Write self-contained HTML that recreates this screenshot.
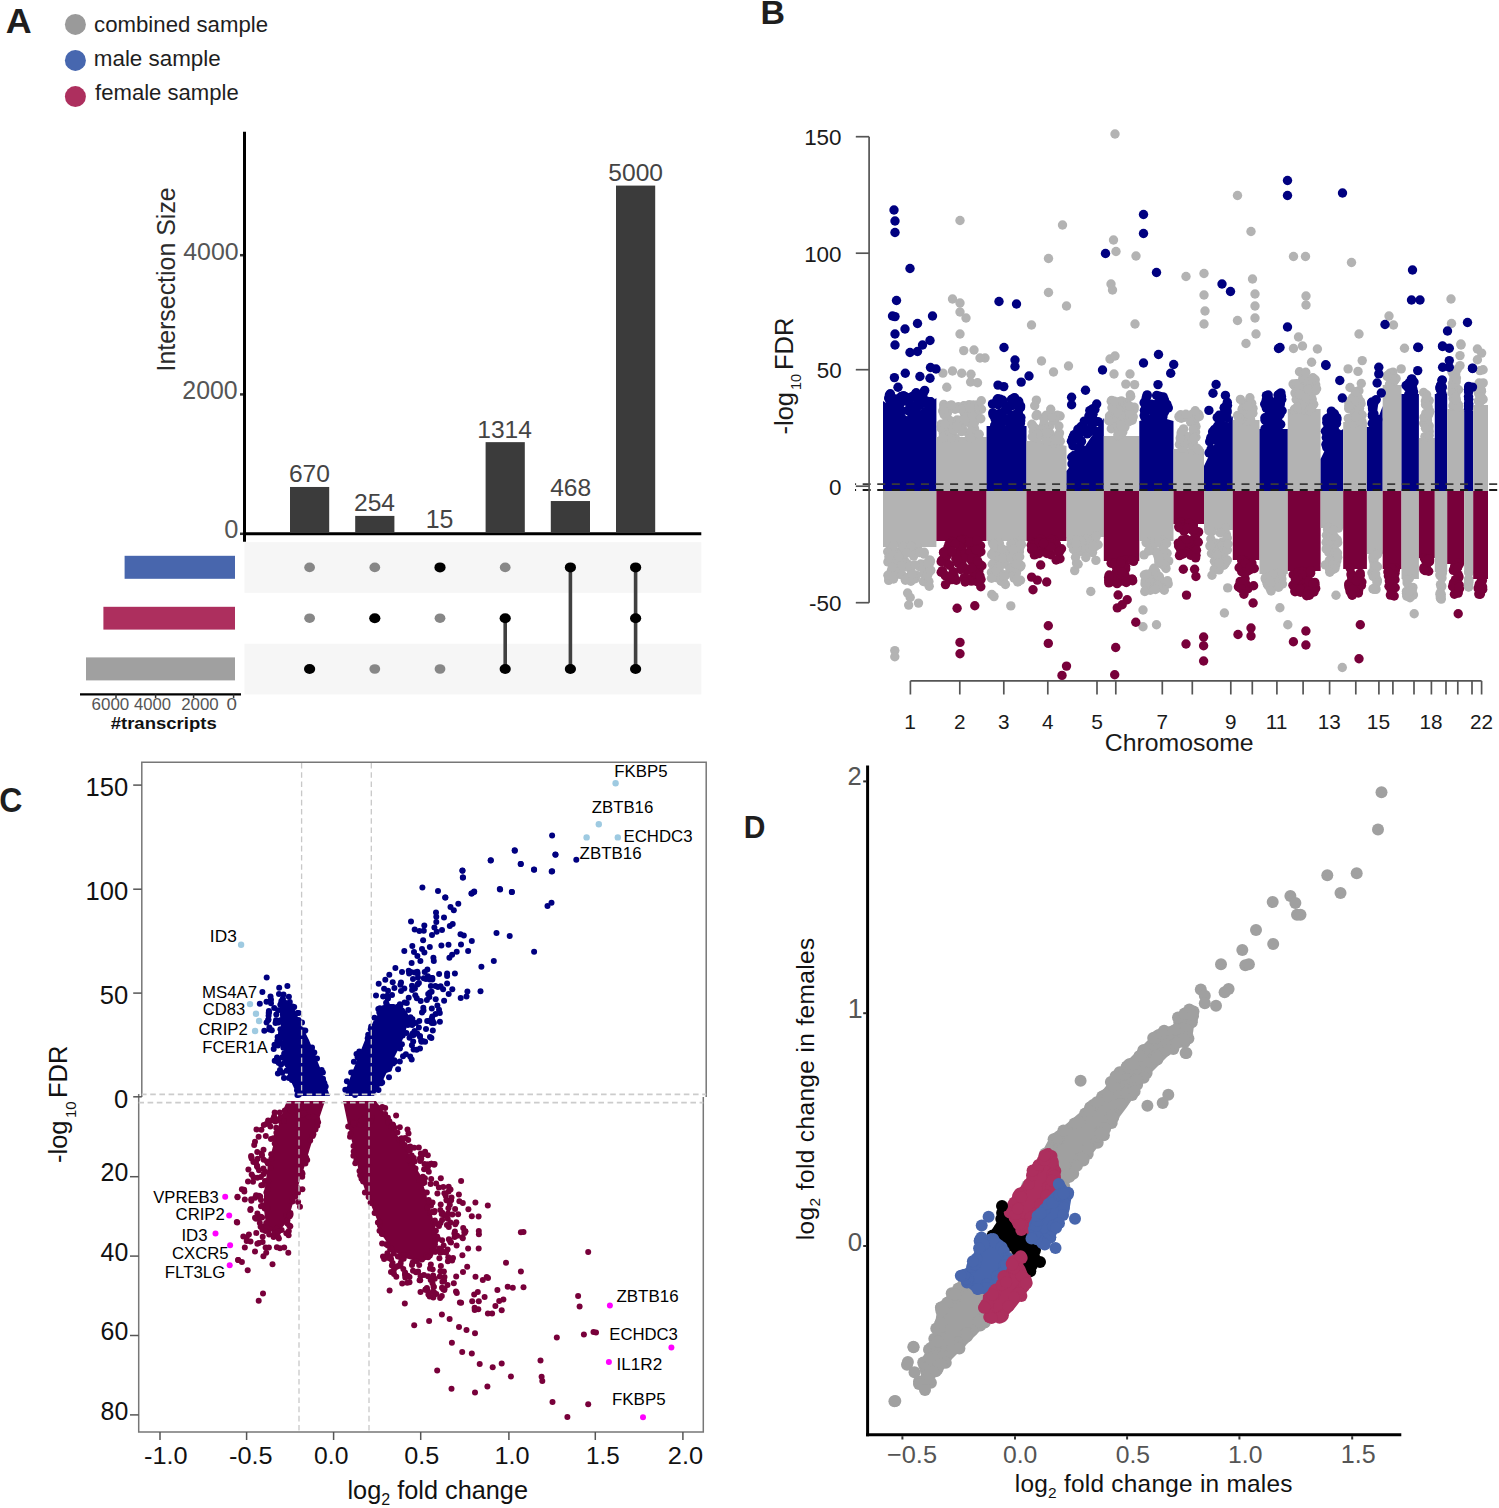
<!DOCTYPE html>
<html><head><meta charset="utf-8"><style>
html,body{margin:0;padding:0;background:#fff;}
svg{display:block;font-family:"Liberation Sans",sans-serif;}
</style></head><body>
<svg width="1499" height="1508" viewBox="0 0 1499 1508">
<rect width="1499" height="1508" fill="#fff"/>
<circle cx="75.4" cy="24.4" r="10.5" fill="#9a9a9a"/>
<circle cx="75.4" cy="60.4" r="10.5" fill="#4767af"/>
<circle cx="75.4" cy="96.6" r="10.5" fill="#ad2f5e"/>
<line x1="244.50" y1="131.80" x2="244.50" y2="541.80" stroke="#000" stroke-width="3"/>
<line x1="243.00" y1="533.80" x2="701.30" y2="533.80" stroke="#000" stroke-width="3"/>
<line x1="240.00" y1="255.20" x2="243.00" y2="255.20" stroke="#333" stroke-width="2.5"/>
<line x1="240.00" y1="394.40" x2="243.00" y2="394.40" stroke="#333" stroke-width="2.5"/>
<line x1="240.00" y1="533.80" x2="243.00" y2="533.80" stroke="#333" stroke-width="2.5"/>
<rect x="290.00" y="486.97" width="39.20" height="46.03" fill="#3b3b3b"/>
<rect x="355.20" y="515.92" width="39.20" height="17.08" fill="#3b3b3b"/>
<rect x="420.40" y="532.56" width="39.20" height="0.44" fill="#3b3b3b"/>
<rect x="485.60" y="442.15" width="39.20" height="90.85" fill="#3b3b3b"/>
<rect x="550.80" y="501.03" width="39.20" height="31.97" fill="#3b3b3b"/>
<rect x="616.00" y="185.60" width="39.20" height="347.40" fill="#3b3b3b"/>
<rect x="244.50" y="542.20" width="456.80" height="50.60" fill="#f6f6f6"/>
<rect x="244.50" y="643.80" width="456.80" height="50.60" fill="#f6f6f6"/>
<ellipse cx="309.6" cy="567.4" rx="5.4" ry="4.8" fill="#878787"/>
<ellipse cx="309.6" cy="618.2" rx="5.4" ry="4.8" fill="#878787"/>
<ellipse cx="309.6" cy="669.0" rx="5.6" ry="5.0" fill="#000"/>
<ellipse cx="374.8" cy="567.4" rx="5.4" ry="4.8" fill="#878787"/>
<ellipse cx="374.8" cy="618.2" rx="5.6" ry="5.0" fill="#000"/>
<ellipse cx="374.8" cy="669.0" rx="5.4" ry="4.8" fill="#878787"/>
<ellipse cx="440.0" cy="567.4" rx="5.6" ry="5.0" fill="#000"/>
<ellipse cx="440.0" cy="618.2" rx="5.4" ry="4.8" fill="#878787"/>
<ellipse cx="440.0" cy="669.0" rx="5.4" ry="4.8" fill="#878787"/>
<line x1="505.20" y1="618.20" x2="505.20" y2="669.00" stroke="#404040" stroke-width="3.6"/>
<ellipse cx="505.2" cy="567.4" rx="5.4" ry="4.8" fill="#878787"/>
<ellipse cx="505.2" cy="618.2" rx="5.6" ry="5.0" fill="#000"/>
<ellipse cx="505.2" cy="669.0" rx="5.6" ry="5.0" fill="#000"/>
<line x1="570.40" y1="567.40" x2="570.40" y2="669.00" stroke="#404040" stroke-width="3.6"/>
<ellipse cx="570.4" cy="567.4" rx="5.6" ry="5.0" fill="#000"/>
<ellipse cx="570.4" cy="669.0" rx="5.6" ry="5.0" fill="#000"/>
<line x1="635.60" y1="567.40" x2="635.60" y2="669.00" stroke="#404040" stroke-width="3.6"/>
<ellipse cx="635.6" cy="567.4" rx="5.6" ry="5.0" fill="#000"/>
<ellipse cx="635.6" cy="618.2" rx="5.6" ry="5.0" fill="#000"/>
<ellipse cx="635.6" cy="669.0" rx="5.6" ry="5.0" fill="#000"/>
<rect x="124.60" y="555.80" width="110.40" height="23.00" fill="#4866ad"/>
<rect x="103.40" y="606.80" width="131.60" height="22.80" fill="#ad2f5e"/>
<rect x="86.00" y="657.40" width="149.00" height="23.00" fill="#a0a0a0"/>
<line x1="80.00" y1="694.40" x2="241.00" y2="694.40" stroke="#000" stroke-width="2.4"/>
<line x1="116.00" y1="694.40" x2="116.00" y2="698.00" stroke="#333" stroke-width="1.5"/>
<line x1="155.60" y1="694.40" x2="155.60" y2="698.00" stroke="#333" stroke-width="1.5"/>
<line x1="193.60" y1="694.40" x2="193.60" y2="698.00" stroke="#333" stroke-width="1.5"/>
<line x1="233.60" y1="694.40" x2="233.60" y2="698.00" stroke="#333" stroke-width="1.5"/>
<g fill="#000080"><polygon points="883.0,491.0 936.4,491.0 936.4,398.0 929.7,403.0 923.0,408.0 916.4,413.0 909.7,418.0 903.0,413.8 896.4,409.5 889.7,405.2 883.0,401.0"/><circle cx="901.9" cy="411.0" r="4.7"/><circle cx="916.3" cy="412.9" r="4.7"/><circle cx="911.3" cy="408.9" r="4.7"/><circle cx="890.3" cy="398.0" r="4.7"/><circle cx="889.3" cy="398.9" r="4.7"/><circle cx="890.8" cy="405.9" r="4.7"/><circle cx="906.4" cy="397.9" r="4.7"/><circle cx="893.1" cy="404.6" r="4.7"/><circle cx="915.3" cy="394.0" r="4.7"/><circle cx="913.1" cy="407.1" r="4.7"/><circle cx="930.7" cy="403.2" r="4.7"/><circle cx="925.5" cy="401.9" r="4.7"/><circle cx="894.0" cy="407.2" r="4.7"/><circle cx="901.3" cy="396.4" r="4.7"/><circle cx="895.7" cy="398.9" r="4.7"/><circle cx="915.8" cy="406.1" r="4.7"/><circle cx="911.8" cy="416.4" r="4.7"/><circle cx="890.3" cy="403.4" r="4.7"/><circle cx="917.6" cy="403.8" r="4.7"/><circle cx="901.5" cy="401.2" r="4.7"/><circle cx="907.6" cy="410.5" r="4.7"/><circle cx="922.7" cy="395.7" r="4.7"/><circle cx="898.4" cy="400.2" r="4.7"/><circle cx="910.8" cy="397.4" r="4.7"/><circle cx="919.8" cy="405.5" r="4.7"/><circle cx="930.8" cy="401.7" r="4.7"/><circle cx="906.1" cy="399.3" r="4.7"/><circle cx="894.4" cy="400.1" r="4.7"/><circle cx="889.4" cy="395.0" r="4.7"/><circle cx="921.3" cy="398.8" r="4.7"/><circle cx="926.2" cy="401.0" r="4.7"/><circle cx="918.3" cy="399.9" r="4.7"/><circle cx="913.2" cy="405.7" r="4.7"/><circle cx="924.7" cy="390.4" r="4.7"/><circle cx="908.6" cy="402.3" r="4.7"/><circle cx="890.4" cy="394.8" r="4.7"/><circle cx="916.2" cy="392.7" r="4.7"/><circle cx="923.9" cy="403.0" r="4.7"/><circle cx="904.7" cy="400.7" r="4.7"/><circle cx="888.7" cy="398.1" r="4.7"/><circle cx="895.1" cy="407.9" r="4.7"/><circle cx="890.3" cy="393.7" r="4.7"/><circle cx="893.4" cy="404.2" r="4.7"/><circle cx="904.9" cy="396.4" r="4.7"/><circle cx="891.2" cy="399.4" r="4.7"/><circle cx="911.9" cy="396.7" r="4.7"/><circle cx="923.7" cy="392.2" r="4.7"/><circle cx="900.0" cy="404.1" r="4.7"/><circle cx="903.5" cy="395.7" r="4.7"/><circle cx="929.8" cy="401.7" r="4.7"/><circle cx="895.5" cy="405.7" r="4.7"/><circle cx="898.0" cy="387.3" r="4.7"/></g>
<g fill="#b3b3b3"><rect x="883.0" y="491.0" width="53.4" height="56.0"/><circle cx="913.6" cy="556.1" r="4.7"/><circle cx="887.9" cy="561.9" r="4.7"/><circle cx="903.9" cy="567.2" r="4.7"/><circle cx="929.6" cy="571.5" r="4.7"/><circle cx="910.4" cy="569.0" r="4.7"/><circle cx="917.5" cy="547.7" r="4.7"/><circle cx="927.3" cy="574.6" r="4.7"/><circle cx="926.2" cy="575.2" r="4.7"/><circle cx="905.0" cy="561.2" r="4.7"/><circle cx="892.3" cy="569.6" r="4.7"/><circle cx="890.4" cy="548.3" r="4.7"/><circle cx="896.9" cy="552.2" r="4.7"/><circle cx="902.7" cy="547.6" r="4.7"/><circle cx="887.7" cy="551.8" r="4.7"/><circle cx="892.2" cy="559.9" r="4.7"/><circle cx="888.8" cy="577.8" r="4.7"/><circle cx="914.7" cy="551.7" r="4.7"/><circle cx="898.8" cy="559.3" r="4.7"/><circle cx="903.7" cy="550.6" r="4.7"/><circle cx="925.1" cy="581.8" r="4.7"/><circle cx="908.2" cy="564.2" r="4.7"/><circle cx="891.5" cy="549.7" r="4.7"/><circle cx="902.8" cy="556.2" r="4.7"/><circle cx="924.2" cy="552.2" r="4.7"/><circle cx="888.7" cy="580.4" r="4.7"/><circle cx="910.9" cy="551.6" r="4.7"/><circle cx="911.6" cy="546.4" r="4.7"/><circle cx="910.9" cy="581.3" r="4.7"/><circle cx="925.7" cy="571.7" r="4.7"/><circle cx="899.2" cy="560.0" r="4.7"/><circle cx="895.0" cy="574.3" r="4.7"/><circle cx="911.1" cy="574.6" r="4.7"/><circle cx="902.2" cy="554.6" r="4.7"/><circle cx="923.4" cy="581.5" r="4.7"/><circle cx="925.2" cy="575.5" r="4.7"/><circle cx="923.7" cy="573.2" r="4.7"/><circle cx="897.7" cy="565.5" r="4.7"/><circle cx="903.3" cy="546.5" r="4.7"/><circle cx="888.9" cy="556.7" r="4.7"/><circle cx="899.1" cy="571.6" r="4.7"/><circle cx="929.8" cy="562.9" r="4.7"/><circle cx="928.9" cy="581.6" r="4.7"/><circle cx="929.7" cy="559.9" r="4.7"/><circle cx="897.4" cy="554.7" r="4.7"/><circle cx="896.4" cy="553.9" r="4.7"/><circle cx="915.2" cy="578.7" r="4.7"/><circle cx="924.7" cy="564.1" r="4.7"/><circle cx="916.4" cy="575.3" r="4.7"/><circle cx="891.4" cy="570.5" r="4.7"/><circle cx="927.7" cy="574.7" r="4.7"/><circle cx="920.7" cy="564.0" r="4.7"/><circle cx="895.6" cy="574.9" r="4.7"/><circle cx="902.3" cy="575.3" r="4.7"/><circle cx="930.5" cy="561.1" r="4.7"/><circle cx="905.4" cy="580.2" r="4.7"/><circle cx="919.6" cy="552.5" r="4.7"/><circle cx="893.3" cy="551.8" r="4.7"/><circle cx="927.5" cy="575.5" r="4.7"/><circle cx="894.1" cy="576.2" r="4.7"/><circle cx="930.8" cy="570.4" r="4.7"/><circle cx="903.1" cy="566.6" r="4.7"/><circle cx="893.5" cy="545.8" r="4.7"/><circle cx="930.4" cy="570.1" r="4.7"/><circle cx="910.9" cy="579.8" r="4.7"/><circle cx="906.8" cy="577.7" r="4.7"/><circle cx="924.1" cy="554.1" r="4.7"/><circle cx="898.8" cy="557.3" r="4.7"/><circle cx="898.3" cy="567.9" r="4.7"/><circle cx="899.1" cy="561.9" r="4.7"/><circle cx="893.5" cy="579.0" r="4.7"/><circle cx="903.3" cy="563.3" r="4.7"/><circle cx="913.4" cy="578.8" r="4.7"/><circle cx="906.2" cy="579.2" r="4.7"/><circle cx="909.8" cy="566.0" r="4.7"/><circle cx="910.7" cy="546.0" r="4.7"/><circle cx="907.1" cy="553.0" r="4.7"/><circle cx="887.9" cy="575.2" r="4.7"/><circle cx="895.3" cy="563.9" r="4.7"/><circle cx="919.6" cy="566.8" r="4.7"/><circle cx="902.0" cy="565.5" r="4.7"/><circle cx="912.1" cy="574.7" r="4.7"/><circle cx="892.4" cy="567.0" r="4.7"/><circle cx="898.6" cy="556.6" r="4.7"/><circle cx="921.7" cy="565.1" r="4.7"/><circle cx="912.4" cy="573.9" r="4.7"/><circle cx="927.8" cy="562.8" r="4.7"/><circle cx="914.7" cy="565.0" r="4.7"/><circle cx="910.2" cy="597.5" r="4.7"/><circle cx="907.6" cy="593.0" r="4.7"/><circle cx="908.7" cy="605.1" r="4.7"/><circle cx="918.5" cy="603.1" r="4.7"/><circle cx="929.2" cy="586.3" r="4.7"/></g>
<g fill="#b3b3b3"><polygon points="936.4,491.0 986.6,491.0 986.6,437.0 980.3,437.0 974.0,437.0 967.8,437.0 961.5,437.0 955.2,437.0 949.0,437.0 942.7,437.0 936.4,437.0"/><circle cx="963.9" cy="405.8" r="4.7"/><circle cx="975.4" cy="433.1" r="4.7"/><circle cx="946.1" cy="422.2" r="4.7"/><circle cx="944.1" cy="429.3" r="4.7"/><circle cx="944.1" cy="414.6" r="4.7"/><circle cx="973.1" cy="407.3" r="4.7"/><circle cx="947.4" cy="413.1" r="4.7"/><circle cx="968.0" cy="432.9" r="4.7"/><circle cx="977.1" cy="405.0" r="4.7"/><circle cx="950.1" cy="405.5" r="4.7"/><circle cx="957.3" cy="420.7" r="4.7"/><circle cx="981.5" cy="409.3" r="4.7"/><circle cx="947.7" cy="422.6" r="4.7"/><circle cx="962.1" cy="425.8" r="4.7"/><circle cx="949.1" cy="426.5" r="4.7"/><circle cx="970.6" cy="438.0" r="4.7"/><circle cx="963.7" cy="422.3" r="4.7"/><circle cx="941.8" cy="426.0" r="4.7"/><circle cx="966.6" cy="419.8" r="4.7"/><circle cx="943.7" cy="404.5" r="4.7"/><circle cx="973.3" cy="404.9" r="4.7"/><circle cx="945.4" cy="428.4" r="4.7"/><circle cx="942.7" cy="411.0" r="4.7"/><circle cx="952.1" cy="433.4" r="4.7"/><circle cx="958.3" cy="406.8" r="4.7"/><circle cx="974.5" cy="428.6" r="4.7"/><circle cx="947.2" cy="406.6" r="4.7"/><circle cx="964.4" cy="413.6" r="4.7"/><circle cx="944.8" cy="436.3" r="4.7"/><circle cx="969.2" cy="422.8" r="4.7"/><circle cx="944.1" cy="405.9" r="4.7"/><circle cx="967.0" cy="410.3" r="4.7"/><circle cx="944.5" cy="408.6" r="4.7"/><circle cx="943.8" cy="408.4" r="4.7"/><circle cx="959.6" cy="425.8" r="4.7"/><circle cx="963.7" cy="406.3" r="4.7"/><circle cx="952.0" cy="433.5" r="4.7"/><circle cx="962.6" cy="429.4" r="4.7"/><circle cx="945.6" cy="432.2" r="4.7"/><circle cx="943.2" cy="430.7" r="4.7"/><circle cx="953.8" cy="427.0" r="4.7"/><circle cx="972.1" cy="427.5" r="4.7"/><circle cx="961.5" cy="431.6" r="4.7"/><circle cx="955.3" cy="438.1" r="4.7"/><circle cx="951.3" cy="438.2" r="4.7"/><circle cx="971.0" cy="418.5" r="4.7"/><circle cx="948.8" cy="421.1" r="4.7"/><circle cx="979.2" cy="434.3" r="4.7"/><circle cx="974.5" cy="422.6" r="4.7"/><circle cx="961.3" cy="409.3" r="4.7"/><circle cx="957.1" cy="420.0" r="4.7"/><circle cx="969.2" cy="404.6" r="4.7"/><circle cx="955.1" cy="409.3" r="4.7"/><circle cx="969.9" cy="415.7" r="4.7"/><circle cx="957.6" cy="425.5" r="4.7"/><circle cx="943.3" cy="433.4" r="4.7"/><circle cx="944.0" cy="412.3" r="4.7"/><circle cx="951.5" cy="432.2" r="4.7"/><circle cx="944.5" cy="409.0" r="4.7"/><circle cx="976.6" cy="414.6" r="4.7"/><circle cx="952.6" cy="429.2" r="4.7"/><circle cx="953.1" cy="421.6" r="4.7"/><circle cx="947.5" cy="422.1" r="4.7"/><circle cx="951.8" cy="405.2" r="4.7"/><circle cx="980.8" cy="418.7" r="4.7"/><circle cx="951.1" cy="405.1" r="4.7"/><circle cx="953.7" cy="425.2" r="4.7"/><circle cx="941.1" cy="424.3" r="4.7"/><circle cx="960.5" cy="420.2" r="4.7"/><circle cx="949.3" cy="420.1" r="4.7"/><circle cx="941.3" cy="428.4" r="4.7"/><circle cx="944.8" cy="423.7" r="4.7"/><circle cx="942.8" cy="437.8" r="4.7"/><circle cx="953.5" cy="429.6" r="4.7"/><circle cx="965.0" cy="419.3" r="4.7"/><circle cx="971.7" cy="415.0" r="4.7"/><circle cx="970.3" cy="407.8" r="4.7"/><circle cx="957.0" cy="426.2" r="4.7"/><circle cx="981.3" cy="400.7" r="4.7"/><circle cx="970.6" cy="382.0" r="4.7"/><circle cx="942.9" cy="373.1" r="4.7"/><circle cx="977.5" cy="382.7" r="4.7"/><circle cx="971.0" cy="374.2" r="4.7"/><circle cx="946.8" cy="387.2" r="4.7"/><circle cx="961.7" cy="373.2" r="4.7"/></g>
<g fill="#78003a"><rect x="936.4" y="491.0" width="50.2" height="50.0"/><circle cx="973.9" cy="575.2" r="4.7"/><circle cx="964.9" cy="577.8" r="4.7"/><circle cx="969.0" cy="569.9" r="4.7"/><circle cx="950.5" cy="540.9" r="4.7"/><circle cx="946.5" cy="556.2" r="4.7"/><circle cx="945.4" cy="575.6" r="4.7"/><circle cx="963.9" cy="567.3" r="4.7"/><circle cx="966.7" cy="569.4" r="4.7"/><circle cx="961.1" cy="539.3" r="4.7"/><circle cx="973.6" cy="572.1" r="4.7"/><circle cx="961.6" cy="563.5" r="4.7"/><circle cx="968.0" cy="542.7" r="4.7"/><circle cx="971.2" cy="551.4" r="4.7"/><circle cx="944.1" cy="552.0" r="4.7"/><circle cx="970.9" cy="549.3" r="4.7"/><circle cx="971.3" cy="581.1" r="4.7"/><circle cx="961.3" cy="557.1" r="4.7"/><circle cx="960.6" cy="569.5" r="4.7"/><circle cx="972.4" cy="566.8" r="4.7"/><circle cx="967.3" cy="543.3" r="4.7"/><circle cx="947.1" cy="551.5" r="4.7"/><circle cx="971.4" cy="553.7" r="4.7"/><circle cx="964.3" cy="539.8" r="4.7"/><circle cx="943.6" cy="552.2" r="4.7"/><circle cx="968.5" cy="569.9" r="4.7"/><circle cx="968.7" cy="553.2" r="4.7"/><circle cx="962.2" cy="560.6" r="4.7"/><circle cx="960.1" cy="545.3" r="4.7"/><circle cx="977.6" cy="549.1" r="4.7"/><circle cx="981.0" cy="579.5" r="4.7"/><circle cx="941.8" cy="560.3" r="4.7"/><circle cx="974.6" cy="580.8" r="4.7"/><circle cx="959.4" cy="552.2" r="4.7"/><circle cx="949.7" cy="579.9" r="4.7"/><circle cx="949.7" cy="565.4" r="4.7"/><circle cx="946.9" cy="563.0" r="4.7"/><circle cx="980.0" cy="546.0" r="4.7"/><circle cx="974.6" cy="562.4" r="4.7"/><circle cx="977.3" cy="570.3" r="4.7"/><circle cx="950.5" cy="578.0" r="4.7"/><circle cx="960.9" cy="540.5" r="4.7"/><circle cx="941.2" cy="561.7" r="4.7"/><circle cx="959.5" cy="553.6" r="4.7"/><circle cx="946.8" cy="555.5" r="4.7"/><circle cx="954.0" cy="575.8" r="4.7"/><circle cx="941.2" cy="572.2" r="4.7"/><circle cx="975.3" cy="545.4" r="4.7"/><circle cx="978.9" cy="570.7" r="4.7"/><circle cx="977.9" cy="553.1" r="4.7"/><circle cx="956.3" cy="557.5" r="4.7"/><circle cx="981.9" cy="565.7" r="4.7"/><circle cx="955.8" cy="559.0" r="4.7"/><circle cx="952.3" cy="541.8" r="4.7"/><circle cx="945.2" cy="575.5" r="4.7"/><circle cx="952.8" cy="579.5" r="4.7"/><circle cx="951.3" cy="552.0" r="4.7"/><circle cx="961.9" cy="548.6" r="4.7"/><circle cx="956.3" cy="580.3" r="4.7"/><circle cx="977.2" cy="574.6" r="4.7"/><circle cx="966.8" cy="578.6" r="4.7"/><circle cx="979.5" cy="564.1" r="4.7"/><circle cx="970.5" cy="541.9" r="4.7"/><circle cx="971.0" cy="560.0" r="4.7"/><circle cx="971.8" cy="568.0" r="4.7"/><circle cx="952.8" cy="541.8" r="4.7"/><circle cx="978.9" cy="545.7" r="4.7"/><circle cx="960.4" cy="555.4" r="4.7"/><circle cx="953.2" cy="571.8" r="4.7"/><circle cx="980.9" cy="551.8" r="4.7"/><circle cx="967.9" cy="553.6" r="4.7"/><circle cx="963.8" cy="557.6" r="4.7"/><circle cx="947.9" cy="547.3" r="4.7"/><circle cx="949.6" cy="578.3" r="4.7"/><circle cx="961.4" cy="550.0" r="4.7"/><circle cx="978.1" cy="581.9" r="4.7"/><circle cx="959.5" cy="546.3" r="4.7"/><circle cx="949.0" cy="544.0" r="4.7"/><circle cx="955.1" cy="544.0" r="4.7"/><circle cx="950.9" cy="551.7" r="4.7"/><circle cx="964.3" cy="577.6" r="4.7"/><circle cx="971.7" cy="558.4" r="4.7"/><circle cx="958.0" cy="563.0" r="4.7"/><circle cx="956.5" cy="555.2" r="4.7"/><circle cx="943.6" cy="552.6" r="4.7"/><circle cx="980.6" cy="545.7" r="4.7"/><circle cx="961.6" cy="567.4" r="4.7"/><circle cx="976.3" cy="549.8" r="4.7"/><circle cx="952.2" cy="551.3" r="4.7"/><circle cx="957.4" cy="559.8" r="4.7"/><circle cx="980.0" cy="576.1" r="4.7"/><circle cx="976.7" cy="540.4" r="4.7"/><circle cx="942.4" cy="570.6" r="4.7"/><circle cx="977.6" cy="560.9" r="4.7"/><circle cx="965.1" cy="582.0" r="4.7"/><circle cx="957.1" cy="608.3" r="4.7"/><circle cx="974.8" cy="605.7" r="4.7"/><circle cx="980.8" cy="586.7" r="4.7"/><circle cx="945.5" cy="584.6" r="4.7"/></g>
<g fill="#000080"><polygon points="986.6,491.0 1026.5,491.0 1026.5,426.0 1021.5,426.0 1016.5,426.0 1011.5,426.0 1006.5,426.0 1001.6,426.0 996.6,426.0 991.6,426.0 986.6,426.0"/><circle cx="1007.2" cy="406.7" r="4.7"/><circle cx="1020.0" cy="405.6" r="4.7"/><circle cx="1011.0" cy="404.4" r="4.7"/><circle cx="1005.2" cy="410.4" r="4.7"/><circle cx="992.5" cy="403.9" r="4.7"/><circle cx="998.4" cy="400.2" r="4.7"/><circle cx="1011.0" cy="417.7" r="4.7"/><circle cx="995.2" cy="419.3" r="4.7"/><circle cx="1010.7" cy="406.3" r="4.7"/><circle cx="994.7" cy="425.2" r="4.7"/><circle cx="1007.3" cy="409.5" r="4.7"/><circle cx="1003.1" cy="420.2" r="4.7"/><circle cx="1009.6" cy="427.5" r="4.7"/><circle cx="1000.5" cy="413.1" r="4.7"/><circle cx="1020.5" cy="407.8" r="4.7"/><circle cx="1018.3" cy="412.6" r="4.7"/><circle cx="998.5" cy="419.5" r="4.7"/><circle cx="1020.6" cy="406.1" r="4.7"/><circle cx="1000.7" cy="427.0" r="4.7"/><circle cx="1006.5" cy="407.0" r="4.7"/><circle cx="1004.1" cy="419.2" r="4.7"/><circle cx="1011.7" cy="400.0" r="4.7"/><circle cx="998.2" cy="426.6" r="4.7"/><circle cx="1001.6" cy="414.2" r="4.7"/><circle cx="1012.1" cy="421.0" r="4.7"/><circle cx="1015.6" cy="405.1" r="4.7"/><circle cx="1006.7" cy="420.8" r="4.7"/><circle cx="1020.9" cy="417.5" r="4.7"/><circle cx="1016.3" cy="420.0" r="4.7"/><circle cx="998.1" cy="404.6" r="4.7"/><circle cx="1000.3" cy="399.3" r="4.7"/><circle cx="1006.4" cy="421.4" r="4.7"/><circle cx="998.1" cy="414.3" r="4.7"/><circle cx="1011.6" cy="399.4" r="4.7"/><circle cx="995.8" cy="415.0" r="4.7"/><circle cx="997.8" cy="398.7" r="4.7"/><circle cx="995.6" cy="425.9" r="4.7"/><circle cx="993.1" cy="415.0" r="4.7"/><circle cx="1018.7" cy="401.2" r="4.7"/><circle cx="1013.6" cy="398.1" r="4.7"/><circle cx="1019.7" cy="417.0" r="4.7"/><circle cx="997.0" cy="399.7" r="4.7"/><circle cx="1014.1" cy="426.6" r="4.7"/><circle cx="1011.6" cy="415.5" r="4.7"/><circle cx="1002.7" cy="416.9" r="4.7"/><circle cx="996.5" cy="427.8" r="4.7"/><circle cx="999.8" cy="416.3" r="4.7"/><circle cx="1020.4" cy="423.4" r="4.7"/><circle cx="1020.7" cy="420.7" r="4.7"/><circle cx="1002.2" cy="402.9" r="4.7"/><circle cx="1016.4" cy="413.9" r="4.7"/><circle cx="992.8" cy="412.7" r="4.7"/><circle cx="1002.7" cy="400.2" r="4.7"/><circle cx="997.2" cy="415.9" r="4.7"/><circle cx="1018.7" cy="426.7" r="4.7"/><circle cx="1003.8" cy="386.6" r="4.7"/><circle cx="1014.7" cy="397.8" r="4.7"/></g>
<g fill="#b3b3b3"><rect x="986.6" y="491.0" width="39.9" height="50.0"/><circle cx="992.4" cy="542.6" r="4.7"/><circle cx="1019.4" cy="551.7" r="4.7"/><circle cx="1014.1" cy="578.1" r="4.7"/><circle cx="1001.6" cy="552.3" r="4.7"/><circle cx="1020.5" cy="566.8" r="4.7"/><circle cx="999.3" cy="570.9" r="4.7"/><circle cx="1001.0" cy="552.5" r="4.7"/><circle cx="991.4" cy="572.4" r="4.7"/><circle cx="1019.3" cy="567.5" r="4.7"/><circle cx="1020.1" cy="540.5" r="4.7"/><circle cx="998.4" cy="561.0" r="4.7"/><circle cx="1020.5" cy="580.2" r="4.7"/><circle cx="1003.1" cy="551.4" r="4.7"/><circle cx="1004.4" cy="561.8" r="4.7"/><circle cx="1019.6" cy="548.3" r="4.7"/><circle cx="1015.8" cy="571.7" r="4.7"/><circle cx="1016.4" cy="573.1" r="4.7"/><circle cx="1009.8" cy="554.8" r="4.7"/><circle cx="1001.0" cy="556.2" r="4.7"/><circle cx="1015.2" cy="543.4" r="4.7"/><circle cx="997.3" cy="572.3" r="4.7"/><circle cx="998.8" cy="542.7" r="4.7"/><circle cx="992.3" cy="564.2" r="4.7"/><circle cx="1001.2" cy="581.2" r="4.7"/><circle cx="1018.2" cy="581.5" r="4.7"/><circle cx="999.4" cy="543.6" r="4.7"/><circle cx="994.2" cy="562.0" r="4.7"/><circle cx="1012.9" cy="559.8" r="4.7"/><circle cx="998.4" cy="558.6" r="4.7"/><circle cx="1010.2" cy="569.2" r="4.7"/><circle cx="1014.1" cy="576.0" r="4.7"/><circle cx="1011.6" cy="545.4" r="4.7"/><circle cx="1016.9" cy="553.3" r="4.7"/><circle cx="1008.6" cy="556.7" r="4.7"/><circle cx="1013.8" cy="549.1" r="4.7"/><circle cx="998.8" cy="551.1" r="4.7"/><circle cx="996.0" cy="577.5" r="4.7"/><circle cx="1008.9" cy="554.7" r="4.7"/><circle cx="1003.4" cy="581.7" r="4.7"/><circle cx="1006.8" cy="550.5" r="4.7"/><circle cx="1016.0" cy="568.3" r="4.7"/><circle cx="1021.5" cy="544.5" r="4.7"/><circle cx="1005.8" cy="574.9" r="4.7"/><circle cx="1016.9" cy="578.7" r="4.7"/><circle cx="992.5" cy="553.3" r="4.7"/><circle cx="994.9" cy="548.6" r="4.7"/><circle cx="1021.0" cy="565.5" r="4.7"/><circle cx="1019.7" cy="556.7" r="4.7"/><circle cx="1017.7" cy="559.9" r="4.7"/><circle cx="999.2" cy="573.3" r="4.7"/><circle cx="1020.1" cy="544.7" r="4.7"/><circle cx="1009.5" cy="567.0" r="4.7"/><circle cx="997.9" cy="556.5" r="4.7"/><circle cx="995.6" cy="549.3" r="4.7"/><circle cx="999.1" cy="566.1" r="4.7"/><circle cx="1011.2" cy="549.3" r="4.7"/><circle cx="991.6" cy="554.7" r="4.7"/><circle cx="1012.0" cy="548.4" r="4.7"/><circle cx="1000.8" cy="549.3" r="4.7"/><circle cx="1015.6" cy="564.0" r="4.7"/><circle cx="993.2" cy="544.5" r="4.7"/><circle cx="1003.4" cy="564.1" r="4.7"/><circle cx="1010.8" cy="544.0" r="4.7"/><circle cx="996.3" cy="570.0" r="4.7"/><circle cx="1003.8" cy="552.8" r="4.7"/><circle cx="1000.7" cy="580.2" r="4.7"/><circle cx="1000.8" cy="564.8" r="4.7"/><circle cx="1002.2" cy="558.5" r="4.7"/><circle cx="1017.7" cy="581.9" r="4.7"/><circle cx="1002.4" cy="549.0" r="4.7"/><circle cx="1013.5" cy="549.3" r="4.7"/><circle cx="991.5" cy="578.2" r="4.7"/><circle cx="1004.2" cy="575.0" r="4.7"/><circle cx="1003.7" cy="577.4" r="4.7"/><circle cx="1005.4" cy="584.5" r="4.7"/><circle cx="991.8" cy="594.5" r="4.7"/><circle cx="1010.8" cy="605.9" r="4.7"/><circle cx="994.0" cy="596.6" r="4.7"/></g>
<g fill="#b3b3b3"><polygon points="1026.5,491.0 1066.5,491.0 1066.5,446.0 1061.5,444.8 1056.5,443.5 1051.5,442.2 1046.5,441.0 1041.5,441.0 1036.5,441.0 1031.5,441.0 1026.5,441.0"/><circle cx="1042.5" cy="427.3" r="4.7"/><circle cx="1035.7" cy="433.7" r="4.7"/><circle cx="1047.1" cy="416.0" r="4.7"/><circle cx="1034.5" cy="427.7" r="4.7"/><circle cx="1055.8" cy="415.8" r="4.7"/><circle cx="1037.2" cy="438.5" r="4.7"/><circle cx="1060.1" cy="416.0" r="4.7"/><circle cx="1046.0" cy="440.9" r="4.7"/><circle cx="1059.5" cy="433.1" r="4.7"/><circle cx="1058.9" cy="426.0" r="4.7"/><circle cx="1056.4" cy="439.6" r="4.7"/><circle cx="1055.2" cy="437.4" r="4.7"/><circle cx="1043.6" cy="418.0" r="4.7"/><circle cx="1056.6" cy="438.9" r="4.7"/><circle cx="1037.9" cy="430.3" r="4.7"/><circle cx="1047.0" cy="430.9" r="4.7"/><circle cx="1035.0" cy="434.8" r="4.7"/><circle cx="1053.4" cy="417.5" r="4.7"/><circle cx="1032.5" cy="425.7" r="4.7"/><circle cx="1054.4" cy="443.4" r="4.7"/><circle cx="1056.8" cy="441.1" r="4.7"/><circle cx="1049.5" cy="426.6" r="4.7"/><circle cx="1050.4" cy="433.8" r="4.7"/><circle cx="1044.1" cy="425.2" r="4.7"/><circle cx="1044.2" cy="423.1" r="4.7"/><circle cx="1044.9" cy="429.2" r="4.7"/><circle cx="1031.9" cy="424.2" r="4.7"/><circle cx="1046.2" cy="435.1" r="4.7"/><circle cx="1054.6" cy="420.9" r="4.7"/><circle cx="1045.2" cy="436.8" r="4.7"/><circle cx="1045.7" cy="439.1" r="4.7"/><circle cx="1035.1" cy="429.4" r="4.7"/><circle cx="1034.0" cy="429.1" r="4.7"/><circle cx="1046.8" cy="441.4" r="4.7"/><circle cx="1050.7" cy="440.9" r="4.7"/><circle cx="1053.6" cy="420.8" r="4.7"/><circle cx="1046.9" cy="441.0" r="4.7"/><circle cx="1046.6" cy="430.9" r="4.7"/><circle cx="1060.3" cy="441.3" r="4.7"/><circle cx="1057.4" cy="415.2" r="4.7"/><circle cx="1053.6" cy="419.8" r="4.7"/><circle cx="1037.1" cy="414.5" r="4.7"/><circle cx="1046.3" cy="415.1" r="4.7"/><circle cx="1059.2" cy="440.1" r="4.7"/><circle cx="1055.3" cy="416.8" r="4.7"/><circle cx="1033.2" cy="431.7" r="4.7"/><circle cx="1054.3" cy="439.2" r="4.7"/><circle cx="1058.6" cy="436.4" r="4.7"/><circle cx="1056.2" cy="440.1" r="4.7"/><circle cx="1046.6" cy="416.1" r="4.7"/><circle cx="1037.6" cy="434.3" r="4.7"/><circle cx="1046.7" cy="432.7" r="4.7"/><circle cx="1032.3" cy="436.7" r="4.7"/><circle cx="1036.1" cy="415.7" r="4.7"/><circle cx="1052.0" cy="417.4" r="4.7"/><circle cx="1036.4" cy="400.1" r="4.7"/><circle cx="1034.7" cy="405.7" r="4.7"/><circle cx="1050.7" cy="409.3" r="4.7"/></g>
<g fill="#78003a"><rect x="1026.5" y="491.0" width="40.0" height="50.0"/><circle cx="1057.9" cy="548.4" r="4.7"/><circle cx="1048.9" cy="553.3" r="4.7"/><circle cx="1034.4" cy="554.9" r="4.7"/><circle cx="1050.5" cy="545.9" r="4.7"/><circle cx="1055.6" cy="543.8" r="4.7"/><circle cx="1061.5" cy="548.8" r="4.7"/><circle cx="1042.2" cy="551.6" r="4.7"/><circle cx="1044.7" cy="542.4" r="4.7"/><circle cx="1054.0" cy="540.0" r="4.7"/><circle cx="1056.3" cy="543.7" r="4.7"/><circle cx="1050.8" cy="554.8" r="4.7"/><circle cx="1049.1" cy="550.1" r="4.7"/><circle cx="1040.8" cy="539.1" r="4.7"/><circle cx="1032.2" cy="541.9" r="4.7"/><circle cx="1050.1" cy="546.5" r="4.7"/><circle cx="1046.9" cy="553.5" r="4.7"/><circle cx="1035.2" cy="543.2" r="4.7"/><circle cx="1051.2" cy="539.5" r="4.7"/><circle cx="1031.3" cy="545.3" r="4.7"/><circle cx="1034.5" cy="545.3" r="4.7"/><circle cx="1038.1" cy="548.9" r="4.7"/><circle cx="1049.2" cy="542.8" r="4.7"/><circle cx="1050.3" cy="547.2" r="4.7"/><circle cx="1035.3" cy="554.1" r="4.7"/><circle cx="1038.7" cy="541.9" r="4.7"/><circle cx="1034.1" cy="549.7" r="4.7"/><circle cx="1057.9" cy="551.8" r="4.7"/><circle cx="1043.5" cy="543.8" r="4.7"/><circle cx="1031.6" cy="549.8" r="4.7"/><circle cx="1048.4" cy="545.2" r="4.7"/><circle cx="1051.0" cy="546.7" r="4.7"/><circle cx="1059.9" cy="551.1" r="4.7"/><circle cx="1038.8" cy="553.6" r="4.7"/><circle cx="1032.5" cy="548.1" r="4.7"/><circle cx="1043.6" cy="543.4" r="4.7"/><circle cx="1033.0" cy="589.7" r="4.7"/><circle cx="1031.6" cy="577.1" r="4.7"/><circle cx="1060.0" cy="558.8" r="4.7"/><circle cx="1037.3" cy="580.1" r="4.7"/><circle cx="1046.7" cy="582.0" r="4.7"/><circle cx="1056.1" cy="560.0" r="4.7"/><circle cx="1040.7" cy="565.0" r="4.7"/></g>
<g fill="#000080"><polygon points="1066.5,491.0 1103.8,491.0 1103.8,418.0 1099.1,425.0 1094.5,432.0 1089.8,439.0 1085.2,446.0 1080.5,452.2 1075.8,458.5 1071.2,464.8 1066.5,471.0"/><circle cx="1072.6" cy="438.2" r="4.7"/><circle cx="1093.0" cy="414.2" r="4.7"/><circle cx="1071.4" cy="441.3" r="4.7"/><circle cx="1092.0" cy="422.6" r="4.7"/><circle cx="1091.9" cy="423.1" r="4.7"/><circle cx="1077.5" cy="454.2" r="4.7"/><circle cx="1077.7" cy="456.3" r="4.7"/><circle cx="1080.6" cy="429.6" r="4.7"/><circle cx="1090.6" cy="413.5" r="4.7"/><circle cx="1091.1" cy="429.9" r="4.7"/><circle cx="1086.7" cy="430.4" r="4.7"/><circle cx="1093.2" cy="419.4" r="4.7"/><circle cx="1078.6" cy="435.8" r="4.7"/><circle cx="1098.1" cy="421.6" r="4.7"/><circle cx="1095.8" cy="431.4" r="4.7"/><circle cx="1078.5" cy="448.4" r="4.7"/><circle cx="1092.0" cy="409.2" r="4.7"/><circle cx="1092.0" cy="426.7" r="4.7"/><circle cx="1095.8" cy="421.6" r="4.7"/><circle cx="1077.9" cy="429.3" r="4.7"/><circle cx="1088.8" cy="419.9" r="4.7"/><circle cx="1089.8" cy="410.6" r="4.7"/><circle cx="1084.3" cy="421.1" r="4.7"/><circle cx="1090.7" cy="413.0" r="4.7"/><circle cx="1083.4" cy="426.0" r="4.7"/><circle cx="1087.1" cy="433.9" r="4.7"/><circle cx="1077.1" cy="438.6" r="4.7"/><circle cx="1073.4" cy="436.4" r="4.7"/><circle cx="1075.2" cy="460.1" r="4.7"/><circle cx="1074.2" cy="434.6" r="4.7"/><circle cx="1080.8" cy="448.3" r="4.7"/><circle cx="1072.0" cy="463.9" r="4.7"/><circle cx="1090.5" cy="419.6" r="4.7"/><circle cx="1090.6" cy="416.5" r="4.7"/><circle cx="1073.0" cy="445.7" r="4.7"/><circle cx="1081.3" cy="426.4" r="4.7"/><circle cx="1094.1" cy="408.3" r="4.7"/><circle cx="1073.0" cy="438.0" r="4.7"/><circle cx="1096.7" cy="404.0" r="4.7"/><circle cx="1074.2" cy="455.4" r="4.7"/><circle cx="1074.3" cy="461.1" r="4.7"/><circle cx="1094.9" cy="409.5" r="4.7"/><circle cx="1088.9" cy="416.0" r="4.7"/><circle cx="1088.8" cy="432.3" r="4.7"/><circle cx="1074.0" cy="459.3" r="4.7"/><circle cx="1092.3" cy="430.0" r="4.7"/><circle cx="1080.1" cy="440.2" r="4.7"/><circle cx="1071.8" cy="457.3" r="4.7"/><circle cx="1079.1" cy="432.9" r="4.7"/><circle cx="1081.5" cy="441.4" r="4.7"/></g>
<g fill="#b3b3b3"><rect x="1066.5" y="491.0" width="37.3" height="46.0"/><circle cx="1098.1" cy="544.7" r="4.7"/><circle cx="1095.0" cy="546.7" r="4.7"/><circle cx="1072.1" cy="543.1" r="4.7"/><circle cx="1083.4" cy="549.3" r="4.7"/><circle cx="1080.9" cy="548.1" r="4.7"/><circle cx="1086.2" cy="539.5" r="4.7"/><circle cx="1095.3" cy="537.1" r="4.7"/><circle cx="1094.1" cy="538.7" r="4.7"/><circle cx="1071.2" cy="539.3" r="4.7"/><circle cx="1092.5" cy="552.6" r="4.7"/><circle cx="1071.3" cy="544.5" r="4.7"/><circle cx="1084.9" cy="549.7" r="4.7"/><circle cx="1076.3" cy="544.6" r="4.7"/><circle cx="1080.9" cy="550.3" r="4.7"/><circle cx="1078.5" cy="552.1" r="4.7"/><circle cx="1079.1" cy="539.5" r="4.7"/><circle cx="1090.7" cy="544.6" r="4.7"/><circle cx="1074.3" cy="547.0" r="4.7"/><circle cx="1073.5" cy="549.5" r="4.7"/><circle cx="1090.7" cy="549.5" r="4.7"/><circle cx="1088.7" cy="542.1" r="4.7"/><circle cx="1082.4" cy="542.8" r="4.7"/><circle cx="1096.0" cy="537.0" r="4.7"/><circle cx="1096.0" cy="535.7" r="4.7"/><circle cx="1077.0" cy="540.4" r="4.7"/><circle cx="1096.3" cy="544.7" r="4.7"/><circle cx="1081.8" cy="551.1" r="4.7"/><circle cx="1077.7" cy="544.0" r="4.7"/><circle cx="1086.0" cy="549.0" r="4.7"/><circle cx="1092.2" cy="547.2" r="4.7"/><circle cx="1080.9" cy="541.6" r="4.7"/><circle cx="1075.5" cy="550.4" r="4.7"/><circle cx="1089.7" cy="548.8" r="4.7"/><circle cx="1075.9" cy="543.6" r="4.7"/><circle cx="1092.8" cy="546.0" r="4.7"/><circle cx="1074.7" cy="570.6" r="4.7"/><circle cx="1095.9" cy="560.4" r="4.7"/><circle cx="1076.5" cy="563.1" r="4.7"/><circle cx="1090.8" cy="591.5" r="4.7"/><circle cx="1075.5" cy="557.3" r="4.7"/><circle cx="1078.1" cy="564.2" r="4.7"/><circle cx="1085.8" cy="557.5" r="4.7"/></g>
<g fill="#b3b3b3"><polygon points="1103.8,491.0 1139.3,491.0 1139.3,436.0 1134.9,436.0 1130.4,436.0 1126.0,436.0 1121.5,436.0 1117.1,436.0 1112.7,436.0 1108.2,436.0 1103.8,436.0"/><circle cx="1117.1" cy="429.5" r="4.7"/><circle cx="1134.0" cy="409.4" r="4.7"/><circle cx="1111.2" cy="401.3" r="4.7"/><circle cx="1111.2" cy="421.9" r="4.7"/><circle cx="1134.2" cy="407.1" r="4.7"/><circle cx="1127.6" cy="420.0" r="4.7"/><circle cx="1113.6" cy="412.6" r="4.7"/><circle cx="1111.3" cy="428.8" r="4.7"/><circle cx="1118.6" cy="436.2" r="4.7"/><circle cx="1118.9" cy="407.2" r="4.7"/><circle cx="1126.6" cy="417.6" r="4.7"/><circle cx="1125.0" cy="419.0" r="4.7"/><circle cx="1112.2" cy="413.9" r="4.7"/><circle cx="1119.1" cy="409.0" r="4.7"/><circle cx="1132.2" cy="420.2" r="4.7"/><circle cx="1123.5" cy="408.7" r="4.7"/><circle cx="1119.5" cy="427.9" r="4.7"/><circle cx="1127.3" cy="404.1" r="4.7"/><circle cx="1128.7" cy="410.4" r="4.7"/><circle cx="1130.7" cy="411.2" r="4.7"/><circle cx="1125.2" cy="419.3" r="4.7"/><circle cx="1116.7" cy="413.0" r="4.7"/><circle cx="1111.1" cy="420.6" r="4.7"/><circle cx="1128.9" cy="410.0" r="4.7"/><circle cx="1124.9" cy="427.1" r="4.7"/><circle cx="1119.6" cy="419.3" r="4.7"/><circle cx="1124.7" cy="421.0" r="4.7"/><circle cx="1126.1" cy="402.4" r="4.7"/><circle cx="1113.3" cy="412.1" r="4.7"/><circle cx="1128.8" cy="421.8" r="4.7"/><circle cx="1121.3" cy="400.9" r="4.7"/><circle cx="1109.5" cy="416.1" r="4.7"/><circle cx="1112.7" cy="407.6" r="4.7"/><circle cx="1133.0" cy="416.9" r="4.7"/><circle cx="1111.1" cy="414.9" r="4.7"/><circle cx="1122.6" cy="409.8" r="4.7"/><circle cx="1121.9" cy="412.6" r="4.7"/><circle cx="1130.1" cy="416.8" r="4.7"/><circle cx="1119.2" cy="401.8" r="4.7"/><circle cx="1114.0" cy="411.0" r="4.7"/><circle cx="1118.7" cy="408.2" r="4.7"/><circle cx="1111.7" cy="400.5" r="4.7"/><circle cx="1117.8" cy="435.1" r="4.7"/><circle cx="1115.7" cy="421.4" r="4.7"/><circle cx="1108.8" cy="420.6" r="4.7"/><circle cx="1119.5" cy="410.5" r="4.7"/><circle cx="1117.7" cy="426.5" r="4.7"/><circle cx="1114.4" cy="409.0" r="4.7"/><circle cx="1133.0" cy="416.6" r="4.7"/><circle cx="1114.2" cy="406.9" r="4.7"/><circle cx="1118.7" cy="428.6" r="4.7"/><circle cx="1111.9" cy="407.7" r="4.7"/><circle cx="1129.6" cy="412.8" r="4.7"/><circle cx="1120.7" cy="415.4" r="4.7"/><circle cx="1114.4" cy="401.2" r="4.7"/><circle cx="1117.7" cy="412.6" r="4.7"/><circle cx="1129.9" cy="406.3" r="4.7"/><circle cx="1120.7" cy="425.4" r="4.7"/><circle cx="1122.8" cy="432.1" r="4.7"/><circle cx="1130.3" cy="394.8" r="4.7"/><circle cx="1130.7" cy="396.4" r="4.7"/></g>
<g fill="#78003a"><rect x="1103.8" y="491.0" width="35.5" height="70.0"/><circle cx="1118.3" cy="566.3" r="4.7"/><circle cx="1119.6" cy="564.5" r="4.7"/><circle cx="1108.6" cy="577.6" r="4.7"/><circle cx="1115.8" cy="566.0" r="4.7"/><circle cx="1116.4" cy="571.9" r="4.7"/><circle cx="1119.7" cy="575.7" r="4.7"/><circle cx="1125.7" cy="569.0" r="4.7"/><circle cx="1132.7" cy="580.7" r="4.7"/><circle cx="1110.0" cy="580.1" r="4.7"/><circle cx="1132.1" cy="579.1" r="4.7"/><circle cx="1112.2" cy="580.2" r="4.7"/><circle cx="1125.0" cy="559.6" r="4.7"/><circle cx="1108.8" cy="582.9" r="4.7"/><circle cx="1125.6" cy="566.2" r="4.7"/><circle cx="1111.1" cy="563.3" r="4.7"/><circle cx="1114.6" cy="578.9" r="4.7"/><circle cx="1117.5" cy="563.6" r="4.7"/><circle cx="1132.1" cy="579.3" r="4.7"/><circle cx="1112.9" cy="581.5" r="4.7"/><circle cx="1124.4" cy="579.0" r="4.7"/><circle cx="1125.9" cy="581.6" r="4.7"/><circle cx="1129.1" cy="580.3" r="4.7"/><circle cx="1113.7" cy="577.0" r="4.7"/><circle cx="1122.4" cy="578.1" r="4.7"/><circle cx="1119.9" cy="581.3" r="4.7"/><circle cx="1123.0" cy="566.6" r="4.7"/><circle cx="1114.6" cy="563.2" r="4.7"/><circle cx="1121.4" cy="560.9" r="4.7"/><circle cx="1120.7" cy="563.4" r="4.7"/><circle cx="1121.3" cy="572.4" r="4.7"/><circle cx="1122.6" cy="580.9" r="4.7"/><circle cx="1108.7" cy="580.4" r="4.7"/><circle cx="1120.7" cy="573.9" r="4.7"/><circle cx="1125.9" cy="580.4" r="4.7"/><circle cx="1118.3" cy="570.4" r="4.7"/><circle cx="1133.6" cy="561.4" r="4.7"/><circle cx="1125.1" cy="575.6" r="4.7"/><circle cx="1109.2" cy="575.0" r="4.7"/><circle cx="1126.3" cy="582.5" r="4.7"/><circle cx="1117.1" cy="583.6" r="4.7"/><circle cx="1121.8" cy="572.0" r="4.7"/><circle cx="1131.9" cy="560.2" r="4.7"/><circle cx="1127.2" cy="599.8" r="4.7"/><circle cx="1117.3" cy="607.9" r="4.7"/><circle cx="1118.1" cy="595.0" r="4.7"/><circle cx="1122.2" cy="604.7" r="4.7"/></g>
<g fill="#000080"><polygon points="1139.3,491.0 1173.5,491.0 1173.5,421.0 1169.2,419.8 1165.0,418.5 1160.7,417.2 1156.4,416.0 1152.1,417.2 1147.8,418.5 1143.6,419.8 1139.3,421.0"/><circle cx="1149.2" cy="408.2" r="4.7"/><circle cx="1154.5" cy="404.7" r="4.7"/><circle cx="1164.5" cy="412.0" r="4.7"/><circle cx="1164.5" cy="409.2" r="4.7"/><circle cx="1156.5" cy="410.9" r="4.7"/><circle cx="1156.6" cy="395.5" r="4.7"/><circle cx="1160.2" cy="399.6" r="4.7"/><circle cx="1152.2" cy="410.6" r="4.7"/><circle cx="1151.4" cy="404.3" r="4.7"/><circle cx="1159.7" cy="399.7" r="4.7"/><circle cx="1145.0" cy="401.7" r="4.7"/><circle cx="1166.0" cy="405.8" r="4.7"/><circle cx="1145.2" cy="412.4" r="4.7"/><circle cx="1144.2" cy="415.6" r="4.7"/><circle cx="1166.9" cy="404.4" r="4.7"/><circle cx="1160.3" cy="399.6" r="4.7"/><circle cx="1166.6" cy="404.3" r="4.7"/><circle cx="1159.3" cy="403.2" r="4.7"/><circle cx="1161.3" cy="404.1" r="4.7"/><circle cx="1160.9" cy="413.3" r="4.7"/><circle cx="1160.5" cy="407.2" r="4.7"/><circle cx="1162.9" cy="416.7" r="4.7"/><circle cx="1148.5" cy="419.0" r="4.7"/><circle cx="1163.2" cy="396.9" r="4.7"/><circle cx="1160.3" cy="409.3" r="4.7"/><circle cx="1164.4" cy="399.9" r="4.7"/><circle cx="1157.9" cy="411.5" r="4.7"/><circle cx="1151.5" cy="408.2" r="4.7"/><circle cx="1151.9" cy="407.9" r="4.7"/><circle cx="1159.9" cy="396.4" r="4.7"/><circle cx="1145.4" cy="405.5" r="4.7"/><circle cx="1145.0" cy="417.5" r="4.7"/><circle cx="1164.1" cy="404.9" r="4.7"/><circle cx="1166.8" cy="408.4" r="4.7"/><circle cx="1144.4" cy="410.2" r="4.7"/><circle cx="1158.7" cy="396.3" r="4.7"/><circle cx="1168.3" cy="407.9" r="4.7"/><circle cx="1154.2" cy="415.6" r="4.7"/><circle cx="1160.0" cy="413.1" r="4.7"/><circle cx="1147.8" cy="419.9" r="4.7"/><circle cx="1144.1" cy="402.7" r="4.7"/><circle cx="1147.0" cy="395.8" r="4.7"/><circle cx="1146.2" cy="398.1" r="4.7"/><circle cx="1147.2" cy="394.9" r="4.7"/></g>
<g fill="#b3b3b3"><rect x="1139.3" y="491.0" width="34.2" height="50.0"/><circle cx="1161.8" cy="553.8" r="4.7"/><circle cx="1162.2" cy="550.7" r="4.7"/><circle cx="1145.2" cy="581.1" r="4.7"/><circle cx="1161.7" cy="585.1" r="4.7"/><circle cx="1162.1" cy="544.7" r="4.7"/><circle cx="1159.6" cy="577.9" r="4.7"/><circle cx="1155.4" cy="588.8" r="4.7"/><circle cx="1150.3" cy="590.3" r="4.7"/><circle cx="1161.8" cy="539.9" r="4.7"/><circle cx="1144.4" cy="575.0" r="4.7"/><circle cx="1164.3" cy="544.4" r="4.7"/><circle cx="1151.7" cy="578.9" r="4.7"/><circle cx="1148.1" cy="585.3" r="4.7"/><circle cx="1156.1" cy="543.2" r="4.7"/><circle cx="1153.1" cy="571.2" r="4.7"/><circle cx="1154.9" cy="576.3" r="4.7"/><circle cx="1147.6" cy="582.2" r="4.7"/><circle cx="1153.0" cy="574.7" r="4.7"/><circle cx="1159.6" cy="563.2" r="4.7"/><circle cx="1153.6" cy="581.7" r="4.7"/><circle cx="1167.4" cy="581.6" r="4.7"/><circle cx="1158.1" cy="556.5" r="4.7"/><circle cx="1145.5" cy="590.8" r="4.7"/><circle cx="1161.4" cy="583.7" r="4.7"/><circle cx="1152.2" cy="572.8" r="4.7"/><circle cx="1168.2" cy="583.9" r="4.7"/><circle cx="1158.9" cy="557.4" r="4.7"/><circle cx="1154.6" cy="586.6" r="4.7"/><circle cx="1153.3" cy="576.7" r="4.7"/><circle cx="1158.9" cy="587.0" r="4.7"/><circle cx="1164.0" cy="556.0" r="4.7"/><circle cx="1144.0" cy="554.9" r="4.7"/><circle cx="1154.5" cy="571.8" r="4.7"/><circle cx="1164.2" cy="586.6" r="4.7"/><circle cx="1145.0" cy="584.0" r="4.7"/><circle cx="1164.1" cy="585.6" r="4.7"/><circle cx="1158.2" cy="555.5" r="4.7"/><circle cx="1165.1" cy="582.7" r="4.7"/><circle cx="1161.0" cy="587.9" r="4.7"/><circle cx="1152.6" cy="544.8" r="4.7"/><circle cx="1157.7" cy="582.2" r="4.7"/><circle cx="1149.0" cy="579.9" r="4.7"/><circle cx="1167.1" cy="553.3" r="4.7"/><circle cx="1159.1" cy="576.3" r="4.7"/><circle cx="1155.5" cy="551.8" r="4.7"/><circle cx="1150.3" cy="580.0" r="4.7"/><circle cx="1163.6" cy="565.3" r="4.7"/><circle cx="1146.2" cy="582.7" r="4.7"/><circle cx="1163.1" cy="553.3" r="4.7"/><circle cx="1158.4" cy="587.1" r="4.7"/><circle cx="1166.0" cy="568.5" r="4.7"/><circle cx="1155.8" cy="571.9" r="4.7"/><circle cx="1148.7" cy="551.0" r="4.7"/><circle cx="1148.5" cy="577.5" r="4.7"/><circle cx="1153.0" cy="570.7" r="4.7"/><circle cx="1154.0" cy="568.3" r="4.7"/><circle cx="1147.7" cy="542.2" r="4.7"/><circle cx="1168.7" cy="560.9" r="4.7"/><circle cx="1146.6" cy="574.1" r="4.7"/><circle cx="1163.5" cy="549.0" r="4.7"/><circle cx="1158.8" cy="559.3" r="4.7"/><circle cx="1156.9" cy="540.6" r="4.7"/><circle cx="1144.8" cy="591.5" r="4.7"/><circle cx="1165.5" cy="566.7" r="4.7"/><circle cx="1158.1" cy="554.9" r="4.7"/><circle cx="1163.3" cy="563.6" r="4.7"/><circle cx="1167.5" cy="580.8" r="4.7"/><circle cx="1164.3" cy="590.3" r="4.7"/><circle cx="1150.3" cy="541.8" r="4.7"/><circle cx="1149.0" cy="550.4" r="4.7"/><circle cx="1146.1" cy="542.6" r="4.7"/><circle cx="1157.8" cy="585.8" r="4.7"/><circle cx="1155.4" cy="589.5" r="4.7"/><circle cx="1166.6" cy="543.5" r="4.7"/><circle cx="1158.8" cy="562.1" r="4.7"/></g>
<g fill="#b3b3b3"><polygon points="1173.5,491.0 1204.0,491.0 1204.0,449.0 1200.2,449.0 1196.4,449.0 1192.6,449.0 1188.8,449.0 1184.9,449.0 1181.1,449.0 1177.3,449.0 1173.5,449.0"/><circle cx="1180.7" cy="415.4" r="4.7"/><circle cx="1183.6" cy="428.9" r="4.7"/><circle cx="1191.7" cy="415.5" r="4.7"/><circle cx="1192.3" cy="435.0" r="4.7"/><circle cx="1187.7" cy="443.9" r="4.7"/><circle cx="1198.6" cy="414.3" r="4.7"/><circle cx="1182.9" cy="449.0" r="4.7"/><circle cx="1183.6" cy="436.5" r="4.7"/><circle cx="1197.2" cy="417.2" r="4.7"/><circle cx="1195.9" cy="448.6" r="4.7"/><circle cx="1194.8" cy="423.8" r="4.7"/><circle cx="1191.8" cy="414.5" r="4.7"/><circle cx="1179.4" cy="444.5" r="4.7"/><circle cx="1194.1" cy="416.0" r="4.7"/><circle cx="1192.5" cy="438.5" r="4.7"/><circle cx="1190.7" cy="422.2" r="4.7"/><circle cx="1180.4" cy="437.6" r="4.7"/><circle cx="1183.6" cy="445.3" r="4.7"/><circle cx="1188.4" cy="443.5" r="4.7"/><circle cx="1183.2" cy="444.6" r="4.7"/><circle cx="1192.5" cy="450.3" r="4.7"/><circle cx="1193.3" cy="442.5" r="4.7"/><circle cx="1179.0" cy="416.4" r="4.7"/><circle cx="1182.9" cy="416.2" r="4.7"/><circle cx="1196.5" cy="417.7" r="4.7"/><circle cx="1181.1" cy="433.1" r="4.7"/><circle cx="1180.2" cy="416.4" r="4.7"/><circle cx="1196.0" cy="426.6" r="4.7"/><circle cx="1187.7" cy="437.0" r="4.7"/><circle cx="1195.6" cy="432.0" r="4.7"/><circle cx="1191.5" cy="444.6" r="4.7"/><circle cx="1182.9" cy="448.2" r="4.7"/><circle cx="1193.3" cy="429.3" r="4.7"/><circle cx="1181.3" cy="418.3" r="4.7"/><circle cx="1183.8" cy="434.4" r="4.7"/><circle cx="1181.5" cy="439.6" r="4.7"/><circle cx="1195.9" cy="437.2" r="4.7"/><circle cx="1181.7" cy="431.5" r="4.7"/><circle cx="1184.9" cy="417.2" r="4.7"/><circle cx="1180.6" cy="414.7" r="4.7"/><circle cx="1179.4" cy="417.5" r="4.7"/><circle cx="1192.3" cy="441.9" r="4.7"/><circle cx="1188.3" cy="439.0" r="4.7"/><circle cx="1183.6" cy="442.2" r="4.7"/><circle cx="1185.9" cy="414.3" r="4.7"/><circle cx="1199.3" cy="416.5" r="4.7"/><circle cx="1180.3" cy="438.9" r="4.7"/><circle cx="1197.1" cy="448.2" r="4.7"/><circle cx="1193.5" cy="438.7" r="4.7"/><circle cx="1198.8" cy="450.1" r="4.7"/><circle cx="1195.2" cy="410.8" r="4.7"/></g>
<g fill="#78003a"><rect x="1173.5" y="491.0" width="30.5" height="33.0"/><circle cx="1181.2" cy="522.1" r="4.7"/><circle cx="1195.8" cy="543.3" r="4.7"/><circle cx="1182.1" cy="540.0" r="4.7"/><circle cx="1197.4" cy="531.7" r="4.7"/><circle cx="1190.3" cy="528.4" r="4.7"/><circle cx="1182.0" cy="552.1" r="4.7"/><circle cx="1193.2" cy="530.8" r="4.7"/><circle cx="1179.9" cy="526.2" r="4.7"/><circle cx="1191.0" cy="542.2" r="4.7"/><circle cx="1184.0" cy="531.2" r="4.7"/><circle cx="1191.1" cy="549.8" r="4.7"/><circle cx="1195.3" cy="545.4" r="4.7"/><circle cx="1182.5" cy="525.3" r="4.7"/><circle cx="1193.7" cy="539.0" r="4.7"/><circle cx="1193.4" cy="524.8" r="4.7"/><circle cx="1195.3" cy="536.2" r="4.7"/><circle cx="1196.0" cy="555.3" r="4.7"/><circle cx="1188.6" cy="522.9" r="4.7"/><circle cx="1197.4" cy="541.5" r="4.7"/><circle cx="1196.6" cy="533.5" r="4.7"/><circle cx="1182.1" cy="554.2" r="4.7"/><circle cx="1185.9" cy="529.4" r="4.7"/><circle cx="1186.0" cy="545.8" r="4.7"/><circle cx="1178.3" cy="543.1" r="4.7"/><circle cx="1187.6" cy="542.9" r="4.7"/><circle cx="1180.7" cy="550.1" r="4.7"/><circle cx="1195.4" cy="555.4" r="4.7"/><circle cx="1185.0" cy="550.0" r="4.7"/><circle cx="1186.2" cy="551.4" r="4.7"/><circle cx="1179.5" cy="555.6" r="4.7"/><circle cx="1198.3" cy="542.2" r="4.7"/><circle cx="1189.0" cy="543.5" r="4.7"/><circle cx="1189.5" cy="523.2" r="4.7"/><circle cx="1198.6" cy="531.9" r="4.7"/><circle cx="1182.0" cy="526.9" r="4.7"/><circle cx="1183.5" cy="553.7" r="4.7"/><circle cx="1178.8" cy="526.6" r="4.7"/><circle cx="1192.9" cy="530.7" r="4.7"/><circle cx="1178.6" cy="546.0" r="4.7"/><circle cx="1190.4" cy="543.2" r="4.7"/><circle cx="1193.0" cy="526.9" r="4.7"/><circle cx="1196.5" cy="550.2" r="4.7"/><circle cx="1179.2" cy="527.8" r="4.7"/><circle cx="1188.6" cy="542.4" r="4.7"/><circle cx="1184.1" cy="527.7" r="4.7"/><circle cx="1186.8" cy="528.3" r="4.7"/><circle cx="1190.7" cy="555.2" r="4.7"/><circle cx="1181.3" cy="545.0" r="4.7"/><circle cx="1194.0" cy="529.5" r="4.7"/><circle cx="1195.6" cy="557.9" r="4.7"/><circle cx="1186.4" cy="539.4" r="4.7"/><circle cx="1195.9" cy="576.5" r="4.7"/><circle cx="1186.5" cy="595.1" r="4.7"/><circle cx="1194.6" cy="569.3" r="4.7"/><circle cx="1183.3" cy="569.2" r="4.7"/></g>
<g fill="#000080"><polygon points="1204.0,491.0 1232.8,491.0 1232.8,416.0 1229.2,421.0 1225.6,426.0 1222.0,431.0 1218.4,436.0 1214.8,443.5 1211.2,451.0 1207.6,458.5 1204.0,466.0"/><circle cx="1217.2" cy="417.6" r="4.7"/><circle cx="1224.3" cy="407.5" r="4.7"/><circle cx="1224.5" cy="408.6" r="4.7"/><circle cx="1209.7" cy="441.7" r="4.7"/><circle cx="1227.3" cy="402.3" r="4.7"/><circle cx="1213.5" cy="436.8" r="4.7"/><circle cx="1221.0" cy="424.9" r="4.7"/><circle cx="1219.0" cy="435.1" r="4.7"/><circle cx="1217.1" cy="428.0" r="4.7"/><circle cx="1209.1" cy="452.9" r="4.7"/><circle cx="1227.5" cy="405.5" r="4.7"/><circle cx="1226.9" cy="409.8" r="4.7"/><circle cx="1224.4" cy="408.0" r="4.7"/><circle cx="1225.9" cy="426.5" r="4.7"/><circle cx="1221.1" cy="427.0" r="4.7"/><circle cx="1221.9" cy="425.8" r="4.7"/><circle cx="1219.2" cy="415.3" r="4.7"/><circle cx="1220.8" cy="428.0" r="4.7"/><circle cx="1218.8" cy="426.6" r="4.7"/><circle cx="1227.1" cy="417.8" r="4.7"/><circle cx="1214.6" cy="429.4" r="4.7"/><circle cx="1211.0" cy="437.3" r="4.7"/><circle cx="1227.2" cy="412.1" r="4.7"/><circle cx="1213.9" cy="435.0" r="4.7"/><circle cx="1219.1" cy="432.9" r="4.7"/><circle cx="1211.1" cy="449.1" r="4.7"/><circle cx="1214.4" cy="435.5" r="4.7"/><circle cx="1214.3" cy="439.7" r="4.7"/><circle cx="1210.4" cy="439.7" r="4.7"/><circle cx="1225.0" cy="413.2" r="4.7"/><circle cx="1219.8" cy="420.3" r="4.7"/><circle cx="1212.6" cy="431.7" r="4.7"/><circle cx="1217.6" cy="426.0" r="4.7"/><circle cx="1220.6" cy="423.1" r="4.7"/><circle cx="1214.7" cy="438.9" r="4.7"/><circle cx="1213.0" cy="393.2" r="4.7"/><circle cx="1216.1" cy="384.5" r="4.7"/><circle cx="1208.9" cy="410.4" r="4.7"/><circle cx="1225.4" cy="395.4" r="4.7"/></g>
<g fill="#b3b3b3"><rect x="1204.0" y="491.0" width="28.8" height="39.0"/><circle cx="1219.5" cy="550.2" r="4.7"/><circle cx="1214.2" cy="569.5" r="4.7"/><circle cx="1214.4" cy="561.3" r="4.7"/><circle cx="1211.8" cy="531.7" r="4.7"/><circle cx="1225.6" cy="548.1" r="4.7"/><circle cx="1209.9" cy="545.9" r="4.7"/><circle cx="1217.2" cy="559.9" r="4.7"/><circle cx="1210.8" cy="539.0" r="4.7"/><circle cx="1227.3" cy="560.0" r="4.7"/><circle cx="1211.7" cy="543.8" r="4.7"/><circle cx="1215.5" cy="557.5" r="4.7"/><circle cx="1220.7" cy="564.3" r="4.7"/><circle cx="1224.6" cy="551.2" r="4.7"/><circle cx="1223.0" cy="560.2" r="4.7"/><circle cx="1223.4" cy="549.5" r="4.7"/><circle cx="1223.9" cy="558.8" r="4.7"/><circle cx="1226.4" cy="534.6" r="4.7"/><circle cx="1225.6" cy="528.3" r="4.7"/><circle cx="1223.6" cy="554.0" r="4.7"/><circle cx="1218.4" cy="568.6" r="4.7"/><circle cx="1219.8" cy="547.2" r="4.7"/><circle cx="1223.9" cy="565.2" r="4.7"/><circle cx="1220.5" cy="545.6" r="4.7"/><circle cx="1217.5" cy="548.8" r="4.7"/><circle cx="1222.7" cy="541.9" r="4.7"/><circle cx="1216.3" cy="552.7" r="4.7"/><circle cx="1216.2" cy="543.1" r="4.7"/><circle cx="1224.0" cy="564.3" r="4.7"/><circle cx="1218.4" cy="548.2" r="4.7"/><circle cx="1212.3" cy="542.4" r="4.7"/><circle cx="1211.5" cy="553.5" r="4.7"/><circle cx="1220.0" cy="532.7" r="4.7"/><circle cx="1226.6" cy="543.2" r="4.7"/><circle cx="1225.1" cy="563.8" r="4.7"/><circle cx="1227.3" cy="538.1" r="4.7"/><circle cx="1217.0" cy="566.6" r="4.7"/><circle cx="1208.9" cy="530.7" r="4.7"/><circle cx="1219.7" cy="550.4" r="4.7"/><circle cx="1226.6" cy="561.3" r="4.7"/><circle cx="1219.1" cy="569.9" r="4.7"/><circle cx="1218.7" cy="551.2" r="4.7"/><circle cx="1222.0" cy="546.0" r="4.7"/><circle cx="1215.6" cy="554.3" r="4.7"/><circle cx="1215.5" cy="568.0" r="4.7"/><circle cx="1221.8" cy="551.5" r="4.7"/><circle cx="1210.6" cy="545.3" r="4.7"/><circle cx="1216.5" cy="553.0" r="4.7"/><circle cx="1219.8" cy="565.4" r="4.7"/><circle cx="1227.4" cy="550.0" r="4.7"/><circle cx="1217.2" cy="555.5" r="4.7"/><circle cx="1228.0" cy="544.0" r="4.7"/><circle cx="1219.0" cy="563.0" r="4.7"/><circle cx="1212.0" cy="575.2" r="4.7"/><circle cx="1227.7" cy="587.9" r="4.7"/></g>
<g fill="#b3b3b3"><polygon points="1232.8,491.0 1259.5,491.0 1259.5,420.0 1256.2,420.0 1252.8,420.0 1249.5,420.0 1246.2,420.0 1242.8,420.0 1239.5,420.0 1236.1,420.0 1232.8,420.0"/><circle cx="1246.4" cy="419.4" r="4.7"/><circle cx="1253.0" cy="408.4" r="4.7"/><circle cx="1251.7" cy="403.2" r="4.7"/><circle cx="1252.9" cy="413.3" r="4.7"/><circle cx="1240.2" cy="415.8" r="4.7"/><circle cx="1246.4" cy="411.7" r="4.7"/><circle cx="1240.8" cy="417.9" r="4.7"/><circle cx="1248.4" cy="409.9" r="4.7"/><circle cx="1243.6" cy="403.1" r="4.7"/><circle cx="1248.5" cy="420.9" r="4.7"/><circle cx="1244.6" cy="406.7" r="4.7"/><circle cx="1242.8" cy="408.4" r="4.7"/><circle cx="1237.6" cy="415.5" r="4.7"/><circle cx="1252.1" cy="410.3" r="4.7"/><circle cx="1249.1" cy="417.6" r="4.7"/><circle cx="1246.1" cy="410.8" r="4.7"/><circle cx="1242.1" cy="409.2" r="4.7"/><circle cx="1246.7" cy="403.0" r="4.7"/><circle cx="1247.4" cy="413.5" r="4.7"/><circle cx="1239.6" cy="418.4" r="4.7"/><circle cx="1250.6" cy="419.5" r="4.7"/><circle cx="1239.2" cy="418.1" r="4.7"/><circle cx="1246.5" cy="406.1" r="4.7"/><circle cx="1248.1" cy="406.3" r="4.7"/><circle cx="1238.6" cy="421.6" r="4.7"/><circle cx="1250.8" cy="415.1" r="4.7"/><circle cx="1249.9" cy="397.8" r="4.7"/><circle cx="1240.4" cy="399.4" r="4.7"/></g>
<g fill="#78003a"><rect x="1232.8" y="491.0" width="26.7" height="69.0"/><circle cx="1239.2" cy="587.2" r="4.7"/><circle cx="1247.6" cy="570.4" r="4.7"/><circle cx="1245.3" cy="571.6" r="4.7"/><circle cx="1238.4" cy="586.8" r="4.7"/><circle cx="1247.6" cy="588.8" r="4.7"/><circle cx="1245.1" cy="578.8" r="4.7"/><circle cx="1241.8" cy="559.9" r="4.7"/><circle cx="1253.6" cy="585.8" r="4.7"/><circle cx="1242.9" cy="587.1" r="4.7"/><circle cx="1251.6" cy="568.9" r="4.7"/><circle cx="1247.9" cy="588.8" r="4.7"/><circle cx="1246.1" cy="588.5" r="4.7"/><circle cx="1241.7" cy="571.7" r="4.7"/><circle cx="1249.9" cy="566.2" r="4.7"/><circle cx="1242.8" cy="586.4" r="4.7"/><circle cx="1245.9" cy="584.0" r="4.7"/><circle cx="1241.7" cy="564.6" r="4.7"/><circle cx="1243.7" cy="565.1" r="4.7"/><circle cx="1254.3" cy="568.5" r="4.7"/><circle cx="1247.2" cy="562.6" r="4.7"/><circle cx="1246.7" cy="571.6" r="4.7"/><circle cx="1244.5" cy="560.8" r="4.7"/><circle cx="1239.6" cy="584.9" r="4.7"/><circle cx="1243.6" cy="567.0" r="4.7"/><circle cx="1240.8" cy="568.3" r="4.7"/><circle cx="1241.6" cy="559.6" r="4.7"/><circle cx="1249.0" cy="570.2" r="4.7"/><circle cx="1240.2" cy="581.4" r="4.7"/><circle cx="1239.1" cy="567.8" r="4.7"/><circle cx="1251.9" cy="563.0" r="4.7"/><circle cx="1245.2" cy="585.2" r="4.7"/><circle cx="1251.4" cy="564.1" r="4.7"/><circle cx="1243.6" cy="581.9" r="4.7"/><circle cx="1244.0" cy="588.8" r="4.7"/><circle cx="1241.1" cy="588.6" r="4.7"/><circle cx="1246.2" cy="566.4" r="4.7"/><circle cx="1245.3" cy="563.1" r="4.7"/><circle cx="1249.7" cy="567.5" r="4.7"/><circle cx="1253.1" cy="603.0" r="4.7"/><circle cx="1243.9" cy="594.2" r="4.7"/></g>
<g fill="#000080"><polygon points="1259.5,491.0 1287.8,491.0 1287.8,429.0 1284.3,429.0 1280.7,429.0 1277.2,429.0 1273.7,429.0 1270.1,429.0 1266.6,429.0 1263.0,429.0 1259.5,429.0"/><circle cx="1275.7" cy="420.6" r="4.7"/><circle cx="1280.7" cy="424.4" r="4.7"/><circle cx="1273.9" cy="407.3" r="4.7"/><circle cx="1269.3" cy="399.7" r="4.7"/><circle cx="1271.5" cy="403.4" r="4.7"/><circle cx="1274.9" cy="416.5" r="4.7"/><circle cx="1271.6" cy="426.6" r="4.7"/><circle cx="1267.5" cy="397.4" r="4.7"/><circle cx="1270.3" cy="403.5" r="4.7"/><circle cx="1266.3" cy="408.1" r="4.7"/><circle cx="1271.0" cy="409.5" r="4.7"/><circle cx="1269.8" cy="427.6" r="4.7"/><circle cx="1270.1" cy="420.6" r="4.7"/><circle cx="1266.6" cy="402.5" r="4.7"/><circle cx="1269.5" cy="413.5" r="4.7"/><circle cx="1281.4" cy="396.2" r="4.7"/><circle cx="1280.9" cy="392.9" r="4.7"/><circle cx="1266.7" cy="418.9" r="4.7"/><circle cx="1264.8" cy="404.3" r="4.7"/><circle cx="1276.7" cy="414.6" r="4.7"/><circle cx="1272.0" cy="403.2" r="4.7"/><circle cx="1277.4" cy="418.9" r="4.7"/><circle cx="1280.2" cy="414.1" r="4.7"/><circle cx="1276.1" cy="422.0" r="4.7"/><circle cx="1266.4" cy="395.6" r="4.7"/><circle cx="1278.1" cy="399.6" r="4.7"/><circle cx="1265.0" cy="428.9" r="4.7"/><circle cx="1267.3" cy="422.0" r="4.7"/><circle cx="1269.9" cy="414.4" r="4.7"/><circle cx="1264.9" cy="417.7" r="4.7"/><circle cx="1276.3" cy="422.1" r="4.7"/><circle cx="1280.1" cy="404.9" r="4.7"/><circle cx="1277.7" cy="418.6" r="4.7"/><circle cx="1272.4" cy="402.2" r="4.7"/><circle cx="1270.8" cy="430.9" r="4.7"/><circle cx="1280.0" cy="396.6" r="4.7"/><circle cx="1269.6" cy="428.7" r="4.7"/><circle cx="1280.3" cy="403.3" r="4.7"/><circle cx="1265.1" cy="420.3" r="4.7"/><circle cx="1266.3" cy="399.9" r="4.7"/><circle cx="1268.2" cy="395.0" r="4.7"/><circle cx="1278.4" cy="426.3" r="4.7"/><circle cx="1277.3" cy="412.7" r="4.7"/><circle cx="1278.3" cy="395.0" r="4.7"/><circle cx="1269.5" cy="426.5" r="4.7"/><circle cx="1282.1" cy="410.7" r="4.7"/><circle cx="1281.8" cy="399.5" r="4.7"/><circle cx="1278.2" cy="395.0" r="4.7"/><circle cx="1276.1" cy="410.5" r="4.7"/><circle cx="1265.2" cy="403.5" r="4.7"/></g>
<g fill="#b3b3b3"><rect x="1259.5" y="491.0" width="28.3" height="83.0"/><circle cx="1272.3" cy="581.9" r="4.7"/><circle cx="1281.7" cy="574.8" r="4.7"/><circle cx="1278.6" cy="573.1" r="4.7"/><circle cx="1277.5" cy="586.8" r="4.7"/><circle cx="1269.1" cy="582.4" r="4.7"/><circle cx="1282.5" cy="584.0" r="4.7"/><circle cx="1274.5" cy="577.2" r="4.7"/><circle cx="1265.3" cy="579.1" r="4.7"/><circle cx="1272.0" cy="576.3" r="4.7"/><circle cx="1270.1" cy="575.0" r="4.7"/><circle cx="1277.6" cy="584.6" r="4.7"/><circle cx="1268.7" cy="577.0" r="4.7"/><circle cx="1273.9" cy="580.7" r="4.7"/><circle cx="1281.9" cy="579.0" r="4.7"/><circle cx="1269.9" cy="588.1" r="4.7"/><circle cx="1266.9" cy="582.7" r="4.7"/><circle cx="1270.5" cy="587.0" r="4.7"/><circle cx="1274.6" cy="586.1" r="4.7"/><circle cx="1267.4" cy="584.5" r="4.7"/><circle cx="1275.5" cy="581.0" r="4.7"/><circle cx="1278.7" cy="587.2" r="4.7"/><circle cx="1266.4" cy="577.9" r="4.7"/><circle cx="1271.0" cy="576.4" r="4.7"/><circle cx="1265.3" cy="577.7" r="4.7"/><circle cx="1267.9" cy="585.1" r="4.7"/><circle cx="1272.7" cy="574.5" r="4.7"/><circle cx="1270.3" cy="581.1" r="4.7"/><circle cx="1271.1" cy="591.0" r="4.7"/></g>
<g fill="#b3b3b3"><polygon points="1287.8,491.0 1320.6,491.0 1320.6,409.0 1316.5,409.0 1312.4,409.0 1308.3,409.0 1304.2,409.0 1300.1,409.0 1296.0,409.0 1291.9,409.0 1287.8,409.0"/><circle cx="1294.2" cy="410.4" r="4.7"/><circle cx="1315.7" cy="384.7" r="4.7"/><circle cx="1294.5" cy="385.8" r="4.7"/><circle cx="1315.4" cy="390.7" r="4.7"/><circle cx="1295.0" cy="393.1" r="4.7"/><circle cx="1302.7" cy="403.4" r="4.7"/><circle cx="1305.2" cy="410.5" r="4.7"/><circle cx="1314.0" cy="388.1" r="4.7"/><circle cx="1307.2" cy="379.0" r="4.7"/><circle cx="1307.8" cy="401.2" r="4.7"/><circle cx="1298.3" cy="405.3" r="4.7"/><circle cx="1293.1" cy="384.0" r="4.7"/><circle cx="1312.1" cy="399.6" r="4.7"/><circle cx="1296.8" cy="388.3" r="4.7"/><circle cx="1312.3" cy="379.3" r="4.7"/><circle cx="1296.4" cy="383.7" r="4.7"/><circle cx="1311.9" cy="385.0" r="4.7"/><circle cx="1300.1" cy="403.6" r="4.7"/><circle cx="1311.8" cy="398.8" r="4.7"/><circle cx="1301.1" cy="391.1" r="4.7"/><circle cx="1301.1" cy="382.2" r="4.7"/><circle cx="1298.1" cy="409.1" r="4.7"/><circle cx="1305.8" cy="388.6" r="4.7"/><circle cx="1311.7" cy="386.2" r="4.7"/><circle cx="1313.7" cy="378.7" r="4.7"/><circle cx="1304.1" cy="392.8" r="4.7"/><circle cx="1296.2" cy="399.5" r="4.7"/><circle cx="1306.1" cy="407.5" r="4.7"/><circle cx="1308.6" cy="404.3" r="4.7"/><circle cx="1302.9" cy="377.9" r="4.7"/><circle cx="1294.6" cy="409.1" r="4.7"/><circle cx="1302.8" cy="403.3" r="4.7"/><circle cx="1309.4" cy="410.8" r="4.7"/><circle cx="1312.2" cy="381.5" r="4.7"/><circle cx="1310.9" cy="395.2" r="4.7"/><circle cx="1299.1" cy="387.6" r="4.7"/><circle cx="1304.5" cy="395.4" r="4.7"/><circle cx="1300.4" cy="394.8" r="4.7"/><circle cx="1308.1" cy="382.4" r="4.7"/><circle cx="1313.7" cy="404.3" r="4.7"/><circle cx="1299.4" cy="394.7" r="4.7"/><circle cx="1305.7" cy="397.8" r="4.7"/><circle cx="1297.1" cy="407.3" r="4.7"/><circle cx="1300.1" cy="394.1" r="4.7"/><circle cx="1315.2" cy="379.8" r="4.7"/><circle cx="1312.8" cy="377.8" r="4.7"/><circle cx="1315.0" cy="388.9" r="4.7"/><circle cx="1311.5" cy="408.3" r="4.7"/><circle cx="1308.3" cy="389.2" r="4.7"/><circle cx="1299.5" cy="371.7" r="4.7"/></g>
<g fill="#78003a"><rect x="1287.8" y="491.0" width="32.8" height="80.0"/><circle cx="1314.8" cy="582.4" r="4.7"/><circle cx="1307.6" cy="577.8" r="4.7"/><circle cx="1300.5" cy="592.3" r="4.7"/><circle cx="1293.2" cy="574.8" r="4.7"/><circle cx="1308.4" cy="581.6" r="4.7"/><circle cx="1294.5" cy="586.9" r="4.7"/><circle cx="1301.2" cy="584.9" r="4.7"/><circle cx="1302.2" cy="583.7" r="4.7"/><circle cx="1305.7" cy="580.3" r="4.7"/><circle cx="1295.2" cy="574.6" r="4.7"/><circle cx="1313.3" cy="584.1" r="4.7"/><circle cx="1295.1" cy="591.8" r="4.7"/><circle cx="1298.4" cy="572.1" r="4.7"/><circle cx="1304.9" cy="576.5" r="4.7"/><circle cx="1303.9" cy="584.3" r="4.7"/><circle cx="1297.8" cy="584.7" r="4.7"/><circle cx="1295.1" cy="583.3" r="4.7"/><circle cx="1306.3" cy="571.7" r="4.7"/><circle cx="1302.0" cy="571.5" r="4.7"/><circle cx="1302.8" cy="591.8" r="4.7"/><circle cx="1305.4" cy="588.2" r="4.7"/><circle cx="1310.2" cy="572.7" r="4.7"/><circle cx="1315.7" cy="588.4" r="4.7"/><circle cx="1294.9" cy="591.0" r="4.7"/><circle cx="1301.7" cy="574.3" r="4.7"/><circle cx="1315.0" cy="584.5" r="4.7"/><circle cx="1310.6" cy="573.3" r="4.7"/><circle cx="1310.7" cy="571.0" r="4.7"/><circle cx="1298.0" cy="579.7" r="4.7"/><circle cx="1292.9" cy="585.3" r="4.7"/><circle cx="1297.5" cy="577.8" r="4.7"/><circle cx="1309.1" cy="581.1" r="4.7"/><circle cx="1313.3" cy="585.9" r="4.7"/><circle cx="1312.9" cy="584.5" r="4.7"/><circle cx="1314.0" cy="592.0" r="4.7"/><circle cx="1296.4" cy="589.0" r="4.7"/><circle cx="1300.5" cy="589.4" r="4.7"/><circle cx="1308.4" cy="590.9" r="4.7"/><circle cx="1295.4" cy="579.7" r="4.7"/><circle cx="1309.8" cy="593.8" r="4.7"/><circle cx="1309.4" cy="595.3" r="4.7"/><circle cx="1306.6" cy="595.8" r="4.7"/></g>
<g fill="#000080"><polygon points="1320.6,491.0 1343.2,491.0 1343.2,429.0 1340.4,430.8 1337.5,432.5 1334.7,434.2 1331.9,436.0 1329.1,441.8 1326.2,447.5 1323.4,453.2 1320.6,459.0"/><circle cx="1332.5" cy="414.7" r="4.7"/><circle cx="1326.8" cy="418.9" r="4.7"/><circle cx="1334.2" cy="428.5" r="4.7"/><circle cx="1327.8" cy="431.3" r="4.7"/><circle cx="1336.4" cy="418.5" r="4.7"/><circle cx="1326.8" cy="447.4" r="4.7"/><circle cx="1326.8" cy="422.6" r="4.7"/><circle cx="1327.7" cy="428.3" r="4.7"/><circle cx="1329.1" cy="422.3" r="4.7"/><circle cx="1330.3" cy="436.1" r="4.7"/><circle cx="1336.9" cy="419.4" r="4.7"/><circle cx="1334.4" cy="413.7" r="4.7"/><circle cx="1337.8" cy="433.8" r="4.7"/><circle cx="1329.8" cy="436.9" r="4.7"/><circle cx="1331.9" cy="413.2" r="4.7"/><circle cx="1335.9" cy="434.2" r="4.7"/><circle cx="1327.7" cy="420.7" r="4.7"/><circle cx="1334.3" cy="424.6" r="4.7"/><circle cx="1331.6" cy="433.3" r="4.7"/><circle cx="1336.5" cy="423.4" r="4.7"/><circle cx="1336.8" cy="417.5" r="4.7"/><circle cx="1326.3" cy="437.6" r="4.7"/><circle cx="1328.2" cy="417.9" r="4.7"/><circle cx="1333.1" cy="435.6" r="4.7"/><circle cx="1327.5" cy="434.4" r="4.7"/><circle cx="1331.5" cy="421.6" r="4.7"/><circle cx="1330.4" cy="429.6" r="4.7"/><circle cx="1325.4" cy="431.3" r="4.7"/><circle cx="1329.7" cy="441.6" r="4.7"/><circle cx="1331.4" cy="411.1" r="4.7"/><circle cx="1325.9" cy="444.5" r="4.7"/></g>
<g fill="#b3b3b3"><rect x="1320.6" y="491.0" width="22.6" height="37.0"/><circle cx="1334.2" cy="539.7" r="4.7"/><circle cx="1328.9" cy="549.6" r="4.7"/><circle cx="1328.8" cy="552.5" r="4.7"/><circle cx="1332.3" cy="568.3" r="4.7"/><circle cx="1338.4" cy="528.1" r="4.7"/><circle cx="1332.7" cy="560.8" r="4.7"/><circle cx="1336.8" cy="561.0" r="4.7"/><circle cx="1333.7" cy="555.2" r="4.7"/><circle cx="1330.1" cy="540.1" r="4.7"/><circle cx="1335.8" cy="564.9" r="4.7"/><circle cx="1337.7" cy="557.2" r="4.7"/><circle cx="1329.3" cy="560.5" r="4.7"/><circle cx="1335.1" cy="550.0" r="4.7"/><circle cx="1333.7" cy="543.1" r="4.7"/><circle cx="1332.6" cy="545.5" r="4.7"/><circle cx="1326.1" cy="542.5" r="4.7"/><circle cx="1329.6" cy="569.5" r="4.7"/><circle cx="1331.7" cy="543.9" r="4.7"/><circle cx="1328.5" cy="537.9" r="4.7"/><circle cx="1329.9" cy="533.3" r="4.7"/><circle cx="1325.4" cy="564.9" r="4.7"/><circle cx="1331.3" cy="547.3" r="4.7"/><circle cx="1332.8" cy="541.0" r="4.7"/><circle cx="1327.5" cy="529.8" r="4.7"/><circle cx="1329.3" cy="541.3" r="4.7"/><circle cx="1334.9" cy="551.7" r="4.7"/><circle cx="1337.7" cy="542.7" r="4.7"/><circle cx="1337.5" cy="553.1" r="4.7"/><circle cx="1326.4" cy="535.3" r="4.7"/><circle cx="1333.0" cy="569.5" r="4.7"/><circle cx="1330.0" cy="561.0" r="4.7"/><circle cx="1331.0" cy="564.7" r="4.7"/><circle cx="1326.2" cy="548.9" r="4.7"/><circle cx="1337.2" cy="539.8" r="4.7"/><circle cx="1328.7" cy="527.5" r="4.7"/><circle cx="1327.5" cy="539.5" r="4.7"/><circle cx="1334.6" cy="537.2" r="4.7"/><circle cx="1330.6" cy="536.4" r="4.7"/><circle cx="1333.3" cy="564.6" r="4.7"/><circle cx="1333.9" cy="536.2" r="4.7"/><circle cx="1335.0" cy="568.5" r="4.7"/><circle cx="1333.2" cy="530.5" r="4.7"/><circle cx="1336.0" cy="595.2" r="4.7"/><circle cx="1329.8" cy="572.3" r="4.7"/></g>
<g fill="#b3b3b3"><polygon points="1343.2,491.0 1366.9,491.0 1366.9,422.0 1363.9,422.0 1361.0,422.0 1358.0,422.0 1355.1,422.0 1352.1,422.0 1349.1,422.0 1346.2,422.0 1343.2,422.0"/><circle cx="1350.6" cy="404.6" r="4.7"/><circle cx="1360.4" cy="401.3" r="4.7"/><circle cx="1361.1" cy="415.6" r="4.7"/><circle cx="1352.6" cy="397.8" r="4.7"/><circle cx="1357.2" cy="408.9" r="4.7"/><circle cx="1357.6" cy="411.2" r="4.7"/><circle cx="1348.7" cy="408.6" r="4.7"/><circle cx="1348.6" cy="401.7" r="4.7"/><circle cx="1352.7" cy="406.0" r="4.7"/><circle cx="1356.4" cy="414.0" r="4.7"/><circle cx="1354.5" cy="423.3" r="4.7"/><circle cx="1361.1" cy="403.7" r="4.7"/><circle cx="1362.0" cy="421.5" r="4.7"/><circle cx="1356.7" cy="398.6" r="4.7"/><circle cx="1352.6" cy="420.0" r="4.7"/><circle cx="1350.1" cy="418.1" r="4.7"/><circle cx="1358.9" cy="420.1" r="4.7"/><circle cx="1359.5" cy="408.3" r="4.7"/><circle cx="1355.6" cy="402.9" r="4.7"/><circle cx="1355.8" cy="400.7" r="4.7"/><circle cx="1356.5" cy="411.4" r="4.7"/><circle cx="1358.5" cy="414.0" r="4.7"/><circle cx="1358.1" cy="397.3" r="4.7"/><circle cx="1359.0" cy="412.2" r="4.7"/><circle cx="1358.9" cy="390.7" r="4.7"/><circle cx="1354.4" cy="413.2" r="4.7"/><circle cx="1355.4" cy="391.8" r="4.7"/><circle cx="1349.8" cy="423.5" r="4.7"/><circle cx="1354.7" cy="400.8" r="4.7"/><circle cx="1359.0" cy="410.4" r="4.7"/><circle cx="1362.1" cy="415.0" r="4.7"/><circle cx="1358.7" cy="420.1" r="4.7"/><circle cx="1348.3" cy="418.4" r="4.7"/><circle cx="1348.8" cy="405.7" r="4.7"/><circle cx="1355.8" cy="416.7" r="4.7"/><circle cx="1361.3" cy="383.5" r="4.7"/><circle cx="1350.0" cy="387.5" r="4.7"/></g>
<g fill="#78003a"><rect x="1343.2" y="491.0" width="23.7" height="78.0"/><circle cx="1358.4" cy="593.0" r="4.7"/><circle cx="1350.2" cy="568.2" r="4.7"/><circle cx="1359.0" cy="574.8" r="4.7"/><circle cx="1361.9" cy="582.0" r="4.7"/><circle cx="1357.0" cy="577.7" r="4.7"/><circle cx="1359.3" cy="580.9" r="4.7"/><circle cx="1352.5" cy="592.6" r="4.7"/><circle cx="1349.4" cy="588.2" r="4.7"/><circle cx="1348.8" cy="585.9" r="4.7"/><circle cx="1353.6" cy="591.5" r="4.7"/><circle cx="1348.8" cy="583.7" r="4.7"/><circle cx="1353.8" cy="593.0" r="4.7"/><circle cx="1361.4" cy="585.4" r="4.7"/><circle cx="1351.1" cy="575.1" r="4.7"/><circle cx="1351.7" cy="580.2" r="4.7"/><circle cx="1351.2" cy="573.7" r="4.7"/><circle cx="1358.8" cy="585.8" r="4.7"/><circle cx="1352.2" cy="594.9" r="4.7"/><circle cx="1351.0" cy="583.9" r="4.7"/><circle cx="1350.1" cy="591.5" r="4.7"/><circle cx="1360.3" cy="575.5" r="4.7"/><circle cx="1358.6" cy="590.5" r="4.7"/><circle cx="1351.9" cy="577.4" r="4.7"/><circle cx="1354.8" cy="592.2" r="4.7"/><circle cx="1350.2" cy="586.9" r="4.7"/><circle cx="1356.4" cy="580.7" r="4.7"/><circle cx="1356.2" cy="592.0" r="4.7"/><circle cx="1350.9" cy="592.0" r="4.7"/><circle cx="1353.1" cy="589.4" r="4.7"/><circle cx="1360.2" cy="573.1" r="4.7"/><circle cx="1360.3" cy="624.8" r="4.7"/><circle cx="1352.2" cy="595.2" r="4.7"/></g>
<g fill="#000080"><polygon points="1366.9,491.0 1382.7,491.0 1382.7,406.0 1380.7,411.2 1378.8,416.5 1376.8,421.8 1374.8,427.0 1372.8,427.0 1370.9,427.0 1368.9,427.0 1366.9,427.0"/><circle cx="1372.3" cy="402.2" r="4.7"/><circle cx="1371.7" cy="404.1" r="4.7"/><circle cx="1372.6" cy="408.1" r="4.7"/><circle cx="1372.2" cy="423.5" r="4.7"/><circle cx="1376.0" cy="422.6" r="4.7"/><circle cx="1373.8" cy="402.7" r="4.7"/><circle cx="1376.2" cy="399.6" r="4.7"/><circle cx="1377.9" cy="419.5" r="4.7"/><circle cx="1373.1" cy="406.4" r="4.7"/><circle cx="1376.0" cy="424.3" r="4.7"/><circle cx="1374.8" cy="421.1" r="4.7"/><circle cx="1374.4" cy="425.2" r="4.7"/><circle cx="1371.7" cy="402.2" r="4.7"/><circle cx="1373.6" cy="403.9" r="4.7"/><circle cx="1372.4" cy="414.6" r="4.7"/><circle cx="1372.5" cy="416.2" r="4.7"/><circle cx="1372.7" cy="409.3" r="4.7"/><circle cx="1372.5" cy="408.0" r="4.7"/><circle cx="1374.8" cy="424.9" r="4.7"/><circle cx="1373.9" cy="413.9" r="4.7"/></g>
<g fill="#b3b3b3"><rect x="1366.9" y="491.0" width="15.8" height="63.0"/><circle cx="1377.5" cy="566.8" r="4.7"/><circle cx="1373.0" cy="588.9" r="4.7"/><circle cx="1377.3" cy="580.7" r="4.7"/><circle cx="1373.3" cy="560.0" r="4.7"/><circle cx="1373.3" cy="555.4" r="4.7"/><circle cx="1371.9" cy="572.7" r="4.7"/><circle cx="1374.2" cy="574.4" r="4.7"/><circle cx="1373.9" cy="552.6" r="4.7"/><circle cx="1376.0" cy="577.9" r="4.7"/><circle cx="1375.1" cy="574.1" r="4.7"/><circle cx="1376.0" cy="589.4" r="4.7"/><circle cx="1377.2" cy="580.2" r="4.7"/><circle cx="1374.2" cy="565.6" r="4.7"/><circle cx="1374.3" cy="589.1" r="4.7"/><circle cx="1374.1" cy="568.1" r="4.7"/><circle cx="1374.2" cy="558.6" r="4.7"/><circle cx="1378.0" cy="552.3" r="4.7"/><circle cx="1375.5" cy="587.5" r="4.7"/><circle cx="1373.2" cy="576.4" r="4.7"/><circle cx="1374.0" cy="562.5" r="4.7"/><circle cx="1372.9" cy="557.5" r="4.7"/><circle cx="1377.0" cy="582.5" r="4.7"/><circle cx="1377.4" cy="554.5" r="4.7"/><circle cx="1376.0" cy="565.8" r="4.7"/><circle cx="1375.7" cy="574.1" r="4.7"/><circle cx="1373.6" cy="589.0" r="4.7"/></g>
<g fill="#b3b3b3"><polygon points="1382.7,491.0 1401.5,491.0 1401.5,385.0 1399.2,385.0 1396.8,385.0 1394.5,385.0 1392.1,385.0 1389.8,385.0 1387.4,385.0 1385.0,385.0 1382.7,385.0"/><circle cx="1387.4" cy="375.5" r="4.7"/><circle cx="1395.4" cy="378.8" r="4.7"/><circle cx="1393.0" cy="372.1" r="4.7"/><circle cx="1389.6" cy="377.1" r="4.7"/><circle cx="1394.4" cy="380.7" r="4.7"/><circle cx="1394.1" cy="380.5" r="4.7"/><circle cx="1392.3" cy="377.3" r="4.7"/><circle cx="1393.8" cy="381.6" r="4.7"/><circle cx="1393.3" cy="378.3" r="4.7"/><circle cx="1389.5" cy="377.4" r="4.7"/><circle cx="1389.9" cy="373.2" r="4.7"/><circle cx="1391.8" cy="375.8" r="4.7"/><circle cx="1392.3" cy="379.3" r="4.7"/><circle cx="1389.5" cy="384.4" r="4.7"/><circle cx="1396.1" cy="378.5" r="4.7"/><circle cx="1392.3" cy="378.6" r="4.7"/></g>
<g fill="#78003a"><rect x="1382.7" y="491.0" width="18.8" height="78.0"/><circle cx="1395.0" cy="573.3" r="4.7"/><circle cx="1389.0" cy="586.3" r="4.7"/><circle cx="1391.7" cy="582.4" r="4.7"/><circle cx="1395.2" cy="587.8" r="4.7"/><circle cx="1395.6" cy="568.4" r="4.7"/><circle cx="1391.0" cy="586.5" r="4.7"/><circle cx="1395.1" cy="570.5" r="4.7"/><circle cx="1388.8" cy="573.6" r="4.7"/><circle cx="1388.4" cy="576.1" r="4.7"/><circle cx="1395.0" cy="579.8" r="4.7"/><circle cx="1391.7" cy="569.6" r="4.7"/><circle cx="1391.1" cy="589.9" r="4.7"/><circle cx="1393.9" cy="578.2" r="4.7"/><circle cx="1391.9" cy="585.8" r="4.7"/><circle cx="1394.5" cy="571.2" r="4.7"/><circle cx="1393.8" cy="576.3" r="4.7"/><circle cx="1392.3" cy="573.3" r="4.7"/><circle cx="1390.9" cy="575.7" r="4.7"/><circle cx="1391.0" cy="567.6" r="4.7"/><circle cx="1389.3" cy="580.9" r="4.7"/><circle cx="1387.9" cy="571.9" r="4.7"/><circle cx="1394.2" cy="596.0" r="4.7"/><circle cx="1390.4" cy="595.1" r="4.7"/></g>
<g fill="#000080"><polygon points="1401.5,491.0 1418.9,491.0 1418.9,394.0 1416.7,394.0 1414.6,394.0 1412.4,394.0 1410.2,394.0 1408.0,394.0 1405.8,394.0 1403.7,394.0 1401.5,394.0"/><circle cx="1412.9" cy="393.8" r="4.7"/><circle cx="1411.3" cy="379.4" r="4.7"/><circle cx="1407.8" cy="387.2" r="4.7"/><circle cx="1412.5" cy="383.7" r="4.7"/><circle cx="1409.2" cy="394.9" r="4.7"/><circle cx="1409.7" cy="388.3" r="4.7"/><circle cx="1411.9" cy="389.7" r="4.7"/><circle cx="1409.5" cy="383.1" r="4.7"/><circle cx="1412.7" cy="388.6" r="4.7"/><circle cx="1409.3" cy="384.4" r="4.7"/><circle cx="1413.6" cy="391.7" r="4.7"/><circle cx="1414.0" cy="382.0" r="4.7"/><circle cx="1409.2" cy="382.8" r="4.7"/><circle cx="1408.8" cy="394.2" r="4.7"/><circle cx="1412.2" cy="388.1" r="4.7"/><circle cx="1410.4" cy="385.9" r="4.7"/></g>
<g fill="#b3b3b3"><rect x="1401.5" y="491.0" width="17.4" height="88.0"/><circle cx="1413.4" cy="594.9" r="4.7"/><circle cx="1406.4" cy="591.4" r="4.7"/><circle cx="1409.9" cy="588.5" r="4.7"/><circle cx="1412.9" cy="587.4" r="4.7"/><circle cx="1410.0" cy="597.7" r="4.7"/><circle cx="1409.7" cy="589.1" r="4.7"/><circle cx="1410.3" cy="596.3" r="4.7"/><circle cx="1411.6" cy="594.5" r="4.7"/><circle cx="1409.4" cy="578.3" r="4.7"/><circle cx="1411.6" cy="590.5" r="4.7"/><circle cx="1412.4" cy="595.2" r="4.7"/><circle cx="1407.1" cy="582.9" r="4.7"/><circle cx="1406.8" cy="596.2" r="4.7"/><circle cx="1407.0" cy="579.6" r="4.7"/><circle cx="1412.2" cy="590.7" r="4.7"/><circle cx="1406.6" cy="593.3" r="4.7"/><circle cx="1411.9" cy="588.9" r="4.7"/><circle cx="1406.6" cy="593.5" r="4.7"/><circle cx="1409.5" cy="591.2" r="4.7"/><circle cx="1414.2" cy="613.8" r="4.7"/></g>
<g fill="#b3b3b3"><polygon points="1418.9,491.0 1434.8,491.0 1434.8,438.0 1432.8,438.0 1430.8,438.0 1428.8,438.0 1426.8,438.0 1424.9,438.0 1422.9,438.0 1420.9,438.0 1418.9,438.0"/><circle cx="1429.3" cy="431.5" r="4.7"/><circle cx="1425.8" cy="413.4" r="4.7"/><circle cx="1423.6" cy="392.5" r="4.7"/><circle cx="1425.4" cy="425.6" r="4.7"/><circle cx="1425.6" cy="426.0" r="4.7"/><circle cx="1429.2" cy="411.7" r="4.7"/><circle cx="1426.9" cy="418.0" r="4.7"/><circle cx="1423.9" cy="423.5" r="4.7"/><circle cx="1429.2" cy="400.6" r="4.7"/><circle cx="1429.2" cy="425.9" r="4.7"/><circle cx="1424.9" cy="436.6" r="4.7"/><circle cx="1427.1" cy="420.2" r="4.7"/><circle cx="1426.6" cy="414.8" r="4.7"/><circle cx="1427.4" cy="420.6" r="4.7"/><circle cx="1428.8" cy="428.7" r="4.7"/><circle cx="1429.6" cy="411.7" r="4.7"/><circle cx="1423.9" cy="423.1" r="4.7"/><circle cx="1427.1" cy="418.5" r="4.7"/><circle cx="1427.3" cy="422.6" r="4.7"/><circle cx="1425.4" cy="400.9" r="4.7"/><circle cx="1425.5" cy="404.7" r="4.7"/><circle cx="1428.8" cy="410.1" r="4.7"/><circle cx="1426.6" cy="394.8" r="4.7"/><circle cx="1426.5" cy="397.3" r="4.7"/><circle cx="1424.0" cy="417.4" r="4.7"/><circle cx="1427.8" cy="436.8" r="4.7"/><circle cx="1429.2" cy="435.5" r="4.7"/><circle cx="1427.5" cy="429.7" r="4.7"/><circle cx="1429.6" cy="411.5" r="4.7"/><circle cx="1428.8" cy="414.4" r="4.7"/><circle cx="1428.0" cy="406.3" r="4.7"/><circle cx="1425.5" cy="428.2" r="4.7"/></g>
<g fill="#78003a"><rect x="1418.9" y="491.0" width="15.9" height="67.0"/><circle cx="1429.0" cy="558.8" r="4.7"/><circle cx="1429.6" cy="559.9" r="4.7"/><circle cx="1424.3" cy="557.9" r="4.7"/><circle cx="1428.7" cy="571.3" r="4.7"/><circle cx="1426.3" cy="567.0" r="4.7"/><circle cx="1425.3" cy="570.6" r="4.7"/><circle cx="1428.1" cy="559.0" r="4.7"/><circle cx="1424.0" cy="567.5" r="4.7"/><circle cx="1423.9" cy="569.6" r="4.7"/><circle cx="1425.5" cy="560.3" r="4.7"/><circle cx="1427.4" cy="561.7" r="4.7"/><circle cx="1427.2" cy="559.0" r="4.7"/><circle cx="1429.5" cy="561.8" r="4.7"/><circle cx="1429.1" cy="558.9" r="4.7"/></g>
<g fill="#000080"><polygon points="1434.8,491.0 1447.2,491.0 1447.2,394.0 1445.7,394.0 1444.1,394.0 1442.5,394.0 1441.0,394.0 1439.5,394.0 1437.9,394.0 1436.3,394.0 1434.8,394.0"/><circle cx="1441.9" cy="380.3" r="4.7"/><circle cx="1440.7" cy="395.3" r="4.7"/><circle cx="1440.6" cy="385.3" r="4.7"/><circle cx="1440.2" cy="386.7" r="4.7"/><circle cx="1439.8" cy="388.0" r="4.7"/><circle cx="1441.7" cy="388.5" r="4.7"/><circle cx="1441.5" cy="393.7" r="4.7"/><circle cx="1442.0" cy="393.6" r="4.7"/><circle cx="1442.3" cy="380.1" r="4.7"/><circle cx="1442.3" cy="387.0" r="4.7"/><circle cx="1440.4" cy="389.8" r="4.7"/></g>
<g fill="#b3b3b3"><rect x="1434.8" y="491.0" width="12.4" height="81.0"/><circle cx="1441.8" cy="586.0" r="4.7"/><circle cx="1442.3" cy="573.5" r="4.7"/><circle cx="1441.0" cy="596.3" r="4.7"/><circle cx="1441.3" cy="587.3" r="4.7"/><circle cx="1439.8" cy="575.1" r="4.7"/><circle cx="1440.3" cy="597.1" r="4.7"/><circle cx="1442.0" cy="577.9" r="4.7"/><circle cx="1442.3" cy="571.4" r="4.7"/><circle cx="1441.3" cy="599.1" r="4.7"/><circle cx="1440.5" cy="598.5" r="4.7"/><circle cx="1441.5" cy="572.0" r="4.7"/><circle cx="1440.5" cy="584.6" r="4.7"/><circle cx="1440.2" cy="592.9" r="4.7"/><circle cx="1440.0" cy="594.2" r="4.7"/><circle cx="1440.4" cy="572.7" r="4.7"/><circle cx="1441.2" cy="573.6" r="4.7"/><circle cx="1441.2" cy="594.2" r="4.7"/></g>
<g fill="#b3b3b3"><polygon points="1447.2,491.0 1464.2,491.0 1464.2,409.0 1462.1,409.0 1460.0,409.0 1457.8,409.0 1455.7,409.0 1453.6,409.0 1451.5,409.0 1449.3,409.0 1447.2,409.0"/><circle cx="1456.4" cy="390.6" r="4.7"/><circle cx="1452.2" cy="388.5" r="4.7"/><circle cx="1452.6" cy="383.3" r="4.7"/><circle cx="1452.9" cy="386.0" r="4.7"/><circle cx="1454.6" cy="394.1" r="4.7"/><circle cx="1456.9" cy="402.9" r="4.7"/><circle cx="1453.2" cy="372.2" r="4.7"/><circle cx="1454.4" cy="375.9" r="4.7"/><circle cx="1458.5" cy="389.8" r="4.7"/><circle cx="1453.0" cy="406.1" r="4.7"/><circle cx="1458.6" cy="405.1" r="4.7"/><circle cx="1455.7" cy="387.6" r="4.7"/><circle cx="1452.8" cy="390.3" r="4.7"/><circle cx="1453.1" cy="387.6" r="4.7"/><circle cx="1455.8" cy="394.4" r="4.7"/><circle cx="1453.4" cy="392.9" r="4.7"/><circle cx="1453.4" cy="404.6" r="4.7"/><circle cx="1453.7" cy="374.8" r="4.7"/><circle cx="1455.7" cy="374.1" r="4.7"/><circle cx="1452.0" cy="372.1" r="4.7"/><circle cx="1455.6" cy="377.8" r="4.7"/><circle cx="1456.2" cy="381.7" r="4.7"/><circle cx="1453.6" cy="379.4" r="4.7"/><circle cx="1453.1" cy="398.6" r="4.7"/><circle cx="1452.1" cy="393.3" r="4.7"/><circle cx="1455.8" cy="397.5" r="4.7"/><circle cx="1458.7" cy="406.6" r="4.7"/><circle cx="1456.3" cy="399.9" r="4.7"/><circle cx="1456.4" cy="378.1" r="4.7"/><circle cx="1457.3" cy="369.3" r="4.7"/></g>
<g fill="#78003a"><rect x="1447.2" y="491.0" width="17.0" height="73.0"/><circle cx="1453.8" cy="582.8" r="4.7"/><circle cx="1459.4" cy="563.9" r="4.7"/><circle cx="1456.6" cy="585.7" r="4.7"/><circle cx="1458.1" cy="574.6" r="4.7"/><circle cx="1458.1" cy="578.5" r="4.7"/><circle cx="1458.9" cy="562.6" r="4.7"/><circle cx="1459.0" cy="576.9" r="4.7"/><circle cx="1455.0" cy="565.7" r="4.7"/><circle cx="1453.8" cy="587.0" r="4.7"/><circle cx="1457.1" cy="568.0" r="4.7"/><circle cx="1454.5" cy="567.6" r="4.7"/><circle cx="1453.4" cy="570.4" r="4.7"/><circle cx="1454.4" cy="594.3" r="4.7"/><circle cx="1459.5" cy="588.7" r="4.7"/><circle cx="1455.5" cy="579.6" r="4.7"/><circle cx="1457.8" cy="592.3" r="4.7"/><circle cx="1457.6" cy="584.0" r="4.7"/><circle cx="1453.4" cy="583.6" r="4.7"/><circle cx="1458.3" cy="588.6" r="4.7"/><circle cx="1452.6" cy="586.5" r="4.7"/><circle cx="1454.6" cy="568.4" r="4.7"/><circle cx="1459.2" cy="585.1" r="4.7"/><circle cx="1457.6" cy="567.4" r="4.7"/><circle cx="1458.2" cy="593.1" r="4.7"/><circle cx="1458.8" cy="587.3" r="4.7"/><circle cx="1458.2" cy="613.8" r="4.7"/></g>
<g fill="#000080"><polygon points="1464.2,491.0 1473.2,491.0 1473.2,411.0 1472.1,411.0 1471.0,411.0 1469.8,411.0 1468.7,411.0 1467.6,411.0 1466.5,411.0 1465.3,411.0 1464.2,411.0"/><circle cx="1468.7" cy="399.3" r="4.7"/><circle cx="1468.6" cy="389.7" r="4.7"/><circle cx="1468.6" cy="403.2" r="4.7"/><circle cx="1468.5" cy="396.6" r="4.7"/><circle cx="1468.5" cy="408.8" r="4.7"/><circle cx="1468.5" cy="389.6" r="4.7"/><circle cx="1468.8" cy="388.3" r="4.7"/><circle cx="1468.8" cy="406.2" r="4.7"/><circle cx="1468.7" cy="405.1" r="4.7"/><circle cx="1468.7" cy="386.4" r="4.7"/><circle cx="1468.6" cy="391.7" r="4.7"/><circle cx="1468.7" cy="389.7" r="4.7"/></g>
<g fill="#b3b3b3"><rect x="1464.2" y="491.0" width="9.0" height="81.0"/><circle cx="1468.6" cy="584.2" r="4.7"/><circle cx="1468.5" cy="586.8" r="4.7"/><circle cx="1468.7" cy="572.2" r="4.7"/><circle cx="1468.6" cy="587.0" r="4.7"/><circle cx="1468.8" cy="582.5" r="4.7"/><circle cx="1468.6" cy="586.2" r="4.7"/><circle cx="1468.9" cy="580.5" r="4.7"/><circle cx="1468.9" cy="572.8" r="4.7"/><circle cx="1468.6" cy="579.1" r="4.7"/></g>
<g fill="#b3b3b3"><polygon points="1473.2,491.0 1488.0,491.0 1488.0,405.0 1486.2,405.0 1484.3,405.0 1482.5,405.0 1480.6,405.0 1478.8,405.0 1476.9,405.0 1475.0,405.0 1473.2,405.0"/><circle cx="1481.2" cy="397.6" r="4.7"/><circle cx="1479.7" cy="402.3" r="4.7"/><circle cx="1479.8" cy="390.7" r="4.7"/><circle cx="1481.2" cy="400.7" r="4.7"/><circle cx="1478.4" cy="401.1" r="4.7"/><circle cx="1481.7" cy="397.9" r="4.7"/><circle cx="1481.5" cy="391.3" r="4.7"/><circle cx="1478.6" cy="393.5" r="4.7"/><circle cx="1478.1" cy="391.1" r="4.7"/><circle cx="1478.9" cy="401.1" r="4.7"/><circle cx="1483.1" cy="399.4" r="4.7"/><circle cx="1479.1" cy="389.9" r="4.7"/><circle cx="1481.2" cy="389.8" r="4.7"/><circle cx="1480.0" cy="396.8" r="4.7"/><circle cx="1483.1" cy="369.8" r="4.7"/><circle cx="1483.2" cy="382.9" r="4.7"/></g>
<g fill="#78003a"><rect x="1473.2" y="491.0" width="14.8" height="88.0"/><circle cx="1482.4" cy="580.5" r="4.7"/><circle cx="1480.7" cy="577.0" r="4.7"/><circle cx="1478.8" cy="594.1" r="4.7"/><circle cx="1480.4" cy="591.9" r="4.7"/><circle cx="1479.3" cy="584.0" r="4.7"/><circle cx="1478.4" cy="587.6" r="4.7"/><circle cx="1482.6" cy="586.9" r="4.7"/><circle cx="1479.9" cy="593.8" r="4.7"/><circle cx="1482.7" cy="589.5" r="4.7"/><circle cx="1478.3" cy="588.8" r="4.7"/><circle cx="1480.3" cy="594.3" r="4.7"/><circle cx="1479.9" cy="589.4" r="4.7"/><circle cx="1481.3" cy="584.5" r="4.7"/></g>
<g fill="#b3b3b3"><circle cx="960.0" cy="220.5" r="4.7"/><circle cx="952.5" cy="299.0" r="4.7"/><circle cx="960.0" cy="303.0" r="4.7"/><circle cx="960.0" cy="312.0" r="4.7"/><circle cx="966.0" cy="318.0" r="4.7"/><circle cx="960.0" cy="334.0" r="4.7"/><circle cx="974.0" cy="350.0" r="4.7"/><circle cx="985.0" cy="358.0" r="4.7"/><circle cx="980.0" cy="358.0" r="4.7"/><circle cx="952.5" cy="371.0" r="4.7"/><circle cx="963.7" cy="350.6" r="4.7"/><circle cx="1048.5" cy="258.5" r="4.7"/><circle cx="1062.5" cy="225.0" r="4.7"/><circle cx="1048.5" cy="292.5" r="4.7"/><circle cx="1066.5" cy="306.0" r="4.7"/><circle cx="1031.5" cy="325.0" r="4.7"/><circle cx="1041.5" cy="361.0" r="4.7"/><circle cx="1053.5" cy="372.0" r="4.7"/><circle cx="1068.5" cy="366.0" r="4.7"/><circle cx="1115.0" cy="134.0" r="4.7"/><circle cx="1113.5" cy="240.0" r="4.7"/><circle cx="1116.0" cy="251.5" r="4.7"/><circle cx="1111.0" cy="284.0" r="4.7"/><circle cx="1112.5" cy="290.0" r="4.7"/><circle cx="1136.0" cy="256.0" r="4.7"/><circle cx="1135.0" cy="324.0" r="4.7"/><circle cx="1110.0" cy="359.0" r="4.7"/><circle cx="1115.0" cy="356.0" r="4.7"/><circle cx="1114.0" cy="374.0" r="4.7"/><circle cx="1130.0" cy="374.0" r="4.7"/><circle cx="1125.8" cy="384.1" r="4.7"/><circle cx="1134.6" cy="384.6" r="4.7"/><circle cx="1186.0" cy="276.5" r="4.7"/><circle cx="1204.0" cy="273.5" r="4.7"/><circle cx="1204.0" cy="295.0" r="4.7"/><circle cx="1205.0" cy="311.0" r="4.7"/><circle cx="1204.0" cy="324.0" r="4.7"/><circle cx="1237.5" cy="195.5" r="4.7"/><circle cx="1251.0" cy="231.5" r="4.7"/><circle cx="1252.5" cy="279.0" r="4.7"/><circle cx="1255.0" cy="294.0" r="4.7"/><circle cx="1255.0" cy="306.0" r="4.7"/><circle cx="1237.5" cy="320.5" r="4.7"/><circle cx="1255.0" cy="318.0" r="4.7"/><circle cx="1246.0" cy="343.5" r="4.7"/><circle cx="1256.0" cy="334.0" r="4.7"/><circle cx="1293.5" cy="256.5" r="4.7"/><circle cx="1305.5" cy="256.5" r="4.7"/><circle cx="1306.0" cy="296.0" r="4.7"/><circle cx="1306.0" cy="305.0" r="4.7"/><circle cx="1302.5" cy="346.0" r="4.7"/><circle cx="1293.5" cy="348.5" r="4.7"/><circle cx="1298.5" cy="337.0" r="4.7"/><circle cx="1351.5" cy="262.5" r="4.7"/><circle cx="1359.0" cy="334.0" r="4.7"/><circle cx="1389.0" cy="316.0" r="4.7"/><circle cx="1393.5" cy="325.0" r="4.7"/><circle cx="1451.0" cy="299.0" r="4.7"/><circle cx="1451.5" cy="323.5" r="4.7"/><circle cx="1461.0" cy="345.0" r="4.7"/><circle cx="1317.4" cy="349.0" r="4.7"/><circle cx="1311.6" cy="362.3" r="4.7"/><circle cx="1305.8" cy="372.2" r="4.7"/><circle cx="1316.6" cy="388.8" r="4.7"/><circle cx="1362.2" cy="360.6" r="4.7"/><circle cx="1348.1" cy="368.9" r="4.7"/><circle cx="1358.0" cy="371.4" r="4.7"/><circle cx="1401.2" cy="368.9" r="4.7"/><circle cx="1404.5" cy="348.2" r="4.7"/><circle cx="1387.1" cy="376.4" r="4.7"/><circle cx="1460.9" cy="344.0" r="4.7"/><circle cx="1460.0" cy="355.6" r="4.7"/><circle cx="1477.4" cy="349.0" r="4.7"/><circle cx="1481.6" cy="353.1" r="4.7"/><circle cx="1477.4" cy="359.8" r="4.7"/><circle cx="1479.9" cy="370.6" r="4.7"/><circle cx="1460.0" cy="365.6" r="4.7"/><circle cx="1479.1" cy="383.0" r="4.7"/><circle cx="894.8" cy="650.6" r="4.7"/><circle cx="894.8" cy="656.8" r="4.7"/><circle cx="1143.0" cy="610.0" r="4.7"/><circle cx="1143.0" cy="626.8" r="4.7"/><circle cx="1156.5" cy="624.8" r="4.7"/><circle cx="1224.4" cy="613.0" r="4.7"/><circle cx="1279.9" cy="607.8" r="4.7"/><circle cx="1287.8" cy="624.7" r="4.7"/><circle cx="1342.3" cy="667.5" r="4.7"/></g>
<g fill="#000080"><circle cx="894.0" cy="210.0" r="4.7"/><circle cx="895.0" cy="221.0" r="4.7"/><circle cx="895.0" cy="232.5" r="4.7"/><circle cx="910.0" cy="268.5" r="4.7"/><circle cx="896.5" cy="300.5" r="4.7"/><circle cx="892.5" cy="316.0" r="4.7"/><circle cx="895.0" cy="316.6" r="4.7"/><circle cx="895.0" cy="334.0" r="4.7"/><circle cx="895.0" cy="345.0" r="4.7"/><circle cx="905.0" cy="329.0" r="4.7"/><circle cx="917.5" cy="323.5" r="4.7"/><circle cx="910.0" cy="352.5" r="4.7"/><circle cx="917.5" cy="351.5" r="4.7"/><circle cx="922.5" cy="345.0" r="4.7"/><circle cx="930.0" cy="340.5" r="4.7"/><circle cx="932.5" cy="316.0" r="4.7"/><circle cx="930.5" cy="367.5" r="4.7"/><circle cx="936.0" cy="369.0" r="4.7"/><circle cx="894.4" cy="377.6" r="4.7"/><circle cx="905.3" cy="373.3" r="4.7"/><circle cx="919.9" cy="376.5" r="4.7"/><circle cx="930.0" cy="378.3" r="4.7"/><circle cx="999.0" cy="301.5" r="4.7"/><circle cx="1016.5" cy="304.0" r="4.7"/><circle cx="1004.0" cy="347.5" r="4.7"/><circle cx="1015.0" cy="360.0" r="4.7"/><circle cx="1015.0" cy="366.5" r="4.7"/><circle cx="1029.0" cy="376.0" r="4.7"/><circle cx="998.0" cy="385.1" r="4.7"/><circle cx="1021.2" cy="382.1" r="4.7"/><circle cx="1105.5" cy="253.5" r="4.7"/><circle cx="1102.5" cy="370.0" r="4.7"/><circle cx="1085.5" cy="390.2" r="4.7"/><circle cx="1071.6" cy="397.2" r="4.7"/><circle cx="1071.6" cy="404.8" r="4.7"/><circle cx="1143.5" cy="214.5" r="4.7"/><circle cx="1143.5" cy="233.5" r="4.7"/><circle cx="1156.5" cy="272.5" r="4.7"/><circle cx="1158.5" cy="354.5" r="4.7"/><circle cx="1143.5" cy="363.0" r="4.7"/><circle cx="1173.7" cy="364.5" r="4.7"/><circle cx="1170.7" cy="373.3" r="4.7"/><circle cx="1158.0" cy="384.6" r="4.7"/><circle cx="1222.0" cy="284.0" r="4.7"/><circle cx="1230.5" cy="291.5" r="4.7"/><circle cx="1287.5" cy="180.5" r="4.7"/><circle cx="1287.5" cy="195.5" r="4.7"/><circle cx="1287.5" cy="327.0" r="4.7"/><circle cx="1278.5" cy="348.5" r="4.7"/><circle cx="1280.0" cy="347.5" r="4.7"/><circle cx="1342.5" cy="193.0" r="4.7"/><circle cx="1326.0" cy="365.5" r="4.7"/><circle cx="1385.0" cy="324.5" r="4.7"/><circle cx="1412.5" cy="270.0" r="4.7"/><circle cx="1411.5" cy="300.0" r="4.7"/><circle cx="1420.0" cy="300.0" r="4.7"/><circle cx="1418.5" cy="347.5" r="4.7"/><circle cx="1442.5" cy="346.0" r="4.7"/><circle cx="1447.5" cy="331.0" r="4.7"/><circle cx="1467.5" cy="322.5" r="4.7"/><circle cx="1472.5" cy="368.5" r="4.7"/><circle cx="1325.7" cy="364.8" r="4.7"/><circle cx="1339.8" cy="380.5" r="4.7"/><circle cx="1342.3" cy="398.0" r="4.7"/><circle cx="1378.8" cy="367.2" r="4.7"/><circle cx="1378.8" cy="373.9" r="4.7"/><circle cx="1377.1" cy="383.0" r="4.7"/><circle cx="1381.3" cy="393.0" r="4.7"/><circle cx="1417.7" cy="347.3" r="4.7"/><circle cx="1417.7" cy="370.6" r="4.7"/><circle cx="1411.9" cy="378.9" r="4.7"/><circle cx="1406.1" cy="385.5" r="4.7"/><circle cx="1442.6" cy="346.5" r="4.7"/><circle cx="1449.3" cy="348.2" r="4.7"/><circle cx="1449.3" cy="360.6" r="4.7"/><circle cx="1442.6" cy="367.2" r="4.7"/><circle cx="1449.3" cy="367.2" r="4.7"/><circle cx="1472.5" cy="368.1" r="4.7"/><circle cx="1472.5" cy="387.1" r="4.7"/></g>
<g fill="#78003a"><circle cx="960.0" cy="642.4" r="4.7"/><circle cx="960.0" cy="653.7" r="4.7"/><circle cx="1048.3" cy="625.8" r="4.7"/><circle cx="1048.3" cy="643.4" r="4.7"/><circle cx="1066.5" cy="666.1" r="4.7"/><circle cx="1062.0" cy="675.4" r="4.7"/><circle cx="1115.7" cy="647.5" r="4.7"/><circle cx="1114.7" cy="674.8" r="4.7"/><circle cx="1135.8" cy="622.3" r="4.7"/><circle cx="1186.0" cy="644.0" r="4.7"/><circle cx="1203.6" cy="637.0" r="4.7"/><circle cx="1203.6" cy="645.8" r="4.7"/><circle cx="1203.6" cy="661.0" r="4.7"/><circle cx="1238.0" cy="634.5" r="4.7"/><circle cx="1251.0" cy="628.0" r="4.7"/><circle cx="1251.0" cy="636.0" r="4.7"/><circle cx="1293.4" cy="641.7" r="4.7"/><circle cx="1305.9" cy="631.0" r="4.7"/><circle cx="1305.9" cy="645.0" r="4.7"/><circle cx="1359.0" cy="658.7" r="4.7"/></g>
<line x1="855" y1="484.1" x2="1499" y2="484.1" stroke="#3a3a3a" stroke-width="1.9" stroke-dasharray="8,6.57" stroke-dashoffset="6.9"/>
<line x1="855" y1="490" x2="1499" y2="490" stroke="#1a1a1a" stroke-width="1.9" stroke-dasharray="8,6.57" stroke-dashoffset="6.9"/>
<line x1="869.10" y1="136.70" x2="869.10" y2="602.70" stroke="#555" stroke-width="1.7"/>
<line x1="855.80" y1="136.70" x2="869.10" y2="136.70" stroke="#555" stroke-width="1.7"/>
<line x1="855.80" y1="253.20" x2="869.10" y2="253.20" stroke="#555" stroke-width="1.7"/>
<line x1="855.80" y1="369.70" x2="869.10" y2="369.70" stroke="#555" stroke-width="1.7"/>
<line x1="855.80" y1="486.20" x2="869.10" y2="486.20" stroke="#555" stroke-width="1.7"/>
<line x1="855.80" y1="602.70" x2="869.10" y2="602.70" stroke="#555" stroke-width="1.7"/>
<line x1="910.40" y1="680.90" x2="1481.60" y2="680.90" stroke="#555" stroke-width="1.7"/>
<line x1="910.40" y1="680.90" x2="910.40" y2="694.50" stroke="#555" stroke-width="1.7"/>
<line x1="959.80" y1="680.90" x2="959.80" y2="694.50" stroke="#555" stroke-width="1.7"/>
<line x1="1003.80" y1="680.90" x2="1003.80" y2="694.50" stroke="#555" stroke-width="1.7"/>
<line x1="1047.80" y1="680.90" x2="1047.80" y2="694.50" stroke="#555" stroke-width="1.7"/>
<line x1="1097.00" y1="680.90" x2="1097.00" y2="694.50" stroke="#555" stroke-width="1.7"/>
<line x1="1115.80" y1="680.90" x2="1115.80" y2="694.50" stroke="#555" stroke-width="1.7"/>
<line x1="1162.30" y1="680.90" x2="1162.30" y2="694.50" stroke="#555" stroke-width="1.7"/>
<line x1="1192.30" y1="680.90" x2="1192.30" y2="694.50" stroke="#555" stroke-width="1.7"/>
<line x1="1230.80" y1="680.90" x2="1230.80" y2="694.50" stroke="#555" stroke-width="1.7"/>
<line x1="1252.30" y1="680.90" x2="1252.30" y2="694.50" stroke="#555" stroke-width="1.7"/>
<line x1="1276.90" y1="680.90" x2="1276.90" y2="694.50" stroke="#555" stroke-width="1.7"/>
<line x1="1303.10" y1="680.90" x2="1303.10" y2="694.50" stroke="#555" stroke-width="1.7"/>
<line x1="1329.60" y1="680.90" x2="1329.60" y2="694.50" stroke="#555" stroke-width="1.7"/>
<line x1="1355.80" y1="680.90" x2="1355.80" y2="694.50" stroke="#555" stroke-width="1.7"/>
<line x1="1378.90" y1="680.90" x2="1378.90" y2="694.50" stroke="#555" stroke-width="1.7"/>
<line x1="1392.90" y1="680.90" x2="1392.90" y2="694.50" stroke="#555" stroke-width="1.7"/>
<line x1="1414.00" y1="680.90" x2="1414.00" y2="694.50" stroke="#555" stroke-width="1.7"/>
<line x1="1431.40" y1="680.90" x2="1431.40" y2="694.50" stroke="#555" stroke-width="1.7"/>
<line x1="1446.00" y1="680.90" x2="1446.00" y2="694.50" stroke="#555" stroke-width="1.7"/>
<line x1="1457.80" y1="680.90" x2="1457.80" y2="694.50" stroke="#555" stroke-width="1.7"/>
<line x1="1472.00" y1="680.90" x2="1472.00" y2="694.50" stroke="#555" stroke-width="1.7"/>
<line x1="1481.60" y1="680.90" x2="1481.60" y2="694.50" stroke="#555" stroke-width="1.7"/>
<text transform="translate(792.8,434.5) rotate(-90)" font-size="25.5" fill="#1a1a1a">-log<tspan x="44.5" font-size="14.5" dy="8.5">10</tspan><tspan x="64.4" dy="-8.5">FDR</tspan></text>
<polygon fill="#000080" points="300.0,1096.0 330.0,1096.0 326.0,1085.0 321.0,1070.0 315.0,1055.0 309.0,1040.0 303.0,1028.0 297.0,1015.0 291.0,1004.0 284.0,998.0 279.0,1003.0 280.0,1015.0 281.0,1030.0 283.0,1045.0 285.0,1060.0 288.0,1075.0 294.0,1088.0"/>
<polygon fill="#000080" points="345.0,1096.0 374.0,1096.0 382.0,1082.0 389.0,1068.0 395.0,1056.0 401.0,1044.0 406.0,1030.0 409.0,1016.0 404.0,1008.0 394.0,1004.0 385.0,1004.0 379.0,1012.0 372.0,1025.0 365.0,1040.0 357.0,1060.0 350.0,1078.0"/>
<g fill="#000080"><circle cx="323.3" cy="1081.0" r="3.0"/><circle cx="323.0" cy="1078.8" r="3.0"/><circle cx="324.4" cy="1083.3" r="3.0"/><circle cx="313.1" cy="1057.2" r="3.0"/><circle cx="321.6" cy="1070.1" r="3.0"/><circle cx="322.9" cy="1072.5" r="3.0"/><circle cx="317.0" cy="1058.4" r="3.0"/><circle cx="314.3" cy="1052.4" r="3.0"/><circle cx="311.6" cy="1049.6" r="3.0"/><circle cx="311.1" cy="1050.4" r="3.0"/><circle cx="312.0" cy="1047.5" r="3.0"/><circle cx="304.1" cy="1031.1" r="3.0"/><circle cx="305.3" cy="1030.4" r="3.0"/><circle cx="302.9" cy="1030.2" r="3.0"/><circle cx="298.0" cy="1026.2" r="3.0"/><circle cx="302.0" cy="1022.4" r="3.0"/><circle cx="298.6" cy="1012.9" r="3.0"/><circle cx="297.5" cy="1012.9" r="3.0"/><circle cx="289.8" cy="1002.0" r="3.0"/><circle cx="294.2" cy="1007.1" r="3.0"/><circle cx="288.9" cy="1006.9" r="3.0"/><circle cx="282.9" cy="998.5" r="3.0"/><circle cx="281.4" cy="1000.9" r="3.0"/><circle cx="280.3" cy="1004.8" r="3.0"/><circle cx="281.4" cy="1003.0" r="3.0"/><circle cx="278.1" cy="1010.2" r="3.0"/><circle cx="279.6" cy="1021.0" r="3.0"/><circle cx="280.4" cy="1029.3" r="3.0"/><circle cx="280.4" cy="1020.2" r="3.0"/><circle cx="280.7" cy="1042.5" r="3.0"/><circle cx="280.8" cy="1034.7" r="3.0"/><circle cx="281.2" cy="1032.3" r="3.0"/><circle cx="284.5" cy="1044.7" r="3.0"/><circle cx="284.2" cy="1053.6" r="3.0"/><circle cx="285.6" cy="1059.7" r="3.0"/><circle cx="286.5" cy="1070.8" r="3.0"/><circle cx="290.4" cy="1072.0" r="3.0"/><circle cx="287.8" cy="1065.3" r="3.0"/><circle cx="292.6" cy="1079.5" r="3.0"/><circle cx="291.9" cy="1080.1" r="3.0"/><circle cx="291.7" cy="1073.6" r="3.0"/><circle cx="297.4" cy="1095.1" r="3.0"/><circle cx="297.0" cy="1090.3" r="3.0"/><circle cx="315.8" cy="1085.7" r="3.0"/><circle cx="316.3" cy="1089.8" r="3.0"/><circle cx="309.5" cy="1090.4" r="3.0"/><circle cx="298.7" cy="1094.8" r="3.0"/><circle cx="299.3" cy="1093.8" r="3.0"/><circle cx="312.4" cy="1088.1" r="3.0"/><circle cx="325.7" cy="1086.4" r="3.0"/><circle cx="386.6" cy="1069.8" r="3.0"/><circle cx="378.6" cy="1083.6" r="3.0"/><circle cx="389.0" cy="1069.0" r="3.0"/><circle cx="392.0" cy="1061.4" r="3.0"/><circle cx="393.2" cy="1061.3" r="3.0"/><circle cx="393.0" cy="1063.5" r="3.0"/><circle cx="399.9" cy="1048.6" r="3.0"/><circle cx="398.9" cy="1045.8" r="3.0"/><circle cx="401.9" cy="1044.3" r="3.0"/><circle cx="406.4" cy="1033.1" r="3.0"/><circle cx="402.7" cy="1035.5" r="3.0"/><circle cx="400.8" cy="1036.0" r="3.0"/><circle cx="410.5" cy="1017.3" r="3.0"/><circle cx="407.8" cy="1024.9" r="3.0"/><circle cx="408.6" cy="1021.2" r="3.0"/><circle cx="401.7" cy="1011.0" r="3.0"/><circle cx="404.3" cy="1013.8" r="3.0"/><circle cx="399.4" cy="1009.3" r="3.0"/><circle cx="398.2" cy="1006.5" r="3.0"/><circle cx="386.1" cy="1002.8" r="3.0"/><circle cx="386.8" cy="1004.5" r="3.0"/><circle cx="379.3" cy="1012.6" r="3.0"/><circle cx="384.0" cy="1007.9" r="3.0"/><circle cx="375.6" cy="1023.6" r="3.0"/><circle cx="374.5" cy="1017.8" r="3.0"/><circle cx="378.3" cy="1020.9" r="3.0"/><circle cx="370.4" cy="1034.7" r="3.0"/><circle cx="371.2" cy="1026.5" r="3.0"/><circle cx="370.7" cy="1029.3" r="3.0"/><circle cx="368.2" cy="1034.8" r="3.0"/><circle cx="357.6" cy="1057.4" r="3.0"/><circle cx="367.7" cy="1038.2" r="3.0"/><circle cx="360.5" cy="1053.3" r="3.0"/><circle cx="356.5" cy="1053.9" r="3.0"/><circle cx="359.3" cy="1051.4" r="3.0"/><circle cx="353.9" cy="1061.8" r="3.0"/><circle cx="353.0" cy="1072.4" r="3.0"/><circle cx="355.0" cy="1074.8" r="3.0"/><circle cx="351.2" cy="1072.5" r="3.0"/><circle cx="346.9" cy="1081.3" r="3.0"/><circle cx="345.3" cy="1089.7" r="3.0"/><circle cx="350.2" cy="1084.6" r="3.0"/><circle cx="349.2" cy="1088.6" r="3.0"/><circle cx="376.5" cy="1081.7" r="3.0"/><circle cx="380.6" cy="1080.0" r="3.0"/><circle cx="362.3" cy="1091.4" r="3.0"/><circle cx="359.1" cy="1092.3" r="3.0"/><circle cx="376.9" cy="1083.9" r="3.0"/><circle cx="367.0" cy="1087.5" r="3.0"/><circle cx="375.8" cy="1085.1" r="3.0"/><circle cx="355.0" cy="1095.1" r="3.0"/><circle cx="381.1" cy="1083.3" r="3.0"/><circle cx="435.6" cy="1013.9" r="3.0"/><circle cx="409.1" cy="973.6" r="3.0"/><circle cx="432.3" cy="978.1" r="3.0"/><circle cx="431.6" cy="991.8" r="3.0"/><circle cx="398.1" cy="1069.3" r="3.0"/><circle cx="384.1" cy="988.7" r="3.0"/><circle cx="394.9" cy="1061.8" r="3.0"/><circle cx="420.0" cy="1035.9" r="3.0"/><circle cx="389.0" cy="1077.2" r="3.0"/><circle cx="415.3" cy="995.3" r="3.0"/><circle cx="412.6" cy="1033.4" r="3.0"/><circle cx="417.6" cy="973.5" r="3.0"/><circle cx="414.5" cy="1031.9" r="3.0"/><circle cx="423.8" cy="978.3" r="3.0"/><circle cx="412.8" cy="1022.1" r="3.0"/><circle cx="408.3" cy="1010.0" r="3.0"/><circle cx="440.6" cy="986.3" r="3.0"/><circle cx="388.0" cy="998.6" r="3.0"/><circle cx="423.5" cy="1010.6" r="3.0"/><circle cx="399.6" cy="1048.1" r="3.0"/><circle cx="392.0" cy="994.9" r="3.0"/><circle cx="412.2" cy="1025.0" r="3.0"/><circle cx="412.1" cy="990.1" r="3.0"/><circle cx="420.0" cy="1036.7" r="3.0"/><circle cx="435.7" cy="999.3" r="3.0"/><circle cx="439.0" cy="1009.8" r="3.0"/><circle cx="437.9" cy="986.9" r="3.0"/><circle cx="392.7" cy="982.2" r="3.0"/><circle cx="433.9" cy="1023.1" r="3.0"/><circle cx="430.9" cy="985.9" r="3.0"/><circle cx="403.0" cy="1056.3" r="3.0"/><circle cx="410.2" cy="1056.4" r="3.0"/><circle cx="413.7" cy="1034.9" r="3.0"/><circle cx="414.9" cy="988.5" r="3.0"/><circle cx="387.3" cy="995.7" r="3.0"/><circle cx="378.5" cy="1089.9" r="3.0"/><circle cx="411.1" cy="1024.2" r="3.0"/><circle cx="417.3" cy="971.7" r="3.0"/><circle cx="427.2" cy="1021.1" r="3.0"/><circle cx="388.0" cy="990.8" r="3.0"/><circle cx="410.9" cy="971.9" r="3.0"/><circle cx="419.3" cy="1021.0" r="3.0"/><circle cx="417.2" cy="1033.5" r="3.0"/><circle cx="432.7" cy="1021.1" r="3.0"/><circle cx="429.1" cy="1021.1" r="3.0"/><circle cx="426.0" cy="978.9" r="3.0"/><circle cx="420.0" cy="1048.6" r="3.0"/><circle cx="422.0" cy="1012.6" r="3.0"/><circle cx="421.5" cy="1041.8" r="3.0"/><circle cx="412.4" cy="1019.1" r="3.0"/><circle cx="401.0" cy="982.4" r="3.0"/><circle cx="413.6" cy="1034.0" r="3.0"/><circle cx="432.3" cy="979.6" r="3.0"/><circle cx="418.0" cy="977.4" r="3.0"/><circle cx="411.9" cy="1045.3" r="3.0"/><circle cx="400.3" cy="1006.0" r="3.0"/><circle cx="421.2" cy="1040.6" r="3.0"/><circle cx="394.4" cy="1060.3" r="3.0"/><circle cx="427.9" cy="976.3" r="3.0"/><circle cx="444.1" cy="1000.7" r="3.0"/><circle cx="426.0" cy="1029.0" r="3.0"/><circle cx="417.5" cy="984.5" r="3.0"/><circle cx="418.9" cy="1027.4" r="3.0"/><circle cx="412.0" cy="985.7" r="3.0"/><circle cx="405.9" cy="1054.2" r="3.0"/><circle cx="406.8" cy="1003.0" r="3.0"/><circle cx="415.9" cy="1022.9" r="3.0"/><circle cx="430.0" cy="1036.9" r="3.0"/><circle cx="426.9" cy="1000.0" r="3.0"/><circle cx="382.2" cy="1082.5" r="3.0"/><circle cx="399.9" cy="1004.2" r="3.0"/><circle cx="423.3" cy="1041.2" r="3.0"/><circle cx="416.6" cy="1049.8" r="3.0"/><circle cx="428.2" cy="993.9" r="3.0"/><circle cx="418.9" cy="982.9" r="3.0"/><circle cx="413.0" cy="979.1" r="3.0"/><circle cx="413.6" cy="1049.5" r="3.0"/><circle cx="429.4" cy="996.9" r="3.0"/><circle cx="404.6" cy="1002.5" r="3.0"/><circle cx="432.3" cy="1016.5" r="3.0"/><circle cx="414.6" cy="1031.1" r="3.0"/><circle cx="423.3" cy="1007.7" r="3.0"/><circle cx="429.8" cy="979.6" r="3.0"/><circle cx="379.9" cy="1008.3" r="3.0"/><circle cx="394.4" cy="988.0" r="3.0"/><circle cx="399.8" cy="1061.5" r="3.0"/><circle cx="400.4" cy="984.8" r="3.0"/><circle cx="425.1" cy="1041.7" r="3.0"/><circle cx="431.8" cy="1008.4" r="3.0"/><circle cx="431.4" cy="1038.1" r="3.0"/><circle cx="437.4" cy="1005.5" r="3.0"/><circle cx="413.2" cy="1041.5" r="3.0"/><circle cx="431.9" cy="978.1" r="3.0"/><circle cx="420.7" cy="1000.9" r="3.0"/><circle cx="389.9" cy="1066.4" r="3.0"/><circle cx="409.5" cy="1037.7" r="3.0"/><circle cx="439.9" cy="1021.7" r="3.0"/><circle cx="411.7" cy="1059.5" r="3.0"/><circle cx="431.8" cy="1023.1" r="3.0"/><circle cx="404.3" cy="988.4" r="3.0"/><circle cx="401.0" cy="991.1" r="3.0"/><circle cx="378.3" cy="1008.9" r="3.0"/><circle cx="429.9" cy="992.6" r="3.0"/><circle cx="387.3" cy="997.4" r="3.0"/><circle cx="416.8" cy="998.2" r="3.0"/><circle cx="432.8" cy="1030.4" r="3.0"/><circle cx="439.8" cy="1013.1" r="3.0"/><circle cx="408.7" cy="997.8" r="3.0"/><circle cx="431.7" cy="1018.5" r="3.0"/><circle cx="412.0" cy="1035.0" r="3.0"/><circle cx="287.0" cy="1012.1" r="3.0"/><circle cx="277.9" cy="1073.6" r="3.0"/><circle cx="288.8" cy="1052.7" r="3.0"/><circle cx="271.0" cy="1003.3" r="3.0"/><circle cx="276.3" cy="1014.5" r="3.0"/><circle cx="274.5" cy="1044.8" r="3.0"/><circle cx="268.6" cy="1015.7" r="3.0"/><circle cx="288.9" cy="996.7" r="3.0"/><circle cx="281.4" cy="1037.6" r="3.0"/><circle cx="293.4" cy="1019.4" r="3.0"/><circle cx="291.3" cy="1031.9" r="3.0"/><circle cx="292.4" cy="1008.9" r="3.0"/><circle cx="283.4" cy="1043.8" r="3.0"/><circle cx="276.0" cy="1020.2" r="3.0"/><circle cx="268.4" cy="1019.6" r="3.0"/><circle cx="281.0" cy="1064.7" r="3.0"/><circle cx="277.5" cy="1061.6" r="3.0"/><circle cx="269.4" cy="1029.4" r="3.0"/><circle cx="288.7" cy="1012.1" r="3.0"/><circle cx="284.1" cy="1036.4" r="3.0"/><circle cx="291.6" cy="1008.7" r="3.0"/><circle cx="285.7" cy="1017.9" r="3.0"/><circle cx="278.0" cy="1045.4" r="3.0"/><circle cx="275.5" cy="1023.1" r="3.0"/><circle cx="278.6" cy="1059.3" r="3.0"/><circle cx="274.2" cy="1008.0" r="3.0"/><circle cx="289.4" cy="1022.2" r="3.0"/><circle cx="289.2" cy="1022.5" r="3.0"/><circle cx="270.5" cy="996.4" r="3.0"/><circle cx="287.7" cy="1063.9" r="3.0"/><circle cx="271.8" cy="1030.3" r="3.0"/><circle cx="268.9" cy="1010.9" r="3.0"/><circle cx="271.0" cy="999.7" r="3.0"/><circle cx="279.0" cy="994.0" r="3.0"/><circle cx="282.4" cy="1057.2" r="3.0"/><circle cx="290.5" cy="1076.3" r="3.0"/><circle cx="278.4" cy="1022.5" r="3.0"/><circle cx="279.2" cy="987.7" r="3.0"/><circle cx="278.8" cy="1063.0" r="3.0"/><circle cx="287.1" cy="1052.9" r="3.0"/><circle cx="266.6" cy="1022.4" r="3.0"/><circle cx="277.0" cy="1057.6" r="3.0"/><circle cx="269.4" cy="1027.5" r="3.0"/><circle cx="282.3" cy="1072.7" r="3.0"/><circle cx="277.3" cy="1041.0" r="3.0"/><circle cx="288.9" cy="1077.9" r="3.0"/><circle cx="286.1" cy="1007.8" r="3.0"/><circle cx="268.7" cy="1012.9" r="3.0"/><circle cx="284.4" cy="1062.7" r="3.0"/><circle cx="277.6" cy="1036.9" r="3.0"/><circle cx="283.4" cy="1047.7" r="3.0"/><circle cx="283.9" cy="1015.1" r="3.0"/><circle cx="273.7" cy="1049.1" r="3.0"/><circle cx="292.6" cy="1006.4" r="3.0"/><circle cx="283.5" cy="994.4" r="3.0"/><circle cx="266.7" cy="977.6" r="3.0"/><circle cx="287.4" cy="986.0" r="3.0"/><circle cx="262.4" cy="992.0" r="3.0"/><circle cx="259.8" cy="1003.7" r="3.0"/><circle cx="266.5" cy="1001.7" r="3.0"/><circle cx="269.1" cy="1012.1" r="3.0"/><circle cx="268.3" cy="1020.1" r="3.0"/><circle cx="264.3" cy="1030.7" r="3.0"/><circle cx="274.7" cy="1060.8" r="3.0"/><circle cx="298.5" cy="1020.1" r="3.0"/><circle cx="285.4" cy="1003.4" r="3.0"/><circle cx="280.0" cy="1070.0" r="3.0"/><circle cx="284.0" cy="1078.0" r="3.0"/><circle cx="514.8" cy="850.7" r="3.0"/><circle cx="555.5" cy="854.7" r="3.0"/><circle cx="490.7" cy="860.4" r="3.0"/><circle cx="520.8" cy="864.0" r="3.0"/><circle cx="534.1" cy="869.7" r="3.0"/><circle cx="552.1" cy="871.3" r="3.0"/><circle cx="462.5" cy="870.7" r="3.0"/><circle cx="463.0" cy="877.4" r="3.0"/><circle cx="422.4" cy="887.4" r="3.0"/><circle cx="438.0" cy="891.1" r="3.0"/><circle cx="445.4" cy="897.5" r="3.0"/><circle cx="471.8" cy="893.4" r="3.0"/><circle cx="474.1" cy="892.0" r="3.0"/><circle cx="500.1" cy="889.4" r="3.0"/><circle cx="511.8" cy="892.0" r="3.0"/><circle cx="551.5" cy="902.7" r="3.0"/><circle cx="547.5" cy="906.0" r="3.0"/><circle cx="458.3" cy="903.8" r="3.0"/><circle cx="450.5" cy="907.1" r="3.0"/><circle cx="453.8" cy="910.3" r="3.0"/><circle cx="436.0" cy="912.4" r="3.0"/><circle cx="436.3" cy="916.7" r="3.0"/><circle cx="436.3" cy="922.0" r="3.0"/><circle cx="444.0" cy="917.4" r="3.0"/><circle cx="411.0" cy="921.4" r="3.0"/><circle cx="424.3" cy="925.4" r="3.0"/><circle cx="414.7" cy="929.4" r="3.0"/><circle cx="419.4" cy="931.1" r="3.0"/><circle cx="423.8" cy="930.7" r="3.0"/><circle cx="434.4" cy="927.4" r="3.0"/><circle cx="436.7" cy="931.7" r="3.0"/><circle cx="442.0" cy="930.0" r="3.0"/><circle cx="432.0" cy="935.1" r="3.0"/><circle cx="449.8" cy="926.1" r="3.0"/><circle cx="452.7" cy="924.1" r="3.0"/><circle cx="460.5" cy="934.3" r="3.0"/><circle cx="463.8" cy="935.4" r="3.0"/><circle cx="471.8" cy="941.1" r="3.0"/><circle cx="496.5" cy="933.0" r="3.0"/><circle cx="509.7" cy="936.1" r="3.0"/><circle cx="423.1" cy="940.3" r="3.0"/><circle cx="412.3" cy="946.1" r="3.0"/><circle cx="404.3" cy="951.0" r="3.0"/><circle cx="414.0" cy="952.1" r="3.0"/><circle cx="417.4" cy="956.1" r="3.0"/><circle cx="422.0" cy="949.0" r="3.0"/><circle cx="424.4" cy="952.5" r="3.0"/><circle cx="429.8" cy="947.0" r="3.0"/><circle cx="441.4" cy="945.4" r="3.0"/><circle cx="448.5" cy="944.7" r="3.0"/><circle cx="461.0" cy="944.5" r="3.0"/><circle cx="468.1" cy="951.0" r="3.0"/><circle cx="456.7" cy="951.8" r="3.0"/><circle cx="452.1" cy="954.7" r="3.0"/><circle cx="449.4" cy="957.8" r="3.0"/><circle cx="433.4" cy="957.8" r="3.0"/><circle cx="433.8" cy="961.0" r="3.0"/><circle cx="420.4" cy="961.0" r="3.0"/><circle cx="534.1" cy="951.7" r="3.0"/><circle cx="493.8" cy="961.0" r="3.0"/><circle cx="481.4" cy="966.7" r="3.0"/><circle cx="411.6" cy="963.1" r="3.0"/><circle cx="395.4" cy="968.1" r="3.0"/><circle cx="402.0" cy="972.1" r="3.0"/><circle cx="408.7" cy="970.7" r="3.0"/><circle cx="414.7" cy="972.5" r="3.0"/><circle cx="427.4" cy="969.4" r="3.0"/><circle cx="424.7" cy="972.1" r="3.0"/><circle cx="389.3" cy="974.8" r="3.0"/><circle cx="439.1" cy="974.1" r="3.0"/><circle cx="447.1" cy="973.4" r="3.0"/><circle cx="447.1" cy="976.1" r="3.0"/><circle cx="454.9" cy="973.4" r="3.0"/><circle cx="385.3" cy="979.8" r="3.0"/><circle cx="378.7" cy="983.8" r="3.0"/><circle cx="447.1" cy="983.4" r="3.0"/><circle cx="435.4" cy="986.1" r="3.0"/><circle cx="443.1" cy="989.2" r="3.0"/><circle cx="452.3" cy="989.2" r="3.0"/><circle cx="467.4" cy="991.4" r="3.0"/><circle cx="480.5" cy="991.2" r="3.0"/><circle cx="448.7" cy="994.1" r="3.0"/><circle cx="460.7" cy="998.1" r="3.0"/><circle cx="466.5" cy="996.5" r="3.0"/><circle cx="376.0" cy="995.4" r="3.0"/><circle cx="383.1" cy="996.4" r="3.0"/><circle cx="552.1" cy="835.4" r="3.0"/><circle cx="514.7" cy="850.3" r="3.0"/><circle cx="555.4" cy="854.6" r="3.0"/><circle cx="490.8" cy="860.2" r="3.0"/><circle cx="520.7" cy="863.9" r="3.0"/><circle cx="534.0" cy="869.5" r="3.0"/><circle cx="551.7" cy="871.4" r="3.0"/><circle cx="462.4" cy="870.5" r="3.0"/><circle cx="462.8" cy="877.4" r="3.0"/><circle cx="499.8" cy="889.1" r="3.0"/><circle cx="511.9" cy="892.0" r="3.0"/><circle cx="471.4" cy="893.4" r="3.0"/><circle cx="474.2" cy="891.6" r="3.0"/><circle cx="445.2" cy="897.6" r="3.0"/><circle cx="576.3" cy="859.8" r="3.0"/></g>
<polygon fill="#78003a" points="287.0,1101.0 325.0,1101.0 320.0,1116.0 315.0,1132.0 310.0,1148.0 305.0,1165.0 300.0,1180.0 295.0,1196.0 291.0,1210.0 287.0,1222.0 280.0,1230.0 272.0,1232.0 266.0,1225.0 264.0,1210.0 264.0,1195.0 266.0,1180.0 268.0,1165.0 272.0,1150.0 276.0,1135.0 280.0,1120.0 284.0,1108.0"/>
<polygon fill="#78003a" points="343.0,1101.0 376.0,1101.0 384.0,1112.0 392.0,1126.0 400.0,1140.0 408.0,1152.0 416.0,1166.0 422.0,1180.0 427.0,1198.0 432.0,1215.0 436.0,1230.0 438.0,1245.0 432.0,1258.0 420.0,1262.0 405.0,1258.0 392.0,1250.0 384.0,1238.0 378.0,1222.0 371.0,1205.0 365.0,1190.0 359.0,1172.0 354.0,1150.0 348.0,1125.0"/>
<g fill="#78003a"><circle cx="317.2" cy="1119.2" r="3.0"/><circle cx="315.5" cy="1129.6" r="3.0"/><circle cx="317.3" cy="1125.8" r="3.0"/><circle cx="318.1" cy="1122.3" r="3.0"/><circle cx="313.0" cy="1132.8" r="3.0"/><circle cx="312.7" cy="1136.0" r="3.0"/><circle cx="310.2" cy="1140.5" r="3.0"/><circle cx="313.4" cy="1134.3" r="3.0"/><circle cx="303.7" cy="1161.9" r="3.0"/><circle cx="306.1" cy="1157.4" r="3.0"/><circle cx="307.2" cy="1159.9" r="3.0"/><circle cx="305.4" cy="1163.5" r="3.0"/><circle cx="302.2" cy="1176.8" r="3.0"/><circle cx="302.5" cy="1173.7" r="3.0"/><circle cx="301.8" cy="1172.2" r="3.0"/><circle cx="293.6" cy="1191.6" r="3.0"/><circle cx="298.0" cy="1192.8" r="3.0"/><circle cx="297.8" cy="1188.2" r="3.0"/><circle cx="293.7" cy="1187.0" r="3.0"/><circle cx="292.5" cy="1201.4" r="3.0"/><circle cx="295.2" cy="1196.7" r="3.0"/><circle cx="292.1" cy="1198.5" r="3.0"/><circle cx="286.7" cy="1215.0" r="3.0"/><circle cx="287.4" cy="1223.5" r="3.0"/><circle cx="290.4" cy="1213.1" r="3.0"/><circle cx="281.6" cy="1229.9" r="3.0"/><circle cx="287.5" cy="1220.0" r="3.0"/><circle cx="278.2" cy="1227.3" r="3.0"/><circle cx="276.7" cy="1228.7" r="3.0"/><circle cx="274.6" cy="1232.9" r="3.0"/><circle cx="269.4" cy="1229.2" r="3.0"/><circle cx="263.9" cy="1226.6" r="3.0"/><circle cx="266.2" cy="1222.9" r="3.0"/><circle cx="264.7" cy="1208.5" r="3.0"/><circle cx="267.3" cy="1208.0" r="3.0"/><circle cx="266.8" cy="1206.2" r="3.0"/><circle cx="262.8" cy="1205.2" r="3.0"/><circle cx="265.0" cy="1181.0" r="3.0"/><circle cx="267.5" cy="1189.5" r="3.0"/><circle cx="266.4" cy="1192.4" r="3.0"/><circle cx="270.8" cy="1167.9" r="3.0"/><circle cx="268.2" cy="1180.7" r="3.0"/><circle cx="265.2" cy="1171.8" r="3.0"/><circle cx="271.3" cy="1158.8" r="3.0"/><circle cx="267.9" cy="1163.5" r="3.0"/><circle cx="271.2" cy="1154.3" r="3.0"/><circle cx="276.9" cy="1135.3" r="3.0"/><circle cx="276.5" cy="1146.7" r="3.0"/><circle cx="274.7" cy="1143.6" r="3.0"/><circle cx="280.3" cy="1120.6" r="3.0"/><circle cx="276.2" cy="1127.8" r="3.0"/><circle cx="276.4" cy="1132.8" r="3.0"/><circle cx="279.8" cy="1120.7" r="3.0"/><circle cx="280.4" cy="1117.6" r="3.0"/><circle cx="283.9" cy="1120.9" r="3.0"/><circle cx="284.8" cy="1110.6" r="3.0"/><circle cx="300.3" cy="1111.9" r="3.0"/><circle cx="290.6" cy="1111.1" r="3.0"/><circle cx="297.7" cy="1113.4" r="3.0"/><circle cx="302.5" cy="1115.0" r="3.0"/><circle cx="308.6" cy="1117.0" r="3.0"/><circle cx="291.8" cy="1108.2" r="3.0"/><circle cx="304.1" cy="1113.3" r="3.0"/><circle cx="313.4" cy="1116.7" r="3.0"/><circle cx="385.1" cy="1114.0" r="3.0"/><circle cx="387.9" cy="1117.7" r="3.0"/><circle cx="389.4" cy="1121.2" r="3.0"/><circle cx="388.4" cy="1122.5" r="3.0"/><circle cx="391.4" cy="1126.3" r="3.0"/><circle cx="393.4" cy="1134.4" r="3.0"/><circle cx="394.3" cy="1127.8" r="3.0"/><circle cx="397.4" cy="1132.4" r="3.0"/><circle cx="399.4" cy="1139.5" r="3.0"/><circle cx="402.6" cy="1144.4" r="3.0"/><circle cx="402.0" cy="1141.2" r="3.0"/><circle cx="411.9" cy="1162.4" r="3.0"/><circle cx="409.7" cy="1156.6" r="3.0"/><circle cx="411.0" cy="1162.9" r="3.0"/><circle cx="408.5" cy="1160.3" r="3.0"/><circle cx="415.5" cy="1168.5" r="3.0"/><circle cx="419.0" cy="1179.9" r="3.0"/><circle cx="417.0" cy="1175.2" r="3.0"/><circle cx="423.5" cy="1195.6" r="3.0"/><circle cx="422.3" cy="1183.0" r="3.0"/><circle cx="424.4" cy="1182.4" r="3.0"/><circle cx="423.3" cy="1191.9" r="3.0"/><circle cx="427.4" cy="1207.4" r="3.0"/><circle cx="430.1" cy="1213.1" r="3.0"/><circle cx="431.8" cy="1212.1" r="3.0"/><circle cx="429.1" cy="1202.4" r="3.0"/><circle cx="433.8" cy="1222.5" r="3.0"/><circle cx="435.9" cy="1223.8" r="3.0"/><circle cx="434.9" cy="1220.4" r="3.0"/><circle cx="435.1" cy="1240.9" r="3.0"/><circle cx="435.9" cy="1230.8" r="3.0"/><circle cx="433.9" cy="1233.0" r="3.0"/><circle cx="435.1" cy="1251.6" r="3.0"/><circle cx="435.4" cy="1251.7" r="3.0"/><circle cx="432.4" cy="1250.8" r="3.0"/><circle cx="426.0" cy="1255.8" r="3.0"/><circle cx="428.1" cy="1257.3" r="3.0"/><circle cx="422.0" cy="1259.5" r="3.0"/><circle cx="412.7" cy="1262.4" r="3.0"/><circle cx="416.4" cy="1261.1" r="3.0"/><circle cx="403.7" cy="1256.5" r="3.0"/><circle cx="397.9" cy="1256.5" r="3.0"/><circle cx="402.8" cy="1254.8" r="3.0"/><circle cx="404.1" cy="1255.3" r="3.0"/><circle cx="390.2" cy="1249.6" r="3.0"/><circle cx="391.3" cy="1248.7" r="3.0"/><circle cx="386.1" cy="1244.3" r="3.0"/><circle cx="384.5" cy="1234.5" r="3.0"/><circle cx="382.1" cy="1234.0" r="3.0"/><circle cx="379.9" cy="1225.6" r="3.0"/><circle cx="377.9" cy="1222.6" r="3.0"/><circle cx="374.6" cy="1213.1" r="3.0"/><circle cx="379.4" cy="1221.7" r="3.0"/><circle cx="375.9" cy="1206.7" r="3.0"/><circle cx="376.6" cy="1208.6" r="3.0"/><circle cx="368.6" cy="1197.1" r="3.0"/><circle cx="364.9" cy="1192.5" r="3.0"/><circle cx="370.8" cy="1202.7" r="3.0"/><circle cx="370.7" cy="1202.8" r="3.0"/><circle cx="361.5" cy="1178.8" r="3.0"/><circle cx="363.2" cy="1180.5" r="3.0"/><circle cx="360.2" cy="1175.3" r="3.0"/><circle cx="363.2" cy="1181.5" r="3.0"/><circle cx="358.1" cy="1159.3" r="3.0"/><circle cx="353.4" cy="1155.8" r="3.0"/><circle cx="355.3" cy="1163.2" r="3.0"/><circle cx="359.5" cy="1171.1" r="3.0"/><circle cx="356.4" cy="1160.0" r="3.0"/><circle cx="353.7" cy="1151.6" r="3.0"/><circle cx="350.0" cy="1136.7" r="3.0"/><circle cx="353.5" cy="1145.9" r="3.0"/><circle cx="348.2" cy="1126.4" r="3.0"/><circle cx="350.8" cy="1127.0" r="3.0"/><circle cx="350.5" cy="1133.8" r="3.0"/><circle cx="360.2" cy="1124.4" r="3.0"/><circle cx="364.5" cy="1118.0" r="3.0"/><circle cx="353.2" cy="1122.8" r="3.0"/><circle cx="364.1" cy="1119.0" r="3.0"/><circle cx="353.6" cy="1124.3" r="3.0"/><circle cx="353.7" cy="1123.0" r="3.0"/><circle cx="360.9" cy="1120.6" r="3.0"/><circle cx="372.0" cy="1118.0" r="3.0"/><circle cx="370.4" cy="1121.3" r="3.0"/><circle cx="262.0" cy="1155.4" r="3.0"/><circle cx="259.3" cy="1218.6" r="3.0"/><circle cx="273.4" cy="1138.2" r="3.0"/><circle cx="257.2" cy="1152.0" r="3.0"/><circle cx="253.1" cy="1181.7" r="3.0"/><circle cx="270.4" cy="1126.5" r="3.0"/><circle cx="257.4" cy="1213.4" r="3.0"/><circle cx="261.6" cy="1153.4" r="3.0"/><circle cx="286.3" cy="1233.3" r="3.0"/><circle cx="278.5" cy="1231.5" r="3.0"/><circle cx="250.6" cy="1209.0" r="3.0"/><circle cx="265.6" cy="1247.5" r="3.0"/><circle cx="260.6" cy="1226.7" r="3.0"/><circle cx="257.3" cy="1177.7" r="3.0"/><circle cx="244.1" cy="1189.8" r="3.0"/><circle cx="251.2" cy="1199.2" r="3.0"/><circle cx="258.6" cy="1136.7" r="3.0"/><circle cx="246.7" cy="1241.1" r="3.0"/><circle cx="253.4" cy="1176.9" r="3.0"/><circle cx="266.6" cy="1227.7" r="3.0"/><circle cx="290.5" cy="1214.8" r="3.0"/><circle cx="255.0" cy="1251.6" r="3.0"/><circle cx="289.2" cy="1225.4" r="3.0"/><circle cx="288.8" cy="1230.9" r="3.0"/><circle cx="257.3" cy="1243.8" r="3.0"/><circle cx="244.3" cy="1191.6" r="3.0"/><circle cx="256.0" cy="1162.0" r="3.0"/><circle cx="258.9" cy="1243.1" r="3.0"/><circle cx="262.1" cy="1217.4" r="3.0"/><circle cx="255.0" cy="1217.7" r="3.0"/><circle cx="251.1" cy="1156.0" r="3.0"/><circle cx="261.3" cy="1185.3" r="3.0"/><circle cx="261.4" cy="1129.8" r="3.0"/><circle cx="263.4" cy="1256.3" r="3.0"/><circle cx="251.4" cy="1200.7" r="3.0"/><circle cx="255.1" cy="1197.8" r="3.0"/><circle cx="275.4" cy="1118.9" r="3.0"/><circle cx="266.9" cy="1161.4" r="3.0"/><circle cx="256.1" cy="1195.3" r="3.0"/><circle cx="244.8" cy="1199.5" r="3.0"/><circle cx="276.9" cy="1247.3" r="3.0"/><circle cx="251.7" cy="1174.6" r="3.0"/><circle cx="260.8" cy="1216.7" r="3.0"/><circle cx="256.3" cy="1232.9" r="3.0"/><circle cx="280.0" cy="1248.2" r="3.0"/><circle cx="290.3" cy="1226.2" r="3.0"/><circle cx="246.7" cy="1237.6" r="3.0"/><circle cx="273.6" cy="1236.9" r="3.0"/><circle cx="254.2" cy="1144.9" r="3.0"/><circle cx="279.7" cy="1112.5" r="3.0"/><circle cx="271.0" cy="1139.0" r="3.0"/><circle cx="288.6" cy="1235.2" r="3.0"/><circle cx="251.7" cy="1158.4" r="3.0"/><circle cx="262.7" cy="1236.8" r="3.0"/><circle cx="253.4" cy="1162.0" r="3.0"/><circle cx="278.9" cy="1238.6" r="3.0"/><circle cx="261.0" cy="1199.9" r="3.0"/><circle cx="258.9" cy="1195.7" r="3.0"/><circle cx="250.3" cy="1209.9" r="3.0"/><circle cx="269.6" cy="1121.3" r="3.0"/><circle cx="263.5" cy="1149.7" r="3.0"/><circle cx="266.3" cy="1124.0" r="3.0"/><circle cx="268.9" cy="1247.6" r="3.0"/><circle cx="259.0" cy="1170.2" r="3.0"/><circle cx="256.9" cy="1165.6" r="3.0"/><circle cx="250.5" cy="1241.6" r="3.0"/><circle cx="257.3" cy="1167.0" r="3.0"/><circle cx="262.5" cy="1229.8" r="3.0"/><circle cx="274.1" cy="1116.6" r="3.0"/><circle cx="263.7" cy="1159.8" r="3.0"/><circle cx="262.6" cy="1242.0" r="3.0"/><circle cx="263.6" cy="1174.0" r="3.0"/><circle cx="261.0" cy="1206.3" r="3.0"/><circle cx="265.5" cy="1231.1" r="3.0"/><circle cx="289.2" cy="1215.7" r="3.0"/><circle cx="263.0" cy="1185.1" r="3.0"/><circle cx="273.4" cy="1118.5" r="3.0"/><circle cx="271.9" cy="1120.6" r="3.0"/><circle cx="275.4" cy="1121.4" r="3.0"/><circle cx="248.0" cy="1181.4" r="3.0"/><circle cx="259.8" cy="1223.1" r="3.0"/><circle cx="257.1" cy="1166.0" r="3.0"/><circle cx="269.2" cy="1234.6" r="3.0"/><circle cx="248.9" cy="1234.5" r="3.0"/><circle cx="277.9" cy="1236.6" r="3.0"/><circle cx="289.7" cy="1216.3" r="3.0"/><circle cx="298.1" cy="1202.0" r="3.0"/><circle cx="260.1" cy="1217.1" r="3.0"/><circle cx="257.7" cy="1158.8" r="3.0"/><circle cx="263.4" cy="1168.6" r="3.0"/><circle cx="265.8" cy="1136.0" r="3.0"/><circle cx="260.9" cy="1177.0" r="3.0"/><circle cx="256.1" cy="1218.7" r="3.0"/><circle cx="266.2" cy="1252.7" r="3.0"/><circle cx="260.2" cy="1196.6" r="3.0"/><circle cx="431.4" cy="1163.7" r="3.0"/><circle cx="401.4" cy="1259.3" r="3.0"/><circle cx="416.0" cy="1272.2" r="3.0"/><circle cx="413.8" cy="1157.9" r="3.0"/><circle cx="453.0" cy="1257.9" r="3.0"/><circle cx="434.7" cy="1210.9" r="3.0"/><circle cx="463.2" cy="1228.1" r="3.0"/><circle cx="446.8" cy="1216.4" r="3.0"/><circle cx="383.0" cy="1256.5" r="3.0"/><circle cx="454.4" cy="1233.6" r="3.0"/><circle cx="440.8" cy="1178.2" r="3.0"/><circle cx="408.5" cy="1133.6" r="3.0"/><circle cx="424.9" cy="1178.3" r="3.0"/><circle cx="430.0" cy="1268.6" r="3.0"/><circle cx="444.7" cy="1215.4" r="3.0"/><circle cx="443.3" cy="1187.1" r="3.0"/><circle cx="434.1" cy="1212.3" r="3.0"/><circle cx="441.7" cy="1214.0" r="3.0"/><circle cx="427.8" cy="1167.3" r="3.0"/><circle cx="447.9" cy="1261.3" r="3.0"/><circle cx="385.2" cy="1257.0" r="3.0"/><circle cx="387.4" cy="1253.2" r="3.0"/><circle cx="430.7" cy="1280.0" r="3.0"/><circle cx="462.8" cy="1238.2" r="3.0"/><circle cx="456.6" cy="1245.6" r="3.0"/><circle cx="399.8" cy="1127.2" r="3.0"/><circle cx="421.6" cy="1155.3" r="3.0"/><circle cx="423.9" cy="1274.9" r="3.0"/><circle cx="391.0" cy="1272.1" r="3.0"/><circle cx="456.3" cy="1222.3" r="3.0"/><circle cx="462.4" cy="1255.3" r="3.0"/><circle cx="444.5" cy="1288.8" r="3.0"/><circle cx="408.8" cy="1147.2" r="3.0"/><circle cx="464.4" cy="1231.8" r="3.0"/><circle cx="405.1" cy="1274.6" r="3.0"/><circle cx="381.8" cy="1233.6" r="3.0"/><circle cx="382.4" cy="1106.9" r="3.0"/><circle cx="429.7" cy="1296.6" r="3.0"/><circle cx="440.4" cy="1271.2" r="3.0"/><circle cx="449.8" cy="1204.7" r="3.0"/><circle cx="428.4" cy="1294.5" r="3.0"/><circle cx="442.0" cy="1287.8" r="3.0"/><circle cx="463.0" cy="1271.9" r="3.0"/><circle cx="440.5" cy="1222.9" r="3.0"/><circle cx="433.6" cy="1286.7" r="3.0"/><circle cx="440.7" cy="1204.4" r="3.0"/><circle cx="431.0" cy="1205.7" r="3.0"/><circle cx="418.8" cy="1147.6" r="3.0"/><circle cx="407.3" cy="1148.4" r="3.0"/><circle cx="425.1" cy="1151.7" r="3.0"/><circle cx="439.4" cy="1258.3" r="3.0"/><circle cx="409.5" cy="1282.3" r="3.0"/><circle cx="388.7" cy="1258.1" r="3.0"/><circle cx="445.7" cy="1195.7" r="3.0"/><circle cx="422.9" cy="1176.7" r="3.0"/><circle cx="443.2" cy="1289.2" r="3.0"/><circle cx="394.1" cy="1128.0" r="3.0"/><circle cx="439.8" cy="1276.6" r="3.0"/><circle cx="444.3" cy="1289.9" r="3.0"/><circle cx="393.2" cy="1125.4" r="3.0"/><circle cx="425.5" cy="1289.5" r="3.0"/><circle cx="447.5" cy="1284.9" r="3.0"/><circle cx="403.7" cy="1258.8" r="3.0"/><circle cx="432.7" cy="1269.4" r="3.0"/><circle cx="451.1" cy="1200.3" r="3.0"/><circle cx="437.4" cy="1193.6" r="3.0"/><circle cx="434.6" cy="1164.1" r="3.0"/><circle cx="409.5" cy="1276.9" r="3.0"/><circle cx="430.6" cy="1184.0" r="3.0"/><circle cx="426.8" cy="1192.6" r="3.0"/><circle cx="407.2" cy="1282.8" r="3.0"/><circle cx="456.2" cy="1276.5" r="3.0"/><circle cx="428.6" cy="1199.9" r="3.0"/><circle cx="422.7" cy="1154.5" r="3.0"/><circle cx="436.3" cy="1294.1" r="3.0"/><circle cx="398.0" cy="1266.0" r="3.0"/><circle cx="421.3" cy="1158.8" r="3.0"/><circle cx="408.2" cy="1140.1" r="3.0"/><circle cx="396.2" cy="1267.0" r="3.0"/><circle cx="462.2" cy="1237.3" r="3.0"/><circle cx="451.0" cy="1242.6" r="3.0"/><circle cx="452.1" cy="1260.5" r="3.0"/><circle cx="392.6" cy="1263.1" r="3.0"/><circle cx="424.1" cy="1169.3" r="3.0"/><circle cx="450.4" cy="1222.5" r="3.0"/><circle cx="405.2" cy="1138.0" r="3.0"/><circle cx="441.3" cy="1251.9" r="3.0"/><circle cx="387.8" cy="1245.6" r="3.0"/><circle cx="448.3" cy="1257.3" r="3.0"/><circle cx="458.1" cy="1214.3" r="3.0"/><circle cx="422.2" cy="1177.5" r="3.0"/><circle cx="391.1" cy="1259.3" r="3.0"/><circle cx="448.9" cy="1239.2" r="3.0"/><circle cx="424.5" cy="1163.9" r="3.0"/><circle cx="401.7" cy="1138.3" r="3.0"/><circle cx="434.2" cy="1292.5" r="3.0"/><circle cx="425.5" cy="1289.8" r="3.0"/><circle cx="436.1" cy="1183.5" r="3.0"/><circle cx="414.2" cy="1147.8" r="3.0"/><circle cx="420.5" cy="1291.9" r="3.0"/><circle cx="440.4" cy="1252.7" r="3.0"/><circle cx="393.8" cy="1253.4" r="3.0"/><circle cx="427.8" cy="1155.2" r="3.0"/><circle cx="443.6" cy="1245.6" r="3.0"/><circle cx="437.1" cy="1236.6" r="3.0"/><circle cx="431.3" cy="1163.8" r="3.0"/><circle cx="404.6" cy="1145.0" r="3.0"/><circle cx="450.4" cy="1241.9" r="3.0"/><circle cx="414.6" cy="1161.4" r="3.0"/><circle cx="448.6" cy="1191.6" r="3.0"/><circle cx="420.5" cy="1276.0" r="3.0"/><circle cx="439.1" cy="1248.4" r="3.0"/><circle cx="465.3" cy="1231.5" r="3.0"/><circle cx="438.9" cy="1187.6" r="3.0"/><circle cx="448.4" cy="1208.3" r="3.0"/><circle cx="430.8" cy="1264.4" r="3.0"/><circle cx="447.6" cy="1249.6" r="3.0"/><circle cx="442.3" cy="1212.7" r="3.0"/><circle cx="388.8" cy="1256.3" r="3.0"/><circle cx="434.8" cy="1278.8" r="3.0"/><circle cx="440.9" cy="1265.9" r="3.0"/><circle cx="411.7" cy="1155.5" r="3.0"/><circle cx="405.2" cy="1274.7" r="3.0"/><circle cx="392.7" cy="1124.4" r="3.0"/><circle cx="384.1" cy="1259.0" r="3.0"/><circle cx="442.1" cy="1240.2" r="3.0"/><circle cx="407.7" cy="1275.8" r="3.0"/><circle cx="452.4" cy="1214.4" r="3.0"/><circle cx="433.3" cy="1297.4" r="3.0"/><circle cx="453.8" cy="1283.2" r="3.0"/><circle cx="396.3" cy="1276.7" r="3.0"/><circle cx="410.2" cy="1146.5" r="3.0"/><circle cx="455.1" cy="1209.1" r="3.0"/><circle cx="419.9" cy="1158.5" r="3.0"/><circle cx="428.8" cy="1171.8" r="3.0"/><circle cx="409.8" cy="1150.5" r="3.0"/><circle cx="405.3" cy="1277.5" r="3.0"/><circle cx="446.9" cy="1224.9" r="3.0"/><circle cx="438.0" cy="1238.8" r="3.0"/><circle cx="423.0" cy="1183.2" r="3.0"/><circle cx="394.0" cy="1273.9" r="3.0"/><circle cx="454.6" cy="1237.0" r="3.0"/><circle cx="441.0" cy="1249.2" r="3.0"/><circle cx="428.0" cy="1276.2" r="3.0"/><circle cx="405.1" cy="1272.5" r="3.0"/><circle cx="447.7" cy="1218.8" r="3.0"/><circle cx="419.6" cy="1280.2" r="3.0"/><circle cx="396.1" cy="1115.5" r="3.0"/><circle cx="400.7" cy="1263.1" r="3.0"/><circle cx="444.1" cy="1251.9" r="3.0"/><circle cx="381.4" cy="1107.8" r="3.0"/><circle cx="400.4" cy="1265.8" r="3.0"/><circle cx="433.8" cy="1287.1" r="3.0"/><circle cx="412.0" cy="1264.9" r="3.0"/><circle cx="402.2" cy="1283.6" r="3.0"/><circle cx="403.3" cy="1269.1" r="3.0"/><circle cx="441.8" cy="1296.0" r="3.0"/><circle cx="439.0" cy="1225.9" r="3.0"/><circle cx="422.2" cy="1177.4" r="3.0"/><circle cx="448.0" cy="1213.5" r="3.0"/><circle cx="455.3" cy="1224.3" r="3.0"/><circle cx="446.1" cy="1252.4" r="3.0"/><circle cx="432.5" cy="1283.3" r="3.0"/><circle cx="402.9" cy="1139.0" r="3.0"/><circle cx="429.4" cy="1202.1" r="3.0"/><circle cx="431.2" cy="1179.0" r="3.0"/><circle cx="426.9" cy="1288.0" r="3.0"/><circle cx="442.4" cy="1281.7" r="3.0"/><circle cx="449.7" cy="1240.2" r="3.0"/><circle cx="413.0" cy="1270.7" r="3.0"/><circle cx="468.1" cy="1248.4" r="3.0"/><circle cx="432.9" cy="1291.8" r="3.0"/><circle cx="454.9" cy="1231.5" r="3.0"/><circle cx="388.4" cy="1256.4" r="3.0"/><circle cx="418.1" cy="1271.6" r="3.0"/><circle cx="393.8" cy="1270.0" r="3.0"/><circle cx="382.1" cy="1243.5" r="3.0"/><circle cx="443.9" cy="1271.5" r="3.0"/><circle cx="390.3" cy="1256.8" r="3.0"/><circle cx="385.2" cy="1108.1" r="3.0"/><circle cx="419.2" cy="1265.1" r="3.0"/><circle cx="440.3" cy="1210.0" r="3.0"/><circle cx="444.5" cy="1276.9" r="3.0"/><circle cx="457.1" cy="1235.8" r="3.0"/><circle cx="448.8" cy="1226.9" r="3.0"/><circle cx="420.8" cy="1153.4" r="3.0"/><circle cx="432.5" cy="1202.4" r="3.0"/><circle cx="440.1" cy="1298.1" r="3.0"/><circle cx="407.5" cy="1129.6" r="3.0"/><circle cx="379.5" cy="1230.7" r="3.0"/><circle cx="420.2" cy="1280.2" r="3.0"/><circle cx="420.2" cy="1160.9" r="3.0"/><circle cx="434.1" cy="1164.8" r="3.0"/><circle cx="444.1" cy="1280.8" r="3.0"/><circle cx="427.4" cy="1290.1" r="3.0"/><circle cx="427.9" cy="1164.2" r="3.0"/><circle cx="444.4" cy="1193.2" r="3.0"/><circle cx="391.9" cy="1265.4" r="3.0"/><circle cx="442.1" cy="1220.0" r="3.0"/><circle cx="433.2" cy="1275.4" r="3.0"/><circle cx="478.9" cy="1234.3" r="3.0"/><circle cx="464.6" cy="1233.1" r="3.0"/><circle cx="478.8" cy="1231.1" r="3.0"/><circle cx="461.1" cy="1302.8" r="3.0"/><circle cx="488.0" cy="1278.1" r="3.0"/><circle cx="478.6" cy="1216.4" r="3.0"/><circle cx="458.9" cy="1194.6" r="3.0"/><circle cx="487.9" cy="1313.6" r="3.0"/><circle cx="447.0" cy="1200.6" r="3.0"/><circle cx="478.3" cy="1309.3" r="3.0"/><circle cx="468.4" cy="1209.2" r="3.0"/><circle cx="451.5" cy="1197.4" r="3.0"/><circle cx="467.2" cy="1266.8" r="3.0"/><circle cx="465.3" cy="1231.3" r="3.0"/><circle cx="495.4" cy="1305.9" r="3.0"/><circle cx="474.7" cy="1310.1" r="3.0"/><circle cx="497.4" cy="1289.9" r="3.0"/><circle cx="478.7" cy="1248.6" r="3.0"/><circle cx="486.7" cy="1277.1" r="3.0"/><circle cx="482.8" cy="1279.9" r="3.0"/><circle cx="474.2" cy="1294.4" r="3.0"/><circle cx="448.7" cy="1186.8" r="3.0"/><circle cx="449.6" cy="1319.1" r="3.0"/><circle cx="456.8" cy="1292.9" r="3.0"/><circle cx="459.9" cy="1302.6" r="3.0"/><circle cx="456.0" cy="1291.5" r="3.0"/><circle cx="475.5" cy="1276.7" r="3.0"/><circle cx="446.4" cy="1199.9" r="3.0"/><circle cx="499.2" cy="1301.1" r="3.0"/><circle cx="462.8" cy="1203.0" r="3.0"/><circle cx="274.7" cy="1112.6" r="3.0"/><circle cx="268.1" cy="1120.6" r="3.0"/><circle cx="256.5" cy="1129.4" r="3.0"/><circle cx="263.8" cy="1125.0" r="3.0"/><circle cx="255.0" cy="1141.8" r="3.0"/><circle cx="251.4" cy="1157.1" r="3.0"/><circle cx="248.4" cy="1169.5" r="3.0"/><circle cx="241.9" cy="1189.2" r="3.0"/><circle cx="237.5" cy="1197.2" r="3.0"/><circle cx="237.2" cy="1222.5" r="3.0"/><circle cx="243.3" cy="1236.6" r="3.0"/><circle cx="244.8" cy="1247.5" r="3.0"/><circle cx="238.2" cy="1260.0" r="3.0"/><circle cx="241.9" cy="1262.1" r="3.0"/><circle cx="247.7" cy="1270.2" r="3.0"/><circle cx="272.5" cy="1264.3" r="3.0"/><circle cx="288.3" cy="1252.7" r="3.0"/><circle cx="284.2" cy="1247.5" r="3.0"/><circle cx="300.0" cy="1206.7" r="3.0"/><circle cx="302.4" cy="1189.2" r="3.0"/><circle cx="263.0" cy="1293.5" r="3.0"/><circle cx="258.7" cy="1300.8" r="3.0"/><circle cx="237.5" cy="1196.7" r="3.0"/><circle cx="236.8" cy="1222.1" r="3.0"/><circle cx="238.1" cy="1260.1" r="3.0"/><circle cx="520.9" cy="1232.3" r="3.0"/><circle cx="523.5" cy="1231.9" r="3.0"/><circle cx="588.2" cy="1251.9" r="3.0"/><circle cx="520.9" cy="1271.4" r="3.0"/><circle cx="506.0" cy="1262.8" r="3.0"/><circle cx="487.8" cy="1205.6" r="3.0"/><circle cx="475.4" cy="1202.4" r="3.0"/><circle cx="471.8" cy="1216.3" r="3.0"/><circle cx="459.4" cy="1201.3" r="3.0"/><circle cx="450.5" cy="1189.6" r="3.0"/><circle cx="461.1" cy="1181.1" r="3.0"/><circle cx="507.7" cy="1286.7" r="3.0"/><circle cx="512.8" cy="1287.8" r="3.0"/><circle cx="523.5" cy="1287.2" r="3.0"/><circle cx="503.4" cy="1299.6" r="3.0"/><circle cx="501.7" cy="1310.2" r="3.0"/><circle cx="492.1" cy="1313.4" r="3.0"/><circle cx="578.1" cy="1295.9" r="3.0"/><circle cx="579.6" cy="1306.4" r="3.0"/><circle cx="474.6" cy="1307.7" r="3.0"/><circle cx="478.8" cy="1301.3" r="3.0"/><circle cx="472.2" cy="1301.3" r="3.0"/><circle cx="484.6" cy="1297.0" r="3.0"/><circle cx="477.8" cy="1292.1" r="3.0"/><circle cx="414.2" cy="1325.2" r="3.0"/><circle cx="429.1" cy="1320.9" r="3.0"/><circle cx="441.9" cy="1314.5" r="3.0"/><circle cx="459.0" cy="1326.9" r="3.0"/><circle cx="466.5" cy="1330.1" r="3.0"/><circle cx="475.0" cy="1333.3" r="3.0"/><circle cx="451.9" cy="1342.7" r="3.0"/><circle cx="462.2" cy="1351.9" r="3.0"/><circle cx="471.8" cy="1353.4" r="3.0"/><circle cx="479.7" cy="1364.0" r="3.0"/><circle cx="492.7" cy="1367.2" r="3.0"/><circle cx="501.7" cy="1363.6" r="3.0"/><circle cx="510.9" cy="1376.4" r="3.0"/><circle cx="437.2" cy="1370.6" r="3.0"/><circle cx="451.5" cy="1388.8" r="3.0"/><circle cx="475.0" cy="1392.4" r="3.0"/><circle cx="487.4" cy="1386.4" r="3.0"/><circle cx="540.5" cy="1360.4" r="3.0"/><circle cx="541.6" cy="1376.8" r="3.0"/><circle cx="542.3" cy="1381.1" r="3.0"/><circle cx="556.8" cy="1337.6" r="3.0"/><circle cx="583.9" cy="1334.4" r="3.0"/><circle cx="593.5" cy="1332.0" r="3.0"/><circle cx="596.0" cy="1332.6" r="3.0"/><circle cx="552.5" cy="1402.0" r="3.0"/><circle cx="567.4" cy="1417.0" r="3.0"/><circle cx="588.2" cy="1404.2" r="3.0"/><circle cx="404.8" cy="1303.4" r="3.0"/><circle cx="389.6" cy="1290.6" r="3.0"/></g>
<g fill="#9ecae1"><circle cx="615.6" cy="783.2" r="3.2"/><circle cx="598.8" cy="824.3" r="3.2"/><circle cx="586.6" cy="837.4" r="3.2"/><circle cx="617.8" cy="837.4" r="3.2"/><circle cx="241.1" cy="944.7" r="3.2"/><circle cx="250.0" cy="1004.1" r="3.2"/><circle cx="256.0" cy="1013.8" r="3.2"/><circle cx="259.1" cy="1021.0" r="3.2"/><circle cx="255.1" cy="1031.0" r="3.2"/></g>
<g fill="#ff00ff"><circle cx="225.2" cy="1196.7" r="3.0"/><circle cx="229.2" cy="1215.4" r="3.0"/><circle cx="215.5" cy="1233.4" r="3.0"/><circle cx="230.1" cy="1245.2" r="3.0"/><circle cx="229.7" cy="1265.2" r="3.0"/><circle cx="609.9" cy="1305.5" r="3.0"/><circle cx="671.4" cy="1347.6" r="3.0"/><circle cx="608.9" cy="1361.9" r="3.0"/><circle cx="643.0" cy="1417.2" r="3.0"/></g>
<path d="M141.8,1097 L141.8,762.3 L706.2,762.3 L706.2,1097" fill="none" stroke="#777" stroke-width="1.5"/>
<path d="M138.7,1094 L138.7,1432 L703.3,1432 L703.3,1097" fill="none" stroke="#777" stroke-width="1.5"/>
<line x1="141.80" y1="1094.40" x2="706.20" y2="1094.40" stroke="#cccccc" stroke-width="1.6" stroke-dasharray="5.6,3.6" stroke-dashoffset="0.8"/>
<line x1="138.70" y1="1102.60" x2="703.30" y2="1102.60" stroke="#cccccc" stroke-width="1.6" stroke-dasharray="5.6,3.6" stroke-dashoffset="0.3"/>
<line x1="301.60" y1="763.00" x2="301.60" y2="1094.00" stroke="#c8c8c8" stroke-width="1.3" stroke-dasharray="5.6,3.6"/>
<line x1="371.30" y1="763.00" x2="371.30" y2="1094.00" stroke="#c8c8c8" stroke-width="1.3" stroke-dasharray="5.6,3.6"/>
<line x1="299.00" y1="1103.00" x2="299.00" y2="1431.00" stroke="#c8c8c8" stroke-width="1.3" stroke-dasharray="5.6,3.6"/>
<line x1="369.00" y1="1103.00" x2="369.00" y2="1431.00" stroke="#c8c8c8" stroke-width="1.3" stroke-dasharray="5.6,3.6"/>
<line x1="133.20" y1="785.10" x2="141.80" y2="785.10" stroke="#555" stroke-width="1.5"/>
<line x1="133.20" y1="889.20" x2="141.80" y2="889.20" stroke="#555" stroke-width="1.5"/>
<line x1="133.20" y1="993.10" x2="141.80" y2="993.10" stroke="#555" stroke-width="1.5"/>
<line x1="133.20" y1="1096.80" x2="141.80" y2="1096.80" stroke="#555" stroke-width="1.5"/>
<line x1="130.00" y1="1176.70" x2="138.70" y2="1176.70" stroke="#555" stroke-width="1.5"/>
<line x1="130.00" y1="1256.10" x2="138.70" y2="1256.10" stroke="#555" stroke-width="1.5"/>
<line x1="130.00" y1="1335.50" x2="138.70" y2="1335.50" stroke="#555" stroke-width="1.5"/>
<line x1="130.00" y1="1414.90" x2="138.70" y2="1414.90" stroke="#555" stroke-width="1.5"/>
<line x1="160.00" y1="1432.00" x2="160.00" y2="1440.00" stroke="#555" stroke-width="1.5"/>
<line x1="246.60" y1="1432.00" x2="246.60" y2="1440.00" stroke="#555" stroke-width="1.5"/>
<line x1="333.60" y1="1432.00" x2="333.60" y2="1440.00" stroke="#555" stroke-width="1.5"/>
<line x1="420.70" y1="1432.00" x2="420.70" y2="1440.00" stroke="#555" stroke-width="1.5"/>
<line x1="508.90" y1="1432.00" x2="508.90" y2="1440.00" stroke="#555" stroke-width="1.5"/>
<line x1="595.30" y1="1432.00" x2="595.30" y2="1440.00" stroke="#555" stroke-width="1.5"/>
<line x1="682.90" y1="1432.00" x2="682.90" y2="1440.00" stroke="#555" stroke-width="1.5"/>
<text x="347.5" y="1498.6" font-size="25.3" fill="#111">log<tspan font-size="16" dy="6.5">2</tspan><tspan dy="-6.5"> fold change</tspan></text>
<text transform="translate(67.4,1163) rotate(-90)" font-size="25.5" fill="#111">-log<tspan x="45" font-size="15" dy="8.2">10</tspan><tspan x="65" dy="-8.2">FDR</tspan></text>
<polygon fill="#a0a0a0" points="927.0,1383.0 920.0,1371.0 922.0,1358.0 930.0,1345.0 934.0,1330.0 938.0,1304.0 948.0,1295.0 962.0,1279.0 990.0,1245.0 1015.0,1205.0 1035.0,1165.0 1050.0,1137.0 1071.0,1120.0 1092.0,1102.0 1102.0,1091.0 1122.0,1066.0 1137.0,1051.0 1158.0,1030.0 1173.0,1025.0 1188.0,1015.0 1196.0,1012.0 1192.0,1040.0 1168.0,1056.0 1148.0,1076.0 1127.0,1107.0 1112.0,1127.0 1097.0,1148.0 1081.0,1168.0 1066.0,1188.0 1050.0,1215.0 1030.0,1255.0 1008.0,1288.0 992.0,1318.0 978.0,1333.0 963.0,1348.0 953.0,1358.0 939.0,1373.0 930.0,1384.0"/>
<g fill="#a0a0a0"><circle cx="928.4" cy="1374.8" r="6.0"/><circle cx="926.2" cy="1371.7" r="6.0"/><circle cx="930.9" cy="1382.8" r="6.0"/><circle cx="929.2" cy="1370.4" r="6.0"/><circle cx="924.4" cy="1365.9" r="6.0"/><circle cx="923.2" cy="1362.6" r="6.0"/><circle cx="928.0" cy="1369.7" r="6.0"/><circle cx="927.0" cy="1367.5" r="6.0"/><circle cx="929.0" cy="1349.6" r="6.0"/><circle cx="931.5" cy="1347.6" r="6.0"/><circle cx="936.4" cy="1346.6" r="6.0"/><circle cx="934.2" cy="1349.2" r="6.0"/><circle cx="930.5" cy="1359.1" r="6.0"/><circle cx="941.1" cy="1330.6" r="6.0"/><circle cx="934.3" cy="1338.7" r="6.0"/><circle cx="933.9" cy="1345.9" r="6.0"/><circle cx="935.9" cy="1345.3" r="6.0"/><circle cx="938.0" cy="1341.5" r="6.0"/><circle cx="940.1" cy="1323.8" r="6.0"/><circle cx="942.0" cy="1326.4" r="6.0"/><circle cx="944.0" cy="1308.4" r="6.0"/><circle cx="941.3" cy="1310.8" r="6.0"/><circle cx="936.3" cy="1328.6" r="6.0"/><circle cx="940.9" cy="1307.5" r="6.0"/><circle cx="945.3" cy="1305.7" r="6.0"/><circle cx="940.5" cy="1323.2" r="6.0"/><circle cx="943.9" cy="1308.5" r="6.0"/><circle cx="947.2" cy="1302.7" r="6.0"/><circle cx="941.3" cy="1307.6" r="6.0"/><circle cx="949.6" cy="1302.0" r="6.0"/><circle cx="958.3" cy="1288.5" r="6.0"/><circle cx="951.7" cy="1293.3" r="6.0"/><circle cx="964.4" cy="1285.2" r="6.0"/><circle cx="955.4" cy="1297.7" r="6.0"/><circle cx="955.9" cy="1292.4" r="6.0"/><circle cx="963.1" cy="1284.6" r="6.0"/><circle cx="955.0" cy="1294.6" r="6.0"/><circle cx="981.7" cy="1263.2" r="6.0"/><circle cx="989.0" cy="1258.1" r="6.0"/><circle cx="985.6" cy="1255.0" r="6.0"/><circle cx="972.1" cy="1275.9" r="6.0"/><circle cx="981.5" cy="1268.9" r="6.0"/><circle cx="992.9" cy="1248.9" r="6.0"/><circle cx="986.2" cy="1256.1" r="6.0"/><circle cx="975.0" cy="1267.7" r="6.0"/><circle cx="996.3" cy="1249.3" r="6.0"/><circle cx="978.9" cy="1262.7" r="6.0"/><circle cx="975.2" cy="1275.1" r="6.0"/><circle cx="977.7" cy="1271.5" r="6.0"/><circle cx="986.3" cy="1260.1" r="6.0"/><circle cx="977.3" cy="1268.5" r="6.0"/><circle cx="1008.0" cy="1229.4" r="6.0"/><circle cx="1004.3" cy="1236.8" r="6.0"/><circle cx="1005.8" cy="1224.7" r="6.0"/><circle cx="1001.5" cy="1237.4" r="6.0"/><circle cx="1015.5" cy="1216.8" r="6.0"/><circle cx="1003.8" cy="1235.2" r="6.0"/><circle cx="1014.0" cy="1216.6" r="6.0"/><circle cx="1017.1" cy="1215.7" r="6.0"/><circle cx="1018.3" cy="1209.6" r="6.0"/><circle cx="1000.4" cy="1243.6" r="6.0"/><circle cx="1007.3" cy="1229.9" r="6.0"/><circle cx="1010.5" cy="1220.1" r="6.0"/><circle cx="1009.8" cy="1223.9" r="6.0"/><circle cx="1011.5" cy="1223.5" r="6.0"/><circle cx="1009.4" cy="1216.8" r="6.0"/><circle cx="1029.2" cy="1187.9" r="6.0"/><circle cx="1034.0" cy="1177.0" r="6.0"/><circle cx="1027.3" cy="1185.7" r="6.0"/><circle cx="1021.0" cy="1200.0" r="6.0"/><circle cx="1020.6" cy="1199.3" r="6.0"/><circle cx="1027.7" cy="1192.6" r="6.0"/><circle cx="1026.6" cy="1194.7" r="6.0"/><circle cx="1026.3" cy="1190.5" r="6.0"/><circle cx="1023.8" cy="1201.9" r="6.0"/><circle cx="1020.9" cy="1203.4" r="6.0"/><circle cx="1029.4" cy="1185.9" r="6.0"/><circle cx="1040.5" cy="1168.4" r="6.0"/><circle cx="1036.6" cy="1173.9" r="6.0"/><circle cx="1022.9" cy="1201.9" r="6.0"/><circle cx="1056.6" cy="1141.2" r="6.0"/><circle cx="1047.0" cy="1154.5" r="6.0"/><circle cx="1041.4" cy="1165.0" r="6.0"/><circle cx="1042.3" cy="1165.8" r="6.0"/><circle cx="1044.6" cy="1155.2" r="6.0"/><circle cx="1046.6" cy="1158.5" r="6.0"/><circle cx="1056.3" cy="1141.0" r="6.0"/><circle cx="1046.2" cy="1160.1" r="6.0"/><circle cx="1044.6" cy="1158.6" r="6.0"/><circle cx="1045.5" cy="1153.5" r="6.0"/><circle cx="1056.4" cy="1138.5" r="6.0"/><circle cx="1061.0" cy="1137.9" r="6.0"/><circle cx="1053.6" cy="1139.3" r="6.0"/><circle cx="1074.5" cy="1123.5" r="6.0"/><circle cx="1056.7" cy="1139.3" r="6.0"/><circle cx="1060.0" cy="1135.7" r="6.0"/><circle cx="1067.3" cy="1131.4" r="6.0"/><circle cx="1057.2" cy="1137.7" r="6.0"/><circle cx="1063.4" cy="1130.6" r="6.0"/><circle cx="1085.2" cy="1113.4" r="6.0"/><circle cx="1090.4" cy="1107.6" r="6.0"/><circle cx="1079.3" cy="1121.8" r="6.0"/><circle cx="1093.2" cy="1104.9" r="6.0"/><circle cx="1090.2" cy="1110.2" r="6.0"/><circle cx="1089.9" cy="1110.9" r="6.0"/><circle cx="1092.7" cy="1106.7" r="6.0"/><circle cx="1090.3" cy="1107.2" r="6.0"/><circle cx="1089.1" cy="1110.9" r="6.0"/><circle cx="1102.2" cy="1096.4" r="6.0"/><circle cx="1106.0" cy="1094.6" r="6.0"/><circle cx="1100.8" cy="1100.1" r="6.0"/><circle cx="1096.9" cy="1102.2" r="6.0"/><circle cx="1119.6" cy="1072.2" r="6.0"/><circle cx="1124.0" cy="1074.6" r="6.0"/><circle cx="1107.8" cy="1096.4" r="6.0"/><circle cx="1127.1" cy="1066.5" r="6.0"/><circle cx="1121.1" cy="1073.9" r="6.0"/><circle cx="1126.2" cy="1068.1" r="6.0"/><circle cx="1114.3" cy="1084.7" r="6.0"/><circle cx="1117.6" cy="1076.8" r="6.0"/><circle cx="1115.6" cy="1076.2" r="6.0"/><circle cx="1110.9" cy="1082.0" r="6.0"/><circle cx="1135.6" cy="1063.2" r="6.0"/><circle cx="1127.1" cy="1066.4" r="6.0"/><circle cx="1134.5" cy="1063.2" r="6.0"/><circle cx="1128.5" cy="1065.1" r="6.0"/><circle cx="1128.6" cy="1067.3" r="6.0"/><circle cx="1139.5" cy="1056.6" r="6.0"/><circle cx="1129.8" cy="1064.1" r="6.0"/><circle cx="1156.4" cy="1036.6" r="6.0"/><circle cx="1144.7" cy="1051.0" r="6.0"/><circle cx="1145.6" cy="1051.7" r="6.0"/><circle cx="1143.3" cy="1050.3" r="6.0"/><circle cx="1143.7" cy="1050.3" r="6.0"/><circle cx="1158.8" cy="1035.1" r="6.0"/><circle cx="1154.4" cy="1039.2" r="6.0"/><circle cx="1139.6" cy="1056.1" r="6.0"/><circle cx="1153.2" cy="1037.9" r="6.0"/><circle cx="1175.2" cy="1031.8" r="6.0"/><circle cx="1162.4" cy="1033.2" r="6.0"/><circle cx="1162.1" cy="1034.3" r="6.0"/><circle cx="1164.1" cy="1030.8" r="6.0"/><circle cx="1172.9" cy="1032.4" r="6.0"/><circle cx="1184.4" cy="1024.9" r="6.0"/><circle cx="1185.1" cy="1024.7" r="6.0"/><circle cx="1179.3" cy="1022.4" r="6.0"/><circle cx="1176.0" cy="1029.5" r="6.0"/><circle cx="1184.6" cy="1021.4" r="6.0"/><circle cx="1185.2" cy="1025.2" r="6.0"/><circle cx="1193.0" cy="1016.0" r="6.0"/><circle cx="1188.9" cy="1018.5" r="6.0"/><circle cx="1191.8" cy="1020.0" r="6.0"/><circle cx="1188.7" cy="1016.4" r="6.0"/><circle cx="1188.3" cy="1019.2" r="6.0"/><circle cx="1193.5" cy="1011.4" r="6.0"/><circle cx="1188.4" cy="1038.6" r="6.0"/><circle cx="1191.8" cy="1022.2" r="6.0"/><circle cx="1187.1" cy="1031.1" r="6.0"/><circle cx="1186.1" cy="1029.9" r="6.0"/><circle cx="1189.3" cy="1009.5" r="6.0"/><circle cx="1182.4" cy="1041.4" r="6.0"/><circle cx="1181.6" cy="1039.5" r="6.0"/><circle cx="1173.0" cy="1045.5" r="6.0"/><circle cx="1184.5" cy="1042.3" r="6.0"/><circle cx="1173.3" cy="1049.0" r="6.0"/><circle cx="1186.4" cy="1037.6" r="6.0"/><circle cx="1176.7" cy="1042.7" r="6.0"/><circle cx="1165.6" cy="1050.8" r="6.0"/><circle cx="1184.4" cy="1039.7" r="6.0"/><circle cx="1157.3" cy="1059.6" r="6.0"/><circle cx="1156.9" cy="1056.7" r="6.0"/><circle cx="1161.8" cy="1053.1" r="6.0"/><circle cx="1155.7" cy="1055.8" r="6.0"/><circle cx="1143.1" cy="1071.9" r="6.0"/><circle cx="1156.6" cy="1058.0" r="6.0"/><circle cx="1155.8" cy="1059.0" r="6.0"/><circle cx="1146.6" cy="1073.0" r="6.0"/><circle cx="1157.3" cy="1057.0" r="6.0"/><circle cx="1134.1" cy="1087.5" r="6.0"/><circle cx="1132.1" cy="1095.1" r="6.0"/><circle cx="1137.1" cy="1084.7" r="6.0"/><circle cx="1136.9" cy="1079.0" r="6.0"/><circle cx="1143.7" cy="1077.8" r="6.0"/><circle cx="1135.1" cy="1080.4" r="6.0"/><circle cx="1136.2" cy="1080.4" r="6.0"/><circle cx="1130.2" cy="1088.5" r="6.0"/><circle cx="1126.4" cy="1093.1" r="6.0"/><circle cx="1137.1" cy="1079.7" r="6.0"/><circle cx="1133.9" cy="1087.7" r="6.0"/><circle cx="1134.6" cy="1091.4" r="6.0"/><circle cx="1112.1" cy="1118.8" r="6.0"/><circle cx="1111.7" cy="1123.1" r="6.0"/><circle cx="1113.3" cy="1117.2" r="6.0"/><circle cx="1110.1" cy="1118.0" r="6.0"/><circle cx="1120.0" cy="1103.9" r="6.0"/><circle cx="1111.6" cy="1114.9" r="6.0"/><circle cx="1111.9" cy="1116.4" r="6.0"/><circle cx="1120.0" cy="1104.2" r="6.0"/><circle cx="1097.7" cy="1142.8" r="6.0"/><circle cx="1104.0" cy="1128.1" r="6.0"/><circle cx="1100.1" cy="1131.5" r="6.0"/><circle cx="1096.9" cy="1139.0" r="6.0"/><circle cx="1098.0" cy="1136.5" r="6.0"/><circle cx="1103.9" cy="1135.2" r="6.0"/><circle cx="1105.1" cy="1129.1" r="6.0"/><circle cx="1100.6" cy="1133.4" r="6.0"/><circle cx="1083.4" cy="1160.4" r="6.0"/><circle cx="1078.2" cy="1161.9" r="6.0"/><circle cx="1079.6" cy="1158.5" r="6.0"/><circle cx="1074.6" cy="1164.9" r="6.0"/><circle cx="1087.7" cy="1153.9" r="6.0"/><circle cx="1088.3" cy="1147.4" r="6.0"/><circle cx="1083.2" cy="1157.6" r="6.0"/><circle cx="1088.3" cy="1148.2" r="6.0"/><circle cx="1064.3" cy="1186.7" r="6.0"/><circle cx="1067.1" cy="1175.2" r="6.0"/><circle cx="1064.5" cy="1178.9" r="6.0"/><circle cx="1072.0" cy="1169.7" r="6.0"/><circle cx="1061.7" cy="1184.8" r="6.0"/><circle cx="1073.2" cy="1173.7" r="6.0"/><circle cx="1069.5" cy="1176.7" r="6.0"/><circle cx="1076.9" cy="1165.7" r="6.0"/><circle cx="1058.1" cy="1189.3" r="6.0"/><circle cx="1060.1" cy="1185.5" r="6.0"/><circle cx="1055.3" cy="1197.7" r="6.0"/><circle cx="1047.9" cy="1214.5" r="6.0"/><circle cx="1051.6" cy="1204.4" r="6.0"/><circle cx="1048.1" cy="1207.6" r="6.0"/><circle cx="1051.0" cy="1202.5" r="6.0"/><circle cx="1058.0" cy="1186.7" r="6.0"/><circle cx="1054.0" cy="1202.4" r="6.0"/><circle cx="1059.4" cy="1192.4" r="6.0"/><circle cx="1028.6" cy="1242.9" r="6.0"/><circle cx="1034.9" cy="1241.9" r="6.0"/><circle cx="1033.8" cy="1241.7" r="6.0"/><circle cx="1031.6" cy="1237.3" r="6.0"/><circle cx="1026.0" cy="1251.5" r="6.0"/><circle cx="1034.0" cy="1231.5" r="6.0"/><circle cx="1035.8" cy="1229.3" r="6.0"/><circle cx="1030.0" cy="1249.4" r="6.0"/><circle cx="1035.4" cy="1229.4" r="6.0"/><circle cx="1035.8" cy="1234.1" r="6.0"/><circle cx="1026.1" cy="1247.1" r="6.0"/><circle cx="1040.9" cy="1225.9" r="6.0"/><circle cx="1043.0" cy="1221.1" r="6.0"/><circle cx="1038.4" cy="1222.1" r="6.0"/><circle cx="1009.8" cy="1281.0" r="6.0"/><circle cx="1016.2" cy="1266.2" r="6.0"/><circle cx="1004.7" cy="1280.8" r="6.0"/><circle cx="1015.3" cy="1270.3" r="6.0"/><circle cx="1022.9" cy="1253.6" r="6.0"/><circle cx="1010.7" cy="1270.3" r="6.0"/><circle cx="1013.6" cy="1273.0" r="6.0"/><circle cx="1007.2" cy="1276.2" r="6.0"/><circle cx="1010.2" cy="1278.7" r="6.0"/><circle cx="1008.0" cy="1282.8" r="6.0"/><circle cx="1022.0" cy="1261.8" r="6.0"/><circle cx="1013.0" cy="1266.1" r="6.0"/><circle cx="1020.0" cy="1255.3" r="6.0"/><circle cx="991.4" cy="1305.7" r="6.0"/><circle cx="993.7" cy="1309.6" r="6.0"/><circle cx="994.7" cy="1309.8" r="6.0"/><circle cx="996.4" cy="1302.0" r="6.0"/><circle cx="999.3" cy="1287.0" r="6.0"/><circle cx="997.3" cy="1298.0" r="6.0"/><circle cx="989.2" cy="1307.4" r="6.0"/><circle cx="994.1" cy="1299.7" r="6.0"/><circle cx="993.3" cy="1304.7" r="6.0"/><circle cx="998.4" cy="1303.2" r="6.0"/><circle cx="1004.0" cy="1289.1" r="6.0"/><circle cx="981.9" cy="1318.9" r="6.0"/><circle cx="984.8" cy="1322.4" r="6.0"/><circle cx="981.7" cy="1320.3" r="6.0"/><circle cx="980.3" cy="1325.5" r="6.0"/><circle cx="983.2" cy="1321.1" r="6.0"/><circle cx="978.4" cy="1321.9" r="6.0"/><circle cx="971.9" cy="1330.5" r="6.0"/><circle cx="968.0" cy="1333.4" r="6.0"/><circle cx="959.9" cy="1343.6" r="6.0"/><circle cx="958.0" cy="1342.6" r="6.0"/><circle cx="959.3" cy="1343.2" r="6.0"/><circle cx="966.1" cy="1333.4" r="6.0"/><circle cx="966.9" cy="1336.4" r="6.0"/><circle cx="957.2" cy="1347.8" r="6.0"/><circle cx="954.9" cy="1346.4" r="6.0"/><circle cx="959.4" cy="1348.4" r="6.0"/><circle cx="951.7" cy="1348.9" r="6.0"/><circle cx="938.1" cy="1366.8" r="6.0"/><circle cx="937.6" cy="1368.9" r="6.0"/><circle cx="946.0" cy="1356.7" r="6.0"/><circle cx="945.8" cy="1362.7" r="6.0"/><circle cx="935.8" cy="1371.3" r="6.0"/><circle cx="941.1" cy="1363.8" r="6.0"/><circle cx="927.6" cy="1381.3" r="6.0"/><circle cx="924.5" cy="1380.3" r="6.0"/><circle cx="932.5" cy="1371.5" r="6.0"/><circle cx="926.9" cy="1375.2" r="6.0"/><circle cx="927.7" cy="1378.1" r="6.0"/><circle cx="1080.6" cy="1080.8" r="6.0"/><circle cx="1147.4" cy="1105.8" r="6.0"/><circle cx="1162.7" cy="1103.1" r="6.0"/><circle cx="1168.3" cy="1094.7" r="6.0"/><circle cx="1186.4" cy="1052.9" r="6.0"/><circle cx="1185.6" cy="1052.9" r="6.0"/><circle cx="1178.0" cy="1017.5" r="6.0"/><circle cx="1184.6" cy="1013.4" r="6.0"/><circle cx="1192.2" cy="1015.0" r="6.0"/><circle cx="1200.8" cy="989.6" r="6.0"/><circle cx="1204.8" cy="995.7" r="6.0"/><circle cx="1204.8" cy="1003.3" r="6.0"/><circle cx="1216.0" cy="1005.8" r="6.0"/><circle cx="1224.6" cy="992.2" r="6.0"/><circle cx="1228.6" cy="989.1" r="6.0"/><circle cx="1221.0" cy="964.3" r="6.0"/><circle cx="1242.3" cy="950.1" r="6.0"/><circle cx="1245.3" cy="965.3" r="6.0"/><circle cx="1248.9" cy="964.3" r="6.0"/><circle cx="1256.0" cy="929.9" r="6.0"/><circle cx="1273.2" cy="944.0" r="6.0"/><circle cx="1272.7" cy="902.0" r="6.0"/><circle cx="1290.4" cy="896.0" r="6.0"/><circle cx="1295.4" cy="903.0" r="6.0"/><circle cx="1297.0" cy="914.7" r="6.0"/><circle cx="1300.5" cy="914.7" r="6.0"/><circle cx="1327.3" cy="875.2" r="6.0"/><circle cx="1340.5" cy="892.9" r="6.0"/><circle cx="1356.7" cy="873.2" r="6.0"/><circle cx="1378.0" cy="829.6" r="6.0"/><circle cx="1381.5" cy="792.2" r="6.0"/><circle cx="894.4" cy="1401.3" r="6.0"/><circle cx="895.3" cy="1401.0" r="6.0"/><circle cx="907.9" cy="1362.0" r="6.0"/><circle cx="913.4" cy="1346.8" r="6.0"/><circle cx="919.0" cy="1381.6" r="6.0"/><circle cx="913.6" cy="1347.3" r="6.0"/><circle cx="907.0" cy="1364.8" r="6.0"/><circle cx="914.5" cy="1372.3" r="6.0"/><circle cx="919.0" cy="1383.9" r="6.0"/><circle cx="925.0" cy="1390.0" r="6.0"/></g>
<polygon fill="#000000" points="1003.0,1206.0 1011.0,1212.0 1025.0,1234.0 1036.0,1245.0 1040.0,1256.0 1036.0,1270.0 1028.0,1276.0 1019.0,1267.0 1011.0,1251.0 997.0,1245.0 991.0,1231.0 1000.0,1217.0"/>
<g fill="#000000"><circle cx="1009.5" cy="1213.6" r="6.0"/><circle cx="1002.1" cy="1212.9" r="6.0"/><circle cx="1013.0" cy="1226.3" r="6.0"/><circle cx="1022.3" cy="1232.1" r="6.0"/><circle cx="1008.9" cy="1217.4" r="6.0"/><circle cx="1016.6" cy="1232.9" r="6.0"/><circle cx="1009.0" cy="1220.9" r="6.0"/><circle cx="1014.2" cy="1227.8" r="6.0"/><circle cx="1027.8" cy="1243.8" r="6.0"/><circle cx="1027.2" cy="1245.6" r="6.0"/><circle cx="1024.5" cy="1238.8" r="6.0"/><circle cx="1034.9" cy="1250.5" r="6.0"/><circle cx="1034.5" cy="1249.1" r="6.0"/><circle cx="1031.6" cy="1265.4" r="6.0"/><circle cx="1034.5" cy="1260.5" r="6.0"/><circle cx="1030.4" cy="1260.9" r="6.0"/><circle cx="1027.4" cy="1266.9" r="6.0"/><circle cx="1030.3" cy="1271.2" r="6.0"/><circle cx="1028.4" cy="1270.4" r="6.0"/><circle cx="1025.8" cy="1267.0" r="6.0"/><circle cx="1026.8" cy="1272.3" r="6.0"/><circle cx="1022.5" cy="1264.9" r="6.0"/><circle cx="1018.6" cy="1258.9" r="6.0"/><circle cx="1021.4" cy="1262.0" r="6.0"/><circle cx="1021.5" cy="1262.5" r="6.0"/><circle cx="1003.3" cy="1242.7" r="6.0"/><circle cx="1009.7" cy="1245.1" r="6.0"/><circle cx="1013.8" cy="1244.1" r="6.0"/><circle cx="1001.6" cy="1240.6" r="6.0"/><circle cx="1002.0" cy="1240.1" r="6.0"/><circle cx="1000.0" cy="1236.1" r="6.0"/><circle cx="999.8" cy="1229.6" r="6.0"/><circle cx="1001.3" cy="1219.0" r="6.0"/><circle cx="997.1" cy="1233.3" r="6.0"/><circle cx="992.6" cy="1235.5" r="6.0"/><circle cx="1008.5" cy="1210.1" r="6.0"/><circle cx="1004.3" cy="1213.2" r="6.0"/></g>
<polygon fill="#ad2f5e" points="1050.0,1148.0 1058.0,1159.0 1061.0,1178.0 1047.0,1206.0 1036.0,1223.0 1025.0,1234.0 1014.0,1228.0 1007.0,1214.0 1014.0,1195.0 1025.0,1181.0 1035.0,1162.0 1044.0,1150.0"/>
<g fill="#ad2f5e"><circle cx="1051.5" cy="1156.0" r="6.0"/><circle cx="1051.2" cy="1158.8" r="6.0"/><circle cx="1049.0" cy="1155.9" r="6.0"/><circle cx="1055.3" cy="1170.9" r="6.0"/><circle cx="1052.6" cy="1174.3" r="6.0"/><circle cx="1053.3" cy="1177.3" r="6.0"/><circle cx="1052.6" cy="1161.7" r="6.0"/><circle cx="1046.0" cy="1199.4" r="6.0"/><circle cx="1047.9" cy="1187.1" r="6.0"/><circle cx="1055.5" cy="1181.4" r="6.0"/><circle cx="1054.4" cy="1175.7" r="6.0"/><circle cx="1051.3" cy="1188.6" r="6.0"/><circle cx="1051.9" cy="1180.6" r="6.0"/><circle cx="1046.6" cy="1195.4" r="6.0"/><circle cx="1030.6" cy="1217.4" r="6.0"/><circle cx="1037.6" cy="1214.1" r="6.0"/><circle cx="1037.7" cy="1212.2" r="6.0"/><circle cx="1036.2" cy="1215.4" r="6.0"/><circle cx="1040.2" cy="1204.3" r="6.0"/><circle cx="1021.3" cy="1230.0" r="6.0"/><circle cx="1028.2" cy="1224.2" r="6.0"/><circle cx="1023.0" cy="1225.6" r="6.0"/><circle cx="1022.5" cy="1226.3" r="6.0"/><circle cx="1029.7" cy="1228.6" r="6.0"/><circle cx="1021.7" cy="1224.4" r="6.0"/><circle cx="1014.6" cy="1217.6" r="6.0"/><circle cx="1019.3" cy="1224.3" r="6.0"/><circle cx="1009.8" cy="1212.4" r="6.0"/><circle cx="1015.6" cy="1214.0" r="6.0"/><circle cx="1018.0" cy="1196.3" r="6.0"/><circle cx="1013.0" cy="1205.0" r="6.0"/><circle cx="1014.4" cy="1202.6" r="6.0"/><circle cx="1017.9" cy="1208.7" r="6.0"/><circle cx="1020.7" cy="1193.2" r="6.0"/><circle cx="1019.4" cy="1194.0" r="6.0"/><circle cx="1029.0" cy="1183.9" r="6.0"/><circle cx="1021.2" cy="1197.1" r="6.0"/><circle cx="1032.0" cy="1175.3" r="6.0"/><circle cx="1037.9" cy="1166.7" r="6.0"/><circle cx="1037.6" cy="1167.7" r="6.0"/><circle cx="1032.6" cy="1170.6" r="6.0"/><circle cx="1038.6" cy="1165.1" r="6.0"/><circle cx="1047.7" cy="1154.0" r="6.0"/><circle cx="1043.0" cy="1160.1" r="6.0"/><circle cx="1044.8" cy="1160.0" r="6.0"/><circle cx="1044.6" cy="1155.6" r="6.0"/></g>
<polygon fill="#4866ad" points="1064.0,1182.0 1072.0,1195.0 1069.0,1212.0 1058.0,1231.0 1053.0,1242.0 1042.0,1248.0 1030.0,1242.0 1028.0,1228.0 1036.0,1212.0 1047.0,1198.0 1058.0,1187.0"/>
<g fill="#4866ad"><circle cx="1063.2" cy="1197.1" r="6.0"/><circle cx="1058.8" cy="1183.9" r="6.0"/><circle cx="1064.0" cy="1192.6" r="6.0"/><circle cx="1067.8" cy="1194.5" r="6.0"/><circle cx="1063.8" cy="1203.1" r="6.0"/><circle cx="1068.2" cy="1192.8" r="6.0"/><circle cx="1063.8" cy="1207.7" r="6.0"/><circle cx="1057.6" cy="1223.9" r="6.0"/><circle cx="1053.3" cy="1226.0" r="6.0"/><circle cx="1052.8" cy="1225.7" r="6.0"/><circle cx="1063.0" cy="1215.1" r="6.0"/><circle cx="1059.0" cy="1223.3" r="6.0"/><circle cx="1056.1" cy="1227.8" r="6.0"/><circle cx="1050.2" cy="1237.8" r="6.0"/><circle cx="1050.3" cy="1237.2" r="6.0"/><circle cx="1042.6" cy="1243.3" r="6.0"/><circle cx="1045.6" cy="1239.3" r="6.0"/><circle cx="1042.2" cy="1242.3" r="6.0"/><circle cx="1037.0" cy="1236.2" r="6.0"/><circle cx="1037.7" cy="1238.0" r="6.0"/><circle cx="1044.7" cy="1244.4" r="6.0"/><circle cx="1036.4" cy="1238.9" r="6.0"/><circle cx="1035.0" cy="1234.3" r="6.0"/><circle cx="1031.5" cy="1238.4" r="6.0"/><circle cx="1038.6" cy="1221.0" r="6.0"/><circle cx="1034.8" cy="1224.7" r="6.0"/><circle cx="1036.0" cy="1225.8" r="6.0"/><circle cx="1037.1" cy="1220.5" r="6.0"/><circle cx="1044.8" cy="1209.3" r="6.0"/><circle cx="1037.6" cy="1215.9" r="6.0"/><circle cx="1040.8" cy="1213.2" r="6.0"/><circle cx="1048.6" cy="1204.0" r="6.0"/><circle cx="1052.6" cy="1202.9" r="6.0"/><circle cx="1059.4" cy="1195.4" r="6.0"/><circle cx="1060.5" cy="1194.4" r="6.0"/><circle cx="1063.6" cy="1193.7" r="6.0"/></g>
<polygon fill="#4866ad" points="978.0,1238.0 991.0,1233.0 1003.0,1241.0 1011.0,1256.0 1011.0,1267.0 1003.0,1281.0 991.0,1292.0 977.0,1295.0 964.0,1284.0 956.0,1277.0 969.0,1265.0 975.0,1250.0"/>
<g fill="#4866ad"><circle cx="979.8" cy="1240.7" r="6.0"/><circle cx="980.3" cy="1239.7" r="6.0"/><circle cx="979.7" cy="1241.1" r="6.0"/><circle cx="993.2" cy="1238.9" r="6.0"/><circle cx="992.9" cy="1240.9" r="6.0"/><circle cx="994.8" cy="1242.1" r="6.0"/><circle cx="1001.6" cy="1247.3" r="6.0"/><circle cx="1003.8" cy="1251.3" r="6.0"/><circle cx="1006.6" cy="1257.8" r="6.0"/><circle cx="1008.1" cy="1258.2" r="6.0"/><circle cx="1007.0" cy="1261.5" r="6.0"/><circle cx="1007.3" cy="1265.4" r="6.0"/><circle cx="1004.1" cy="1265.7" r="6.0"/><circle cx="1002.8" cy="1272.2" r="6.0"/><circle cx="1004.4" cy="1271.2" r="6.0"/><circle cx="1006.5" cy="1265.0" r="6.0"/><circle cx="996.6" cy="1275.9" r="6.0"/><circle cx="997.4" cy="1276.6" r="6.0"/><circle cx="999.8" cy="1280.1" r="6.0"/><circle cx="988.6" cy="1289.0" r="6.0"/><circle cx="986.7" cy="1284.4" r="6.0"/><circle cx="989.7" cy="1288.8" r="6.0"/><circle cx="985.1" cy="1288.3" r="6.0"/><circle cx="968.9" cy="1281.3" r="6.0"/><circle cx="977.6" cy="1288.9" r="6.0"/><circle cx="967.9" cy="1280.9" r="6.0"/><circle cx="967.0" cy="1282.4" r="6.0"/><circle cx="966.5" cy="1279.3" r="6.0"/><circle cx="967.9" cy="1279.0" r="6.0"/><circle cx="965.7" cy="1278.5" r="6.0"/><circle cx="964.5" cy="1274.7" r="6.0"/><circle cx="963.6" cy="1275.3" r="6.0"/><circle cx="972.1" cy="1266.9" r="6.0"/><circle cx="976.5" cy="1258.8" r="6.0"/><circle cx="973.2" cy="1264.3" r="6.0"/><circle cx="975.1" cy="1264.3" r="6.0"/><circle cx="972.9" cy="1261.3" r="6.0"/><circle cx="981.4" cy="1237.6" r="6.0"/><circle cx="983.6" cy="1244.6" r="6.0"/><circle cx="979.1" cy="1248.2" r="6.0"/></g>
<polygon fill="#ad2f5e" points="1016.0,1253.0 1025.0,1267.0 1032.0,1284.0 1025.0,1295.0 1014.0,1309.0 1003.0,1320.0 989.0,1320.0 982.0,1309.0 983.0,1295.0 997.0,1284.0 1008.0,1267.0"/>
<g fill="#ad2f5e"><circle cx="1013.5" cy="1264.3" r="6.0"/><circle cx="1015.9" cy="1260.0" r="6.0"/><circle cx="1017.0" cy="1266.3" r="6.0"/><circle cx="1013.0" cy="1261.6" r="6.0"/><circle cx="1023.0" cy="1277.5" r="6.0"/><circle cx="1026.7" cy="1283.0" r="6.0"/><circle cx="1025.7" cy="1279.5" r="6.0"/><circle cx="1021.2" cy="1275.8" r="6.0"/><circle cx="1020.5" cy="1290.2" r="6.0"/><circle cx="1024.1" cy="1286.0" r="6.0"/><circle cx="1026.1" cy="1283.5" r="6.0"/><circle cx="1021.4" cy="1295.9" r="6.0"/><circle cx="1017.8" cy="1293.6" r="6.0"/><circle cx="1018.9" cy="1293.1" r="6.0"/><circle cx="1014.0" cy="1297.3" r="6.0"/><circle cx="1002.9" cy="1315.2" r="6.0"/><circle cx="1001.9" cy="1316.8" r="6.0"/><circle cx="1008.4" cy="1306.3" r="6.0"/><circle cx="991.9" cy="1317.3" r="6.0"/><circle cx="999.5" cy="1317.7" r="6.0"/><circle cx="989.2" cy="1317.1" r="6.0"/><circle cx="984.0" cy="1307.8" r="6.0"/><circle cx="987.9" cy="1308.0" r="6.0"/><circle cx="991.5" cy="1318.0" r="6.0"/><circle cx="985.9" cy="1304.4" r="6.0"/><circle cx="988.1" cy="1303.0" r="6.0"/><circle cx="984.5" cy="1307.3" r="6.0"/><circle cx="993.8" cy="1291.7" r="6.0"/><circle cx="994.2" cy="1294.9" r="6.0"/><circle cx="995.8" cy="1289.4" r="6.0"/><circle cx="992.6" cy="1294.8" r="6.0"/><circle cx="1001.7" cy="1284.6" r="6.0"/><circle cx="1004.3" cy="1276.1" r="6.0"/><circle cx="1013.8" cy="1268.2" r="6.0"/><circle cx="1003.4" cy="1276.7" r="6.0"/><circle cx="1006.2" cy="1282.3" r="6.0"/><circle cx="1011.7" cy="1263.7" r="6.0"/><circle cx="1021.7" cy="1258.1" r="6.0"/><circle cx="1020.7" cy="1256.3" r="6.0"/><circle cx="1012.3" cy="1264.5" r="6.0"/></g>
<g fill="#4866ad"><circle cx="1075.0" cy="1218.7" r="6.0"/><circle cx="1055.5" cy="1247.9" r="6.0"/><circle cx="988.6" cy="1216.7" r="6.0"/><circle cx="981.7" cy="1225.6" r="6.0"/><circle cx="960.8" cy="1275.8" r="6.0"/></g>
<g fill="#000000"><circle cx="1002.0" cy="1206.0" r="6.0"/><circle cx="1040.0" cy="1262.0" r="6.0"/></g>
<line x1="867.60" y1="765.50" x2="867.60" y2="1436.20" stroke="#000" stroke-width="3"/>
<line x1="866.10" y1="1434.70" x2="1401.30" y2="1434.70" stroke="#000" stroke-width="3"/>
<line x1="863.20" y1="781.40" x2="866.10" y2="781.40" stroke="#333" stroke-width="2"/>
<line x1="863.20" y1="1013.20" x2="866.10" y2="1013.20" stroke="#333" stroke-width="2"/>
<line x1="863.20" y1="1246.00" x2="866.10" y2="1246.00" stroke="#333" stroke-width="2"/>
<line x1="902.40" y1="1436.20" x2="902.40" y2="1439.50" stroke="#333" stroke-width="2"/>
<line x1="1015.00" y1="1436.20" x2="1015.00" y2="1439.50" stroke="#333" stroke-width="2"/>
<line x1="1127.10" y1="1436.20" x2="1127.10" y2="1439.50" stroke="#333" stroke-width="2"/>
<line x1="1239.40" y1="1436.20" x2="1239.40" y2="1439.50" stroke="#333" stroke-width="2"/>
<line x1="1352.20" y1="1436.20" x2="1352.20" y2="1439.50" stroke="#333" stroke-width="2"/>
<text x="1014.8" y="1491.6" font-size="24.4" letter-spacing="0.25" fill="#111">log<tspan font-size="15.5" dy="6.2">2</tspan><tspan dy="-6.2"> fold change in males</tspan></text>
<text transform="translate(814,1240.2) rotate(-90)" font-size="24.4" letter-spacing="0.4" fill="#111">log<tspan font-size="15.5" dy="6.2">2</tspan><tspan dy="-6.2"> fold change in females</tspan></text>
<text x="5.77" y="33.00" font-size="34.29" font-weight="700" fill="#1e1e1e" textLength="25.93" lengthAdjust="spacingAndGlyphs">A</text>
<text x="94.12" y="31.60" font-size="21.92" font-weight="400" fill="#1e1e1e" textLength="173.92" lengthAdjust="spacingAndGlyphs">combined sample</text>
<text x="93.78" y="65.90" font-size="21.64" font-weight="400" fill="#1e1e1e" textLength="126.98" lengthAdjust="spacingAndGlyphs">male sample</text>
<text x="95.08" y="100.00" font-size="21.51" font-weight="400" fill="#1e1e1e" textLength="143.64" lengthAdjust="spacingAndGlyphs">female sample</text>
<text transform="translate(175.00,371.54) rotate(-90)" x="0" y="0" font-size="24.93" font-weight="400" fill="#2a2a2a">Intersection Size</text>
<text x="183.21" y="259.60" font-size="24.29" font-weight="400" fill="#555" textLength="55.37" lengthAdjust="spacingAndGlyphs">4000</text>
<text x="182.36" y="399.40" font-size="24.86" font-weight="400" fill="#555">2000</text>
<text x="224.28" y="538.00" font-size="25.43" font-weight="400" fill="#555">0</text>
<text x="288.96" y="482.37" font-size="24.57" font-weight="400" fill="#444">670</text>
<text x="354.04" y="511.32" font-size="24.57" font-weight="400" fill="#444">254</text>
<text x="425.67" y="527.96" font-size="24.93" font-weight="400" fill="#444">15</text>
<text x="477.31" y="437.55" font-size="24.57" font-weight="400" fill="#444">1314</text>
<text x="550.13" y="496.43" font-size="24.57" font-weight="400" fill="#444">468</text>
<text x="608.33" y="181.00" font-size="24.57" font-weight="400" fill="#444">5000</text>
<text x="91.59" y="710.00" font-size="16.29" font-weight="400" fill="#555" textLength="37.74" lengthAdjust="spacingAndGlyphs">6000</text>
<text x="134.07" y="710.00" font-size="16.29" font-weight="400" fill="#555" textLength="37.05" lengthAdjust="spacingAndGlyphs">4000</text>
<text x="181.19" y="710.00" font-size="16.29" font-weight="400" fill="#555" textLength="37.54" lengthAdjust="spacingAndGlyphs">2000</text>
<text x="226.55" y="710.00" font-size="16.29" font-weight="400" fill="#555" textLength="10.44" lengthAdjust="spacingAndGlyphs">0</text>
<text x="110.67" y="728.50" font-size="16.44" font-weight="700" fill="#111" textLength="106.06" lengthAdjust="spacingAndGlyphs">#transcripts</text>
<text x="760.43" y="24.20" font-size="33.91" font-weight="700" fill="#1e1e1e">B</text>
<text x="804.14" y="145.00" font-size="22.43" font-weight="400" fill="#1a1a1a">150</text>
<text x="804.14" y="261.50" font-size="22.43" font-weight="400" fill="#1a1a1a">100</text>
<text x="816.70" y="378.00" font-size="22.43" font-weight="400" fill="#1a1a1a">50</text>
<text x="829.04" y="494.50" font-size="22.43" font-weight="400" fill="#1a1a1a">0</text>
<text x="809.08" y="611.00" font-size="22.43" font-weight="400" fill="#1a1a1a">-50</text>
<text x="904.20" y="728.50" font-size="21.01" font-weight="400" fill="#1a1a1a">1</text>
<text x="954.00" y="728.50" font-size="20.71" font-weight="400" fill="#1a1a1a">2</text>
<text x="998.10" y="728.50" font-size="20.71" font-weight="400" fill="#1a1a1a">3</text>
<text x="1042.10" y="728.50" font-size="20.71" font-weight="400" fill="#1a1a1a">4</text>
<text x="1091.22" y="728.50" font-size="21.01" font-weight="400" fill="#1a1a1a">5</text>
<text x="1156.50" y="728.50" font-size="20.71" font-weight="400" fill="#1a1a1a">7</text>
<text x="1225.00" y="728.50" font-size="20.71" font-weight="400" fill="#1a1a1a">9</text>
<text x="1265.66" y="728.50" font-size="21.01" font-weight="400" fill="#1a1a1a">11</text>
<text x="1317.69" y="728.50" font-size="20.71" font-weight="400" fill="#1a1a1a">13</text>
<text x="1366.82" y="728.50" font-size="21.01" font-weight="400" fill="#1a1a1a">15</text>
<text x="1419.49" y="728.50" font-size="20.71" font-weight="400" fill="#1a1a1a">18</text>
<text x="1470.10" y="728.50" font-size="20.71" font-weight="400" fill="#1a1a1a">22</text>
<text x="1104.84" y="750.70" font-size="23.29" font-weight="400" fill="#1a1a1a" textLength="148.84" lengthAdjust="spacingAndGlyphs">Chromosome</text>
<text x="-0.71" y="812.00" font-size="35.29" font-weight="700" fill="#1e1e1e" textLength="23.15" lengthAdjust="spacingAndGlyphs">C</text>
<text x="85.52" y="796.30" font-size="25.57" font-weight="400" fill="#111">150</text>
<text x="85.52" y="900.40" font-size="25.57" font-weight="400" fill="#111">100</text>
<text x="99.84" y="1004.30" font-size="25.57" font-weight="400" fill="#111">50</text>
<text x="113.90" y="1108.00" font-size="25.57" font-weight="400" fill="#111">0</text>
<text x="100.60" y="1181.40" font-size="24.86" font-weight="400" fill="#111">20</text>
<text x="100.60" y="1260.80" font-size="24.86" font-weight="400" fill="#111">40</text>
<text x="100.60" y="1340.20" font-size="24.86" font-weight="400" fill="#111">60</text>
<text x="100.60" y="1419.60" font-size="24.86" font-weight="400" fill="#111">80</text>
<text x="144.05" y="1463.70" font-size="23.86" font-weight="400" fill="#111" textLength="43.59" lengthAdjust="spacingAndGlyphs">-1.0</text>
<text x="229.05" y="1463.70" font-size="23.86" font-weight="400" fill="#111" textLength="43.59" lengthAdjust="spacingAndGlyphs">-0.5</text>
<text x="314.05" y="1463.70" font-size="23.86" font-weight="400" fill="#111" textLength="34.31" lengthAdjust="spacingAndGlyphs">0.0</text>
<text x="404.35" y="1463.70" font-size="23.86" font-weight="400" fill="#111" textLength="35.01" lengthAdjust="spacingAndGlyphs">0.5</text>
<text x="494.59" y="1463.70" font-size="23.86" font-weight="400" fill="#111" textLength="35.07" lengthAdjust="spacingAndGlyphs">1.0</text>
<text x="585.96" y="1463.70" font-size="24.20" font-weight="400" fill="#111">1.5</text>
<text x="667.81" y="1463.70" font-size="23.86" font-weight="400" fill="#111" textLength="35.25" lengthAdjust="spacingAndGlyphs">2.0</text>
<text x="614.30" y="777.10" font-size="16.23" font-weight="400" fill="#000" textLength="53.21" lengthAdjust="spacingAndGlyphs">FKBP5</text>
<text x="591.72" y="813.10" font-size="16.00" font-weight="400" fill="#000" textLength="61.55" lengthAdjust="spacingAndGlyphs">ZBTB16</text>
<text x="623.62" y="841.50" font-size="16.00" font-weight="400" fill="#000" textLength="68.85" lengthAdjust="spacingAndGlyphs">ECHDC3</text>
<text x="579.63" y="859.30" font-size="15.57" font-weight="400" fill="#000" textLength="61.91" lengthAdjust="spacingAndGlyphs">ZBTB16</text>
<text x="209.85" y="942.00" font-size="16.14" font-weight="400" fill="#000" textLength="26.90" lengthAdjust="spacingAndGlyphs">ID3</text>
<text x="202.01" y="998.00" font-size="16.14" font-weight="400" fill="#000" textLength="55.09" lengthAdjust="spacingAndGlyphs">MS4A7</text>
<text x="202.87" y="1015.00" font-size="16.57" font-weight="400" fill="#000">CD83</text>
<text x="198.52" y="1035.00" font-size="15.57" font-weight="400" fill="#000" textLength="49.28" lengthAdjust="spacingAndGlyphs">CRIP2</text>
<text x="202.32" y="1052.80" font-size="17.29" font-weight="400" fill="#000" textLength="65.57" lengthAdjust="spacingAndGlyphs">FCER1A</text>
<text x="153.24" y="1202.70" font-size="15.57" font-weight="400" fill="#000" textLength="65.58" lengthAdjust="spacingAndGlyphs">VPREB3</text>
<text x="175.59" y="1220.10" font-size="16.29" font-weight="400" fill="#000" textLength="49.25" lengthAdjust="spacingAndGlyphs">CRIP2</text>
<text x="181.40" y="1241.40" font-size="15.57" font-weight="400" fill="#000" textLength="26.12" lengthAdjust="spacingAndGlyphs">ID3</text>
<text x="171.99" y="1258.80" font-size="16.29" font-weight="400" fill="#000" textLength="56.56" lengthAdjust="spacingAndGlyphs">CXCR5</text>
<text x="164.81" y="1278.10" font-size="16.14" font-weight="400" fill="#000" textLength="60.48" lengthAdjust="spacingAndGlyphs">FLT3LG</text>
<text x="616.51" y="1302.10" font-size="16.43" font-weight="400" fill="#000" textLength="62.08" lengthAdjust="spacingAndGlyphs">ZBTB16</text>
<text x="609.26" y="1340.10" font-size="16.71" font-weight="400" fill="#000">ECHDC3</text>
<text x="616.46" y="1369.60" font-size="17.14" font-weight="400" fill="#000">IL1R2</text>
<text x="611.94" y="1405.20" font-size="16.96" font-weight="400" fill="#000">FKBP5</text>
<text x="743.68" y="838.10" font-size="31.74" font-weight="700" fill="#1e1e1e" textLength="21.66" lengthAdjust="spacingAndGlyphs">D</text>
<text x="847.43" y="784.70" font-size="25.43" font-weight="400" fill="#555">2</text>
<text x="847.63" y="1017.60" font-size="26.81" font-weight="400" fill="#555">1</text>
<text x="847.87" y="1250.50" font-size="25.86" font-weight="400" fill="#555">0</text>
<text x="886.96" y="1462.60" font-size="24.71" font-weight="400" fill="#555" textLength="50.03" lengthAdjust="spacingAndGlyphs">−0.5</text>
<text x="1002.91" y="1462.60" font-size="24.71" font-weight="400" fill="#555">0.0</text>
<text x="1115.71" y="1462.60" font-size="24.71" font-weight="400" fill="#555">0.5</text>
<text x="1228.12" y="1462.60" font-size="24.71" font-weight="400" fill="#555">1.0</text>
<text x="1340.79" y="1462.60" font-size="25.07" font-weight="400" fill="#555">1.5</text>
</svg></body></html>
